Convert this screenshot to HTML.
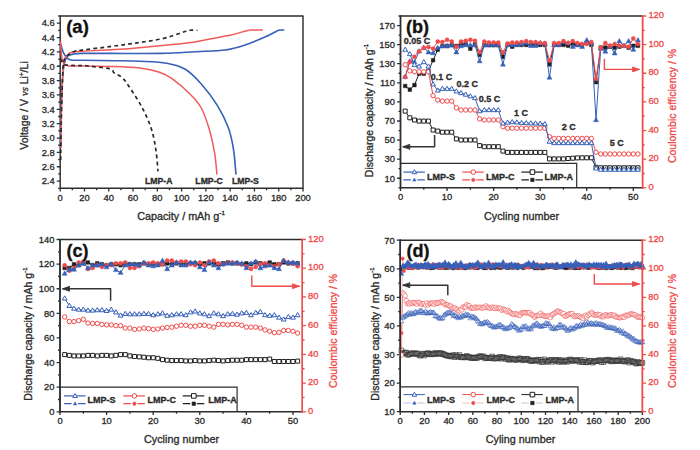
<!DOCTYPE html><html><head><meta charset="utf-8"><style>html,body{margin:0;padding:0;background:#fff;width:700px;height:450px;overflow:hidden;position:relative}</style></head><body><svg width="700" height="450" viewBox="0 0 700 450" style="position:absolute;left:0;top:0">
<g font-family='&quot;Liberation Sans&quot;, sans-serif'>
<path d="M60.2,16 H303 M60.2,188.3 H303" stroke="#2d2d2d" stroke-width="1.45" fill="none"/>
<path d="M60.2,15.4 V188.9" stroke="#2d2d2d" stroke-width="1.45" fill="none"/>
<path d="M303,15.4 V188.9" stroke="#2d2d2d" stroke-width="1.45" fill="none"/>
<path d="M60.20,188.3 v3.2 M84.48,188.3 v3.2 M108.76,188.3 v3.2 M133.04,188.3 v3.2 M157.32,188.3 v3.2 M181.60,188.3 v3.2 M205.88,188.3 v3.2 M230.16,188.3 v3.2 M254.44,188.3 v3.2 M278.72,188.3 v3.2 M303.00,188.3 v3.2 M72.34,188.3 v2 M96.62,188.3 v2 M120.90,188.3 v2 M145.18,188.3 v2 M169.46,188.3 v2 M193.74,188.3 v2 M218.02,188.3 v2 M242.30,188.3 v2 M266.58,188.3 v2 M290.86,188.3 v2 M60.2,181.12 h-3.4 M60.2,166.76 h-3.4 M60.2,152.40 h-3.4 M60.2,138.05 h-3.4 M60.2,123.69 h-3.4 M60.2,109.33 h-3.4 M60.2,94.97 h-3.4 M60.2,80.61 h-3.4 M60.2,66.25 h-3.4 M60.2,51.90 h-3.4 M60.2,37.54 h-3.4 M60.2,23.18 h-3.4 M60.2,188.30 h-2 M60.2,173.94 h-2 M60.2,159.58 h-2 M60.2,145.23 h-2 M60.2,130.87 h-2 M60.2,116.51 h-2 M60.2,102.15 h-2 M60.2,87.79 h-2 M60.2,73.43 h-2 M60.2,59.08 h-2 M60.2,44.72 h-2 M60.2,30.36 h-2 M60.2,16.00 h-2 " stroke="#2d2d2d" stroke-width="1.3" fill="none"/>
<text x="60.20" y="200.80" font-size="9.4" text-anchor="middle" fill="#2b2b2b" stroke="#2b2b2b" stroke-width="0.32" font-weight="normal" >0</text>
<text x="84.48" y="200.80" font-size="9.4" text-anchor="middle" fill="#2b2b2b" stroke="#2b2b2b" stroke-width="0.32" font-weight="normal" >20</text>
<text x="108.76" y="200.80" font-size="9.4" text-anchor="middle" fill="#2b2b2b" stroke="#2b2b2b" stroke-width="0.32" font-weight="normal" >40</text>
<text x="133.04" y="200.80" font-size="9.4" text-anchor="middle" fill="#2b2b2b" stroke="#2b2b2b" stroke-width="0.32" font-weight="normal" >60</text>
<text x="157.32" y="200.80" font-size="9.4" text-anchor="middle" fill="#2b2b2b" stroke="#2b2b2b" stroke-width="0.32" font-weight="normal" >80</text>
<text x="181.60" y="200.80" font-size="9.4" text-anchor="middle" fill="#2b2b2b" stroke="#2b2b2b" stroke-width="0.32" font-weight="normal" >100</text>
<text x="205.88" y="200.80" font-size="9.4" text-anchor="middle" fill="#2b2b2b" stroke="#2b2b2b" stroke-width="0.32" font-weight="normal" >120</text>
<text x="230.16" y="200.80" font-size="9.4" text-anchor="middle" fill="#2b2b2b" stroke="#2b2b2b" stroke-width="0.32" font-weight="normal" >140</text>
<text x="254.44" y="200.80" font-size="9.4" text-anchor="middle" fill="#2b2b2b" stroke="#2b2b2b" stroke-width="0.32" font-weight="normal" >160</text>
<text x="278.72" y="200.80" font-size="9.4" text-anchor="middle" fill="#2b2b2b" stroke="#2b2b2b" stroke-width="0.32" font-weight="normal" >180</text>
<text x="303.00" y="200.80" font-size="9.4" text-anchor="middle" fill="#2b2b2b" stroke="#2b2b2b" stroke-width="0.32" font-weight="normal" >200</text>
<text x="54.70" y="184.42" font-size="9.4" text-anchor="end" fill="#2b2b2b" stroke="#2b2b2b" stroke-width="0.32" font-weight="normal" >2.4</text>
<text x="54.70" y="170.06" font-size="9.4" text-anchor="end" fill="#2b2b2b" stroke="#2b2b2b" stroke-width="0.32" font-weight="normal" >2.6</text>
<text x="54.70" y="155.70" font-size="9.4" text-anchor="end" fill="#2b2b2b" stroke="#2b2b2b" stroke-width="0.32" font-weight="normal" >2.8</text>
<text x="54.70" y="141.35" font-size="9.4" text-anchor="end" fill="#2b2b2b" stroke="#2b2b2b" stroke-width="0.32" font-weight="normal" >3.0</text>
<text x="54.70" y="126.99" font-size="9.4" text-anchor="end" fill="#2b2b2b" stroke="#2b2b2b" stroke-width="0.32" font-weight="normal" >3.2</text>
<text x="54.70" y="112.63" font-size="9.4" text-anchor="end" fill="#2b2b2b" stroke="#2b2b2b" stroke-width="0.32" font-weight="normal" >3.4</text>
<text x="54.70" y="98.27" font-size="9.4" text-anchor="end" fill="#2b2b2b" stroke="#2b2b2b" stroke-width="0.32" font-weight="normal" >3.6</text>
<text x="54.70" y="83.91" font-size="9.4" text-anchor="end" fill="#2b2b2b" stroke="#2b2b2b" stroke-width="0.32" font-weight="normal" >3.8</text>
<text x="54.70" y="69.55" font-size="9.4" text-anchor="end" fill="#2b2b2b" stroke="#2b2b2b" stroke-width="0.32" font-weight="normal" >4.0</text>
<text x="54.70" y="55.20" font-size="9.4" text-anchor="end" fill="#2b2b2b" stroke="#2b2b2b" stroke-width="0.32" font-weight="normal" >4.2</text>
<text x="54.70" y="40.84" font-size="9.4" text-anchor="end" fill="#2b2b2b" stroke="#2b2b2b" stroke-width="0.32" font-weight="normal" >4.4</text>
<text x="54.70" y="26.48" font-size="9.4" text-anchor="end" fill="#2b2b2b" stroke="#2b2b2b" stroke-width="0.32" font-weight="normal" >4.6</text>
<text x="181.00" y="220.00" font-size="10.8" text-anchor="middle" fill="#2b2b2b" stroke="#2b2b2b" stroke-width="0.32" font-weight="normal" >Capacity / mAh g<tspan font-size="6.2" dy="-5">-1</tspan></text>
<text transform="translate(28.1,105.5) rotate(-90)" font-size="10.5" text-anchor="middle" fill="#2b2b2b" stroke="#2b2b2b" stroke-width="0.32">Voltage / V <tspan font-style="italic" font-family="Liberation Serif">vs</tspan> Li<tspan font-size="6.5" dy="-4">+</tspan><tspan dy="4">/Li</tspan></text>
<path d="M60.60,148.00 C60.70,141.67 60.90,121.33 61.20,110.00 C61.50,98.67 61.87,87.78 62.40,80.00 C62.93,72.22 63.53,67.25 64.40,63.30 C65.27,59.35 66.03,57.85 67.60,56.30 C69.17,54.75 71.40,54.48 73.80,54.00 C76.20,53.52 75.97,53.50 82.00,53.40 C88.03,53.30 96.77,53.40 110.00,53.40 C123.23,53.40 147.12,53.68 161.40,53.40 C175.68,53.12 185.10,52.27 195.70,51.70 C206.30,51.13 216.78,51.12 225.00,50.00 C233.22,48.88 238.33,47.17 245.00,45.00 C251.67,42.83 259.67,39.33 265.00,37.00 C270.33,34.67 274.73,32.13 277.00,31.00 C279.27,29.87 278.02,30.37 278.60,30.20 C279.18,30.03 279.55,30.03 280.50,30.00 C281.45,29.97 283.67,30.00 284.30,30.00" stroke="#3760b8" stroke-width="1.6" fill="none" stroke-linejoin="round"/>
<path d="M60.50,43.50 C61.03,45.12 62.52,50.67 63.70,53.20 C64.88,55.73 66.18,57.53 67.60,58.70 C69.02,59.87 69.80,59.95 72.20,60.20 C74.60,60.45 74.87,60.12 82.00,60.20 C89.13,60.28 105.33,60.52 115.00,60.70 C124.67,60.88 131.38,60.88 140.00,61.30 C148.62,61.72 159.15,61.87 166.70,63.20 C174.25,64.53 179.53,65.83 185.30,69.30 C191.07,72.77 195.97,78.00 201.30,84.00 C206.63,90.00 212.85,98.18 217.30,105.30 C221.75,112.42 225.33,119.58 228.00,126.70 C230.67,133.82 231.97,140.02 233.30,148.00 C234.63,155.98 235.55,170.17 236.00,174.60" stroke="#3760b8" stroke-width="1.6" fill="none" stroke-linejoin="round"/>
<path d="M60.80,148.00 C60.92,141.67 61.20,121.52 61.50,110.00 C61.80,98.48 62.12,87.20 62.60,78.90 C63.08,70.60 63.57,64.22 64.40,60.20 C65.23,56.18 66.30,56.15 67.60,54.80 C68.90,53.45 69.80,52.70 72.20,52.10 C74.60,51.50 74.87,51.62 82.00,51.20 C89.13,50.78 104.62,50.27 115.00,49.60 C125.38,48.93 135.13,48.00 144.30,47.20 C153.47,46.40 162.22,45.57 170.00,44.80 C177.78,44.03 184.33,43.57 191.00,42.60 C197.67,41.63 203.33,40.27 210.00,39.00 C216.67,37.73 225.17,36.30 231.00,35.00 C236.83,33.70 242.00,32.00 245.00,31.20 C248.00,30.40 247.83,30.40 249.00,30.20 C250.17,30.00 249.68,30.03 252.00,30.00 C254.32,29.97 261.08,30.00 262.90,30.00" stroke="#f25a5a" stroke-width="1.5" fill="none" stroke-linejoin="round"/>
<path d="M60.50,41.00 C60.68,43.42 61.07,51.78 61.60,55.50 C62.13,59.22 62.70,61.60 63.70,63.30 C64.70,65.00 64.55,65.23 67.60,65.70 C70.65,66.17 74.10,65.98 82.00,66.10 C89.90,66.22 105.33,66.08 115.00,66.40 C124.67,66.72 132.72,67.07 140.00,68.00 C147.28,68.93 153.37,70.22 158.70,72.00 C164.03,73.78 166.67,74.92 172.00,78.70 C177.33,82.48 185.82,89.82 190.70,94.70 C195.58,99.58 198.20,102.23 201.30,108.00 C204.40,113.77 207.07,121.75 209.30,129.30 C211.53,136.85 213.43,145.75 214.70,153.30 C215.97,160.85 216.53,171.05 216.90,174.60" stroke="#f25a5a" stroke-width="1.5" fill="none" stroke-linejoin="round"/>
<path d="M60.70,160.00 C60.80,153.33 61.00,133.33 61.30,120.00 C61.60,106.67 62.10,89.70 62.50,80.00 C62.90,70.30 62.85,65.88 63.70,61.80 C64.55,57.72 65.92,57.18 67.60,55.50 C69.28,53.82 71.40,52.60 73.80,51.70 C76.20,50.80 75.97,50.95 82.00,50.10 C88.03,49.25 101.05,47.77 110.00,46.60 C118.95,45.43 127.13,44.38 135.70,43.10 C144.27,41.82 154.25,40.47 161.40,38.90 C168.55,37.33 174.02,35.13 178.60,33.70 C183.18,32.27 185.77,30.87 188.90,30.30 C192.03,29.73 195.98,30.30 197.40,30.30" stroke="#2a2a2a" stroke-width="1.7" fill="none" stroke-linejoin="round" stroke-dasharray="3.8,3.2"/>
<path d="M60.50,58.70 C60.90,59.47 61.72,62.22 62.90,63.30 C64.08,64.38 64.42,64.80 67.60,65.20 C70.78,65.60 78.55,65.57 82.00,65.70 C85.45,65.83 83.63,65.47 88.30,66.00 C92.97,66.53 105.72,67.78 110.00,68.90 C114.28,70.02 112.00,71.27 114.00,72.70 C116.00,74.13 119.55,75.28 122.00,77.50 C124.45,79.72 125.37,81.03 128.70,86.00 C132.03,90.97 138.23,100.18 142.00,107.30 C145.77,114.42 148.98,121.58 151.30,128.70 C153.62,135.82 154.78,142.90 155.90,150.00 C157.02,157.10 157.65,167.75 158.00,171.30" stroke="#2a2a2a" stroke-width="1.7" fill="none" stroke-linejoin="round" stroke-dasharray="3.8,3.2"/>
<text x="158.80" y="184.20" font-size="8.7" text-anchor="middle" fill="#2b2b2b" stroke="#2b2b2b" stroke-width="0.32" font-weight="bold" >LMP-A</text>
<text x="209.10" y="184.20" font-size="8.7" text-anchor="middle" fill="#2b2b2b" stroke="#2b2b2b" stroke-width="0.32" font-weight="bold" >LMP-C</text>
<text x="245.40" y="184.20" font-size="8.7" text-anchor="middle" fill="#2b2b2b" stroke="#2b2b2b" stroke-width="0.32" font-weight="bold" >LMP-S</text>
<text x="66.20" y="32.80" font-size="18" text-anchor="start" fill="#111" stroke="#111" stroke-width="0.32" font-weight="bold" textLength="22.7" lengthAdjust="spacingAndGlyphs">(a)</text>
<path d="M400.5,16 H642.6 M400.5,187.8 H642.6" stroke="#2d2d2d" stroke-width="1.45" fill="none"/>
<path d="M400.5,15.4 V188.4" stroke="#2d2d2d" stroke-width="1.45" fill="none"/>
<path d="M642.6,15.4 V188.4" stroke="#ef4b4b" stroke-width="1.45" fill="none"/>
<path d="M400.50,187.8 v3.2 M447.06,187.8 v3.2 M493.62,187.8 v3.2 M540.17,187.8 v3.2 M586.73,187.8 v3.2 M633.29,187.8 v3.2 M423.78,187.8 v2 M470.34,187.8 v2 M516.89,187.8 v2 M563.45,187.8 v2 M610.01,187.8 v2 M400.5,178.26 h-3.4 M400.5,159.17 h-3.4 M400.5,140.08 h-3.4 M400.5,120.99 h-3.4 M400.5,101.90 h-3.4 M400.5,82.81 h-3.4 M400.5,63.72 h-3.4 M400.5,44.63 h-3.4 M400.5,25.54 h-3.4 M400.5,187.80 h-2 M400.5,168.71 h-2 M400.5,149.62 h-2 M400.5,130.53 h-2 M400.5,111.44 h-2 M400.5,92.36 h-2 M400.5,73.27 h-2 M400.5,54.18 h-2 M400.5,35.09 h-2 M400.5,16.00 h-2 " stroke="#2d2d2d" stroke-width="1.3" fill="none"/>
<path d="M642.6,187.80 h3.6 M642.6,159.17 h3.6 M642.6,130.53 h3.6 M642.6,101.90 h3.6 M642.6,73.27 h3.6 M642.6,44.63 h3.6 M642.6,16.00 h3.6 M642.6,173.48 h2.2 M642.6,144.85 h2.2 M642.6,116.22 h2.2 M642.6,87.58 h2.2 M642.6,58.95 h2.2 M642.6,30.32 h2.2 " stroke="#ef4b4b" stroke-width="1.3" fill="none"/>
<text x="400.50" y="200.30" font-size="9.4" text-anchor="middle" fill="#2b2b2b" stroke="#2b2b2b" stroke-width="0.32" font-weight="normal" >0</text>
<text x="447.06" y="200.30" font-size="9.4" text-anchor="middle" fill="#2b2b2b" stroke="#2b2b2b" stroke-width="0.32" font-weight="normal" >10</text>
<text x="493.62" y="200.30" font-size="9.4" text-anchor="middle" fill="#2b2b2b" stroke="#2b2b2b" stroke-width="0.32" font-weight="normal" >20</text>
<text x="540.17" y="200.30" font-size="9.4" text-anchor="middle" fill="#2b2b2b" stroke="#2b2b2b" stroke-width="0.32" font-weight="normal" >30</text>
<text x="586.73" y="200.30" font-size="9.4" text-anchor="middle" fill="#2b2b2b" stroke="#2b2b2b" stroke-width="0.32" font-weight="normal" >40</text>
<text x="633.29" y="200.30" font-size="9.4" text-anchor="middle" fill="#2b2b2b" stroke="#2b2b2b" stroke-width="0.32" font-weight="normal" >50</text>
<text x="395.00" y="181.56" font-size="9.4" text-anchor="end" fill="#2b2b2b" stroke="#2b2b2b" stroke-width="0.32" font-weight="normal" >10</text>
<text x="395.00" y="162.47" font-size="9.4" text-anchor="end" fill="#2b2b2b" stroke="#2b2b2b" stroke-width="0.32" font-weight="normal" >30</text>
<text x="395.00" y="143.38" font-size="9.4" text-anchor="end" fill="#2b2b2b" stroke="#2b2b2b" stroke-width="0.32" font-weight="normal" >50</text>
<text x="395.00" y="124.29" font-size="9.4" text-anchor="end" fill="#2b2b2b" stroke="#2b2b2b" stroke-width="0.32" font-weight="normal" >70</text>
<text x="395.00" y="105.20" font-size="9.4" text-anchor="end" fill="#2b2b2b" stroke="#2b2b2b" stroke-width="0.32" font-weight="normal" >90</text>
<text x="395.00" y="86.11" font-size="9.4" text-anchor="end" fill="#2b2b2b" stroke="#2b2b2b" stroke-width="0.32" font-weight="normal" >110</text>
<text x="395.00" y="67.02" font-size="9.4" text-anchor="end" fill="#2b2b2b" stroke="#2b2b2b" stroke-width="0.32" font-weight="normal" >130</text>
<text x="395.00" y="47.93" font-size="9.4" text-anchor="end" fill="#2b2b2b" stroke="#2b2b2b" stroke-width="0.32" font-weight="normal" >150</text>
<text x="395.00" y="28.84" font-size="9.4" text-anchor="end" fill="#2b2b2b" stroke="#2b2b2b" stroke-width="0.32" font-weight="normal" >170</text>
<text x="648.40" y="190.00" font-size="9.4" text-anchor="start" fill="#ef4b4b" stroke="#ef4b4b" stroke-width="0.32" font-weight="normal" >0</text>
<text x="648.40" y="161.37" font-size="9.4" text-anchor="start" fill="#ef4b4b" stroke="#ef4b4b" stroke-width="0.32" font-weight="normal" >20</text>
<text x="648.40" y="132.73" font-size="9.4" text-anchor="start" fill="#ef4b4b" stroke="#ef4b4b" stroke-width="0.32" font-weight="normal" >40</text>
<text x="648.40" y="104.10" font-size="9.4" text-anchor="start" fill="#ef4b4b" stroke="#ef4b4b" stroke-width="0.32" font-weight="normal" >60</text>
<text x="648.40" y="75.47" font-size="9.4" text-anchor="start" fill="#ef4b4b" stroke="#ef4b4b" stroke-width="0.32" font-weight="normal" >80</text>
<text x="648.40" y="46.83" font-size="9.4" text-anchor="start" fill="#ef4b4b" stroke="#ef4b4b" stroke-width="0.32" font-weight="normal" >100</text>
<text x="648.40" y="18.20" font-size="9.4" text-anchor="start" fill="#ef4b4b" stroke="#ef4b4b" stroke-width="0.32" font-weight="normal" >120</text>
<text x="521.50" y="220.20" font-size="10.8" text-anchor="middle" fill="#2b2b2b" stroke="#2b2b2b" stroke-width="0.32" font-weight="normal" >Cycling number</text>
<text transform="translate(373,110.5) rotate(-90)" font-size="10.5" text-anchor="middle" fill="#2b2b2b" stroke="#2b2b2b" stroke-width="0.32">Discharge capacity / mAh g<tspan font-size="6.2" dy="-5">-1</tspan></text>
<text transform="translate(676,106) rotate(-90)" font-size="10.5" text-anchor="middle" fill="#ef4b4b" stroke="#ef4b4b" stroke-width="0.32">Coulombic efficiency / %</text>
<path d="M405.16,86.00 L409.81,89.60 L414.47,85.10 L419.12,73.60 L423.78,73.60 L428.43,70.90 L433.09,60.20 L437.75,49.60 L442.40,46.00 L447.06,46.00 L451.71,45.10 L456.37,46.00 L461.02,44.20 L465.68,44.20 L470.34,48.70 L474.99,44.20 L479.65,54.90 L484.30,45.10 L488.96,45.10 L493.62,45.10 L498.27,45.10 L502.93,56.90 L507.58,44.90 L512.24,46.70 L516.89,44.90 L521.55,44.90 L526.21,44.90 L530.86,44.90 L535.52,44.90 L540.17,44.90 L544.83,44.90 L549.48,64.40 L554.14,44.90 L558.80,44.90 L563.45,44.90 L568.11,45.80 L572.76,44.00 L577.42,44.90 L582.08,44.90 L586.73,43.00 L591.39,44.90 L596.04,82.20 L600.70,47.60 L605.35,47.60 L610.01,46.70 L614.67,47.60 L619.32,46.70 L623.98,45.80 L628.63,47.60 L633.29,45.80 L637.94,45.80" stroke="#1e1e1e" stroke-width="1.0" fill="none" stroke-linejoin="round"/>
<path d="M403.36,84.20 h3.60 v3.60 h-3.60 Z M408.01,87.80 h3.60 v3.60 h-3.60 Z M412.67,83.30 h3.60 v3.60 h-3.60 Z M417.32,71.80 h3.60 v3.60 h-3.60 Z M421.98,71.80 h3.60 v3.60 h-3.60 Z M426.63,69.10 h3.60 v3.60 h-3.60 Z M431.29,58.40 h3.60 v3.60 h-3.60 Z M435.95,47.80 h3.60 v3.60 h-3.60 Z M440.60,44.20 h3.60 v3.60 h-3.60 Z M445.26,44.20 h3.60 v3.60 h-3.60 Z M449.91,43.30 h3.60 v3.60 h-3.60 Z M454.57,44.20 h3.60 v3.60 h-3.60 Z M459.22,42.40 h3.60 v3.60 h-3.60 Z M463.88,42.40 h3.60 v3.60 h-3.60 Z M468.54,46.90 h3.60 v3.60 h-3.60 Z M473.19,42.40 h3.60 v3.60 h-3.60 Z M477.85,53.10 h3.60 v3.60 h-3.60 Z M482.50,43.30 h3.60 v3.60 h-3.60 Z M487.16,43.30 h3.60 v3.60 h-3.60 Z M491.82,43.30 h3.60 v3.60 h-3.60 Z M496.47,43.30 h3.60 v3.60 h-3.60 Z M501.13,55.10 h3.60 v3.60 h-3.60 Z M505.78,43.10 h3.60 v3.60 h-3.60 Z M510.44,44.90 h3.60 v3.60 h-3.60 Z M515.09,43.10 h3.60 v3.60 h-3.60 Z M519.75,43.10 h3.60 v3.60 h-3.60 Z M524.41,43.10 h3.60 v3.60 h-3.60 Z M529.06,43.10 h3.60 v3.60 h-3.60 Z M533.72,43.10 h3.60 v3.60 h-3.60 Z M538.37,43.10 h3.60 v3.60 h-3.60 Z M543.03,43.10 h3.60 v3.60 h-3.60 Z M547.68,62.60 h3.60 v3.60 h-3.60 Z M552.34,43.10 h3.60 v3.60 h-3.60 Z M557.00,43.10 h3.60 v3.60 h-3.60 Z M561.65,43.10 h3.60 v3.60 h-3.60 Z M566.31,44.00 h3.60 v3.60 h-3.60 Z M570.96,42.20 h3.60 v3.60 h-3.60 Z M575.62,43.10 h3.60 v3.60 h-3.60 Z M580.28,43.10 h3.60 v3.60 h-3.60 Z M584.93,41.20 h3.60 v3.60 h-3.60 Z M589.59,43.10 h3.60 v3.60 h-3.60 Z M594.24,80.40 h3.60 v3.60 h-3.60 Z M598.90,45.80 h3.60 v3.60 h-3.60 Z M603.55,45.80 h3.60 v3.60 h-3.60 Z M608.21,44.90 h3.60 v3.60 h-3.60 Z M612.87,45.80 h3.60 v3.60 h-3.60 Z M617.52,44.90 h3.60 v3.60 h-3.60 Z M622.18,44.00 h3.60 v3.60 h-3.60 Z M626.83,45.80 h3.60 v3.60 h-3.60 Z M631.49,44.00 h3.60 v3.60 h-3.60 Z M636.14,44.00 h3.60 v3.60 h-3.60 Z " stroke="#1e1e1e" stroke-width="0.5" fill="#1e1e1e"/>
<path d="M405.16,76.60 L409.81,61.10 L414.47,62.00 L419.12,51.30 L423.78,47.80 L428.43,52.20 L433.09,53.10 L437.75,47.80 L442.40,46.00 L447.06,46.00 L451.71,45.10 L456.37,52.20 L461.02,46.00 L465.68,45.10 L470.34,45.10 L474.99,45.10 L479.65,61.10 L484.30,45.10 L488.96,45.10 L493.62,45.10 L498.27,45.10 L502.93,64.40 L507.58,44.90 L512.24,44.90 L516.89,44.90 L521.55,43.90 L526.21,43.00 L530.86,45.80 L535.52,45.80 L540.17,43.00 L544.83,43.90 L549.48,77.40 L554.14,44.90 L558.80,44.90 L563.45,42.00 L568.11,43.00 L572.76,46.70 L577.42,44.90 L582.08,46.70 L586.73,40.20 L591.39,43.00 L596.04,120.00 L600.70,48.60 L605.35,51.40 L610.01,45.80 L614.67,53.20 L619.32,41.10 L623.98,45.80 L628.63,41.10 L633.29,49.50 L637.94,40.20" stroke="#3760b8" stroke-width="1.0" fill="none" stroke-linejoin="round"/>
<path d="M405.16,74.00 L407.66,78.33 L402.66,78.33 Z M409.81,58.50 L412.31,62.83 L407.31,62.83 Z M414.47,59.40 L416.97,63.73 L411.97,63.73 Z M419.12,48.70 L421.62,53.03 L416.62,53.03 Z M423.78,45.20 L426.28,49.53 L421.28,49.53 Z M428.43,49.60 L430.93,53.93 L425.93,53.93 Z M433.09,50.50 L435.59,54.83 L430.59,54.83 Z M437.75,45.20 L440.25,49.53 L435.25,49.53 Z M442.40,43.40 L444.90,47.73 L439.90,47.73 Z M447.06,43.40 L449.56,47.73 L444.56,47.73 Z M451.71,42.50 L454.21,46.83 L449.21,46.83 Z M456.37,49.60 L458.87,53.93 L453.87,53.93 Z M461.02,43.40 L463.52,47.73 L458.52,47.73 Z M465.68,42.50 L468.18,46.83 L463.18,46.83 Z M470.34,42.50 L472.84,46.83 L467.84,46.83 Z M474.99,42.50 L477.49,46.83 L472.49,46.83 Z M479.65,58.50 L482.15,62.83 L477.15,62.83 Z M484.30,42.50 L486.80,46.83 L481.80,46.83 Z M488.96,42.50 L491.46,46.83 L486.46,46.83 Z M493.62,42.50 L496.12,46.83 L491.12,46.83 Z M498.27,42.50 L500.77,46.83 L495.77,46.83 Z M502.93,61.80 L505.43,66.13 L500.43,66.13 Z M507.58,42.30 L510.08,46.63 L505.08,46.63 Z M512.24,42.30 L514.74,46.63 L509.74,46.63 Z M516.89,42.30 L519.39,46.63 L514.39,46.63 Z M521.55,41.30 L524.05,45.63 L519.05,45.63 Z M526.21,40.40 L528.71,44.73 L523.71,44.73 Z M530.86,43.20 L533.36,47.53 L528.36,47.53 Z M535.52,43.20 L538.02,47.53 L533.02,47.53 Z M540.17,40.40 L542.67,44.73 L537.67,44.73 Z M544.83,41.30 L547.33,45.63 L542.33,45.63 Z M549.48,74.80 L551.98,79.13 L546.98,79.13 Z M554.14,42.30 L556.64,46.63 L551.64,46.63 Z M558.80,42.30 L561.30,46.63 L556.30,46.63 Z M563.45,39.40 L565.95,43.73 L560.95,43.73 Z M568.11,40.40 L570.61,44.73 L565.61,44.73 Z M572.76,44.10 L575.26,48.43 L570.26,48.43 Z M577.42,42.30 L579.92,46.63 L574.92,46.63 Z M582.08,44.10 L584.58,48.43 L579.58,48.43 Z M586.73,37.60 L589.23,41.93 L584.23,41.93 Z M591.39,40.40 L593.89,44.73 L588.89,44.73 Z M596.04,117.40 L598.54,121.73 L593.54,121.73 Z M600.70,46.00 L603.20,50.33 L598.20,50.33 Z M605.35,48.80 L607.85,53.13 L602.85,53.13 Z M610.01,43.20 L612.51,47.53 L607.51,47.53 Z M614.67,50.60 L617.17,54.93 L612.17,54.93 Z M619.32,38.50 L621.82,42.83 L616.82,42.83 Z M623.98,43.20 L626.48,47.53 L621.48,47.53 Z M628.63,38.50 L631.13,42.83 L626.13,42.83 Z M633.29,46.90 L635.79,51.23 L630.79,51.23 Z M637.94,37.60 L640.44,41.93 L635.44,41.93 Z " stroke="#3760b8" stroke-width="0.5" fill="#3760b8" stroke-linejoin="miter"/>
<path d="M405.16,77.10 L409.81,62.00 L414.47,56.70 L419.12,51.30 L423.78,47.80 L428.43,46.90 L433.09,48.70 L437.75,41.60 L442.40,42.10 L447.06,39.80 L451.71,41.60 L456.37,46.90 L461.02,41.60 L465.68,40.70 L470.34,39.80 L474.99,40.70 L479.65,52.20 L484.30,41.60 L488.96,42.40 L493.62,42.40 L498.27,42.40 L502.93,52.30 L507.58,43.40 L512.24,42.60 L516.89,42.60 L521.55,42.10 L526.21,41.10 L530.86,42.10 L535.52,42.10 L540.17,43.00 L544.83,43.00 L549.48,60.60 L554.14,43.00 L558.80,43.00 L563.45,41.10 L568.11,43.00 L572.76,41.10 L577.42,43.00 L582.08,43.90 L586.73,43.90 L591.39,42.00 L596.04,78.90 L600.70,47.60 L605.35,43.00 L610.01,45.80 L614.67,43.90 L619.32,45.80 L623.98,45.80 L628.63,46.70 L633.29,38.40 L637.94,43.90" stroke="#ef4b4b" stroke-width="1.0" fill="none" stroke-linejoin="round"/>
<circle cx="405.16" cy="77.10" r="2.00" stroke="#ef4b4b" stroke-width="0.5" fill="#ef4b4b"/>
<circle cx="409.81" cy="62.00" r="2.00" stroke="#ef4b4b" stroke-width="0.5" fill="#ef4b4b"/>
<circle cx="414.47" cy="56.70" r="2.00" stroke="#ef4b4b" stroke-width="0.5" fill="#ef4b4b"/>
<circle cx="419.12" cy="51.30" r="2.00" stroke="#ef4b4b" stroke-width="0.5" fill="#ef4b4b"/>
<circle cx="423.78" cy="47.80" r="2.00" stroke="#ef4b4b" stroke-width="0.5" fill="#ef4b4b"/>
<circle cx="428.43" cy="46.90" r="2.00" stroke="#ef4b4b" stroke-width="0.5" fill="#ef4b4b"/>
<circle cx="433.09" cy="48.70" r="2.00" stroke="#ef4b4b" stroke-width="0.5" fill="#ef4b4b"/>
<circle cx="437.75" cy="41.60" r="2.00" stroke="#ef4b4b" stroke-width="0.5" fill="#ef4b4b"/>
<circle cx="442.40" cy="42.10" r="2.00" stroke="#ef4b4b" stroke-width="0.5" fill="#ef4b4b"/>
<circle cx="447.06" cy="39.80" r="2.00" stroke="#ef4b4b" stroke-width="0.5" fill="#ef4b4b"/>
<circle cx="451.71" cy="41.60" r="2.00" stroke="#ef4b4b" stroke-width="0.5" fill="#ef4b4b"/>
<circle cx="456.37" cy="46.90" r="2.00" stroke="#ef4b4b" stroke-width="0.5" fill="#ef4b4b"/>
<circle cx="461.02" cy="41.60" r="2.00" stroke="#ef4b4b" stroke-width="0.5" fill="#ef4b4b"/>
<circle cx="465.68" cy="40.70" r="2.00" stroke="#ef4b4b" stroke-width="0.5" fill="#ef4b4b"/>
<circle cx="470.34" cy="39.80" r="2.00" stroke="#ef4b4b" stroke-width="0.5" fill="#ef4b4b"/>
<circle cx="474.99" cy="40.70" r="2.00" stroke="#ef4b4b" stroke-width="0.5" fill="#ef4b4b"/>
<circle cx="479.65" cy="52.20" r="2.00" stroke="#ef4b4b" stroke-width="0.5" fill="#ef4b4b"/>
<circle cx="484.30" cy="41.60" r="2.00" stroke="#ef4b4b" stroke-width="0.5" fill="#ef4b4b"/>
<circle cx="488.96" cy="42.40" r="2.00" stroke="#ef4b4b" stroke-width="0.5" fill="#ef4b4b"/>
<circle cx="493.62" cy="42.40" r="2.00" stroke="#ef4b4b" stroke-width="0.5" fill="#ef4b4b"/>
<circle cx="498.27" cy="42.40" r="2.00" stroke="#ef4b4b" stroke-width="0.5" fill="#ef4b4b"/>
<circle cx="502.93" cy="52.30" r="2.00" stroke="#ef4b4b" stroke-width="0.5" fill="#ef4b4b"/>
<circle cx="507.58" cy="43.40" r="2.00" stroke="#ef4b4b" stroke-width="0.5" fill="#ef4b4b"/>
<circle cx="512.24" cy="42.60" r="2.00" stroke="#ef4b4b" stroke-width="0.5" fill="#ef4b4b"/>
<circle cx="516.89" cy="42.60" r="2.00" stroke="#ef4b4b" stroke-width="0.5" fill="#ef4b4b"/>
<circle cx="521.55" cy="42.10" r="2.00" stroke="#ef4b4b" stroke-width="0.5" fill="#ef4b4b"/>
<circle cx="526.21" cy="41.10" r="2.00" stroke="#ef4b4b" stroke-width="0.5" fill="#ef4b4b"/>
<circle cx="530.86" cy="42.10" r="2.00" stroke="#ef4b4b" stroke-width="0.5" fill="#ef4b4b"/>
<circle cx="535.52" cy="42.10" r="2.00" stroke="#ef4b4b" stroke-width="0.5" fill="#ef4b4b"/>
<circle cx="540.17" cy="43.00" r="2.00" stroke="#ef4b4b" stroke-width="0.5" fill="#ef4b4b"/>
<circle cx="544.83" cy="43.00" r="2.00" stroke="#ef4b4b" stroke-width="0.5" fill="#ef4b4b"/>
<circle cx="549.48" cy="60.60" r="2.00" stroke="#ef4b4b" stroke-width="0.5" fill="#ef4b4b"/>
<circle cx="554.14" cy="43.00" r="2.00" stroke="#ef4b4b" stroke-width="0.5" fill="#ef4b4b"/>
<circle cx="558.80" cy="43.00" r="2.00" stroke="#ef4b4b" stroke-width="0.5" fill="#ef4b4b"/>
<circle cx="563.45" cy="41.10" r="2.00" stroke="#ef4b4b" stroke-width="0.5" fill="#ef4b4b"/>
<circle cx="568.11" cy="43.00" r="2.00" stroke="#ef4b4b" stroke-width="0.5" fill="#ef4b4b"/>
<circle cx="572.76" cy="41.10" r="2.00" stroke="#ef4b4b" stroke-width="0.5" fill="#ef4b4b"/>
<circle cx="577.42" cy="43.00" r="2.00" stroke="#ef4b4b" stroke-width="0.5" fill="#ef4b4b"/>
<circle cx="582.08" cy="43.90" r="2.00" stroke="#ef4b4b" stroke-width="0.5" fill="#ef4b4b"/>
<circle cx="586.73" cy="43.90" r="2.00" stroke="#ef4b4b" stroke-width="0.5" fill="#ef4b4b"/>
<circle cx="591.39" cy="42.00" r="2.00" stroke="#ef4b4b" stroke-width="0.5" fill="#ef4b4b"/>
<circle cx="596.04" cy="78.90" r="2.00" stroke="#ef4b4b" stroke-width="0.5" fill="#ef4b4b"/>
<circle cx="600.70" cy="47.60" r="2.00" stroke="#ef4b4b" stroke-width="0.5" fill="#ef4b4b"/>
<circle cx="605.35" cy="43.00" r="2.00" stroke="#ef4b4b" stroke-width="0.5" fill="#ef4b4b"/>
<circle cx="610.01" cy="45.80" r="2.00" stroke="#ef4b4b" stroke-width="0.5" fill="#ef4b4b"/>
<circle cx="614.67" cy="43.90" r="2.00" stroke="#ef4b4b" stroke-width="0.5" fill="#ef4b4b"/>
<circle cx="619.32" cy="45.80" r="2.00" stroke="#ef4b4b" stroke-width="0.5" fill="#ef4b4b"/>
<circle cx="623.98" cy="45.80" r="2.00" stroke="#ef4b4b" stroke-width="0.5" fill="#ef4b4b"/>
<circle cx="628.63" cy="46.70" r="2.00" stroke="#ef4b4b" stroke-width="0.5" fill="#ef4b4b"/>
<circle cx="633.29" cy="38.40" r="2.00" stroke="#ef4b4b" stroke-width="0.5" fill="#ef4b4b"/>
<circle cx="637.94" cy="43.90" r="2.00" stroke="#ef4b4b" stroke-width="0.5" fill="#ef4b4b"/>
<path d="M405.16,111.10 L409.81,117.80 L414.47,120.00 L419.12,121.10 L423.78,121.10 L428.43,121.10 L433.09,130.00 L437.75,131.10 L442.40,132.20 L447.06,132.20 L451.71,132.20 L456.37,138.90 L461.02,140.00 L465.68,140.00 L470.34,140.00 L474.99,140.00 L479.65,145.60 L484.30,146.70 L488.96,146.70 L493.62,146.70 L498.27,146.70 L502.93,151.10 L507.58,152.40 L512.24,152.40 L516.89,152.40 L521.55,152.40 L526.21,152.40 L530.86,152.40 L535.52,152.40 L540.17,152.40 L544.83,152.40 L549.48,158.90 L554.14,158.90 L558.80,158.90 L563.45,158.90 L568.11,158.50 L572.76,158.20 L577.42,157.90 L582.08,157.80 L586.73,157.80 L591.39,157.80 L596.04,167.30 L600.70,167.80 L605.35,167.80 L610.01,167.80 L614.67,167.80 L619.32,167.80 L623.98,167.80 L628.63,167.80 L633.29,167.80 L637.94,167.80" stroke="#1e1e1e" stroke-width="1.0" fill="none" stroke-linejoin="round"/>
<path d="M403.16,109.10 h4.00 v4.00 h-4.00 Z M407.81,115.80 h4.00 v4.00 h-4.00 Z M412.47,118.00 h4.00 v4.00 h-4.00 Z M417.12,119.10 h4.00 v4.00 h-4.00 Z M421.78,119.10 h4.00 v4.00 h-4.00 Z M426.43,119.10 h4.00 v4.00 h-4.00 Z M431.09,128.00 h4.00 v4.00 h-4.00 Z M435.75,129.10 h4.00 v4.00 h-4.00 Z M440.40,130.20 h4.00 v4.00 h-4.00 Z M445.06,130.20 h4.00 v4.00 h-4.00 Z M449.71,130.20 h4.00 v4.00 h-4.00 Z M454.37,136.90 h4.00 v4.00 h-4.00 Z M459.02,138.00 h4.00 v4.00 h-4.00 Z M463.68,138.00 h4.00 v4.00 h-4.00 Z M468.34,138.00 h4.00 v4.00 h-4.00 Z M472.99,138.00 h4.00 v4.00 h-4.00 Z M477.65,143.60 h4.00 v4.00 h-4.00 Z M482.30,144.70 h4.00 v4.00 h-4.00 Z M486.96,144.70 h4.00 v4.00 h-4.00 Z M491.62,144.70 h4.00 v4.00 h-4.00 Z M496.27,144.70 h4.00 v4.00 h-4.00 Z M500.93,149.10 h4.00 v4.00 h-4.00 Z M505.58,150.40 h4.00 v4.00 h-4.00 Z M510.24,150.40 h4.00 v4.00 h-4.00 Z M514.89,150.40 h4.00 v4.00 h-4.00 Z M519.55,150.40 h4.00 v4.00 h-4.00 Z M524.21,150.40 h4.00 v4.00 h-4.00 Z M528.86,150.40 h4.00 v4.00 h-4.00 Z M533.52,150.40 h4.00 v4.00 h-4.00 Z M538.17,150.40 h4.00 v4.00 h-4.00 Z M542.83,150.40 h4.00 v4.00 h-4.00 Z M547.48,156.90 h4.00 v4.00 h-4.00 Z M552.14,156.90 h4.00 v4.00 h-4.00 Z M556.80,156.90 h4.00 v4.00 h-4.00 Z M561.45,156.90 h4.00 v4.00 h-4.00 Z M566.11,156.50 h4.00 v4.00 h-4.00 Z M570.76,156.20 h4.00 v4.00 h-4.00 Z M575.42,155.90 h4.00 v4.00 h-4.00 Z M580.08,155.80 h4.00 v4.00 h-4.00 Z M584.73,155.80 h4.00 v4.00 h-4.00 Z M589.39,155.80 h4.00 v4.00 h-4.00 Z M594.04,165.30 h4.00 v4.00 h-4.00 Z M598.70,165.80 h4.00 v4.00 h-4.00 Z M603.35,165.80 h4.00 v4.00 h-4.00 Z M608.01,165.80 h4.00 v4.00 h-4.00 Z M612.67,165.80 h4.00 v4.00 h-4.00 Z M617.32,165.80 h4.00 v4.00 h-4.00 Z M621.98,165.80 h4.00 v4.00 h-4.00 Z M626.63,165.80 h4.00 v4.00 h-4.00 Z M631.29,165.80 h4.00 v4.00 h-4.00 Z M635.94,165.80 h4.00 v4.00 h-4.00 Z " stroke="#1e1e1e" stroke-width="1.0" fill="#fff"/>
<path d="M405.16,64.70 L409.81,70.90 L414.47,71.80 L419.12,71.80 L423.78,71.80 L428.43,71.80 L433.09,95.60 L437.75,100.00 L442.40,101.10 L447.06,101.10 L451.71,101.10 L456.37,107.80 L461.02,110.00 L465.68,110.00 L470.34,110.00 L474.99,110.00 L479.65,118.90 L484.30,120.00 L488.96,120.00 L493.62,120.00 L498.27,120.00 L502.93,126.70 L507.58,128.20 L512.24,128.20 L516.89,128.20 L521.55,128.20 L526.21,128.20 L530.86,128.20 L535.52,128.20 L540.17,128.20 L544.83,128.20 L549.48,136.70 L554.14,138.40 L558.80,138.40 L563.45,138.40 L568.11,138.40 L572.76,138.40 L577.42,138.40 L582.08,138.40 L586.73,138.40 L591.39,138.40 L596.04,152.20 L600.70,154.00 L605.35,154.00 L610.01,154.00 L614.67,154.00 L619.32,154.00 L623.98,154.00 L628.63,154.00 L633.29,154.00 L637.94,154.00" stroke="#ef4b4b" stroke-width="1.0" fill="none" stroke-linejoin="round"/>
<circle cx="405.16" cy="64.70" r="2.20" stroke="#ef4b4b" stroke-width="1.0" fill="#fff"/>
<circle cx="409.81" cy="70.90" r="2.20" stroke="#ef4b4b" stroke-width="1.0" fill="#fff"/>
<circle cx="414.47" cy="71.80" r="2.20" stroke="#ef4b4b" stroke-width="1.0" fill="#fff"/>
<circle cx="419.12" cy="71.80" r="2.20" stroke="#ef4b4b" stroke-width="1.0" fill="#fff"/>
<circle cx="423.78" cy="71.80" r="2.20" stroke="#ef4b4b" stroke-width="1.0" fill="#fff"/>
<circle cx="428.43" cy="71.80" r="2.20" stroke="#ef4b4b" stroke-width="1.0" fill="#fff"/>
<circle cx="433.09" cy="95.60" r="2.20" stroke="#ef4b4b" stroke-width="1.0" fill="#fff"/>
<circle cx="437.75" cy="100.00" r="2.20" stroke="#ef4b4b" stroke-width="1.0" fill="#fff"/>
<circle cx="442.40" cy="101.10" r="2.20" stroke="#ef4b4b" stroke-width="1.0" fill="#fff"/>
<circle cx="447.06" cy="101.10" r="2.20" stroke="#ef4b4b" stroke-width="1.0" fill="#fff"/>
<circle cx="451.71" cy="101.10" r="2.20" stroke="#ef4b4b" stroke-width="1.0" fill="#fff"/>
<circle cx="456.37" cy="107.80" r="2.20" stroke="#ef4b4b" stroke-width="1.0" fill="#fff"/>
<circle cx="461.02" cy="110.00" r="2.20" stroke="#ef4b4b" stroke-width="1.0" fill="#fff"/>
<circle cx="465.68" cy="110.00" r="2.20" stroke="#ef4b4b" stroke-width="1.0" fill="#fff"/>
<circle cx="470.34" cy="110.00" r="2.20" stroke="#ef4b4b" stroke-width="1.0" fill="#fff"/>
<circle cx="474.99" cy="110.00" r="2.20" stroke="#ef4b4b" stroke-width="1.0" fill="#fff"/>
<circle cx="479.65" cy="118.90" r="2.20" stroke="#ef4b4b" stroke-width="1.0" fill="#fff"/>
<circle cx="484.30" cy="120.00" r="2.20" stroke="#ef4b4b" stroke-width="1.0" fill="#fff"/>
<circle cx="488.96" cy="120.00" r="2.20" stroke="#ef4b4b" stroke-width="1.0" fill="#fff"/>
<circle cx="493.62" cy="120.00" r="2.20" stroke="#ef4b4b" stroke-width="1.0" fill="#fff"/>
<circle cx="498.27" cy="120.00" r="2.20" stroke="#ef4b4b" stroke-width="1.0" fill="#fff"/>
<circle cx="502.93" cy="126.70" r="2.20" stroke="#ef4b4b" stroke-width="1.0" fill="#fff"/>
<circle cx="507.58" cy="128.20" r="2.20" stroke="#ef4b4b" stroke-width="1.0" fill="#fff"/>
<circle cx="512.24" cy="128.20" r="2.20" stroke="#ef4b4b" stroke-width="1.0" fill="#fff"/>
<circle cx="516.89" cy="128.20" r="2.20" stroke="#ef4b4b" stroke-width="1.0" fill="#fff"/>
<circle cx="521.55" cy="128.20" r="2.20" stroke="#ef4b4b" stroke-width="1.0" fill="#fff"/>
<circle cx="526.21" cy="128.20" r="2.20" stroke="#ef4b4b" stroke-width="1.0" fill="#fff"/>
<circle cx="530.86" cy="128.20" r="2.20" stroke="#ef4b4b" stroke-width="1.0" fill="#fff"/>
<circle cx="535.52" cy="128.20" r="2.20" stroke="#ef4b4b" stroke-width="1.0" fill="#fff"/>
<circle cx="540.17" cy="128.20" r="2.20" stroke="#ef4b4b" stroke-width="1.0" fill="#fff"/>
<circle cx="544.83" cy="128.20" r="2.20" stroke="#ef4b4b" stroke-width="1.0" fill="#fff"/>
<circle cx="549.48" cy="136.70" r="2.20" stroke="#ef4b4b" stroke-width="1.0" fill="#fff"/>
<circle cx="554.14" cy="138.40" r="2.20" stroke="#ef4b4b" stroke-width="1.0" fill="#fff"/>
<circle cx="558.80" cy="138.40" r="2.20" stroke="#ef4b4b" stroke-width="1.0" fill="#fff"/>
<circle cx="563.45" cy="138.40" r="2.20" stroke="#ef4b4b" stroke-width="1.0" fill="#fff"/>
<circle cx="568.11" cy="138.40" r="2.20" stroke="#ef4b4b" stroke-width="1.0" fill="#fff"/>
<circle cx="572.76" cy="138.40" r="2.20" stroke="#ef4b4b" stroke-width="1.0" fill="#fff"/>
<circle cx="577.42" cy="138.40" r="2.20" stroke="#ef4b4b" stroke-width="1.0" fill="#fff"/>
<circle cx="582.08" cy="138.40" r="2.20" stroke="#ef4b4b" stroke-width="1.0" fill="#fff"/>
<circle cx="586.73" cy="138.40" r="2.20" stroke="#ef4b4b" stroke-width="1.0" fill="#fff"/>
<circle cx="591.39" cy="138.40" r="2.20" stroke="#ef4b4b" stroke-width="1.0" fill="#fff"/>
<circle cx="596.04" cy="152.20" r="2.20" stroke="#ef4b4b" stroke-width="1.0" fill="#fff"/>
<circle cx="600.70" cy="154.00" r="2.20" stroke="#ef4b4b" stroke-width="1.0" fill="#fff"/>
<circle cx="605.35" cy="154.00" r="2.20" stroke="#ef4b4b" stroke-width="1.0" fill="#fff"/>
<circle cx="610.01" cy="154.00" r="2.20" stroke="#ef4b4b" stroke-width="1.0" fill="#fff"/>
<circle cx="614.67" cy="154.00" r="2.20" stroke="#ef4b4b" stroke-width="1.0" fill="#fff"/>
<circle cx="619.32" cy="154.00" r="2.20" stroke="#ef4b4b" stroke-width="1.0" fill="#fff"/>
<circle cx="623.98" cy="154.00" r="2.20" stroke="#ef4b4b" stroke-width="1.0" fill="#fff"/>
<circle cx="628.63" cy="154.00" r="2.20" stroke="#ef4b4b" stroke-width="1.0" fill="#fff"/>
<circle cx="633.29" cy="154.00" r="2.20" stroke="#ef4b4b" stroke-width="1.0" fill="#fff"/>
<circle cx="637.94" cy="154.00" r="2.20" stroke="#ef4b4b" stroke-width="1.0" fill="#fff"/>
<path d="M405.16,49.60 L409.81,54.00 L414.47,64.70 L419.12,66.40 L423.78,62.00 L428.43,66.40 L433.09,84.20 L437.75,90.40 L442.40,88.70 L447.06,88.70 L451.71,88.70 L456.37,91.30 L461.02,93.00 L465.68,94.50 L470.34,96.20 L474.99,98.00 L479.65,111.10 L484.30,110.00 L488.96,110.00 L493.62,110.00 L498.27,110.00 L502.93,123.30 L507.58,122.50 L512.24,122.00 L516.89,122.30 L521.55,122.80 L526.21,123.00 L530.86,123.20 L535.52,123.30 L540.17,123.50 L544.83,124.00 L549.48,141.60 L554.14,143.00 L558.80,143.00 L563.45,143.00 L568.11,143.00 L572.76,143.00 L577.42,143.00 L582.08,143.00 L586.73,143.00 L591.39,143.00 L596.04,168.30 L600.70,169.60 L605.35,169.60 L610.01,169.60 L614.67,169.60 L619.32,169.60 L623.98,169.60 L628.63,169.60 L633.29,169.60 L637.94,169.60" stroke="#3760b8" stroke-width="1.0" fill="none" stroke-linejoin="round"/>
<path d="M405.16,47.11 L407.56,51.26 L402.76,51.26 Z M409.81,51.51 L412.21,55.66 L407.41,55.66 Z M414.47,62.21 L416.87,66.36 L412.07,66.36 Z M419.12,63.91 L421.52,68.06 L416.72,68.06 Z M423.78,59.51 L426.18,63.66 L421.38,63.66 Z M428.43,63.91 L430.83,68.06 L426.03,68.06 Z M433.09,81.71 L435.49,85.86 L430.69,85.86 Z M437.75,87.91 L440.15,92.06 L435.35,92.06 Z M442.40,86.21 L444.80,90.36 L440.00,90.36 Z M447.06,86.21 L449.46,90.36 L444.66,90.36 Z M451.71,86.21 L454.11,90.36 L449.31,90.36 Z M456.37,88.81 L458.77,92.96 L453.97,92.96 Z M461.02,90.51 L463.42,94.66 L458.62,94.66 Z M465.68,92.01 L468.08,96.16 L463.28,96.16 Z M470.34,93.71 L472.74,97.86 L467.94,97.86 Z M474.99,95.51 L477.39,99.66 L472.59,99.66 Z M479.65,108.61 L482.05,112.76 L477.25,112.76 Z M484.30,107.51 L486.70,111.66 L481.90,111.66 Z M488.96,107.51 L491.36,111.66 L486.56,111.66 Z M493.62,107.51 L496.02,111.66 L491.22,111.66 Z M498.27,107.51 L500.67,111.66 L495.87,111.66 Z M502.93,120.81 L505.33,124.96 L500.53,124.96 Z M507.58,120.01 L509.98,124.16 L505.18,124.16 Z M512.24,119.51 L514.64,123.66 L509.84,123.66 Z M516.89,119.81 L519.29,123.96 L514.49,123.96 Z M521.55,120.31 L523.95,124.46 L519.15,124.46 Z M526.21,120.51 L528.61,124.66 L523.81,124.66 Z M530.86,120.71 L533.26,124.86 L528.46,124.86 Z M535.52,120.81 L537.92,124.96 L533.12,124.96 Z M540.17,121.01 L542.57,125.16 L537.77,125.16 Z M544.83,121.51 L547.23,125.66 L542.43,125.66 Z M549.48,139.11 L551.88,143.26 L547.08,143.26 Z M554.14,140.51 L556.54,144.66 L551.74,144.66 Z M558.80,140.51 L561.20,144.66 L556.40,144.66 Z M563.45,140.51 L565.85,144.66 L561.05,144.66 Z M568.11,140.51 L570.51,144.66 L565.71,144.66 Z M572.76,140.51 L575.16,144.66 L570.36,144.66 Z M577.42,140.51 L579.82,144.66 L575.02,144.66 Z M582.08,140.51 L584.48,144.66 L579.68,144.66 Z M586.73,140.51 L589.13,144.66 L584.33,144.66 Z M591.39,140.51 L593.79,144.66 L588.99,144.66 Z M596.04,165.81 L598.44,169.96 L593.64,169.96 Z M600.70,167.11 L603.10,171.26 L598.30,171.26 Z M605.35,167.11 L607.75,171.26 L602.95,171.26 Z M610.01,167.11 L612.41,171.26 L607.61,171.26 Z M614.67,167.11 L617.07,171.26 L612.27,171.26 Z M619.32,167.11 L621.72,171.26 L616.92,171.26 Z M623.98,167.11 L626.38,171.26 L621.58,171.26 Z M628.63,167.11 L631.03,171.26 L626.23,171.26 Z M633.29,167.11 L635.69,171.26 L630.89,171.26 Z M637.94,167.11 L640.34,171.26 L635.54,171.26 Z " stroke="#3760b8" stroke-width="1.0" fill="#fff" stroke-linejoin="miter"/>
<path d="M434.60,135.10 L434.60,146.80 L402.80,146.80" stroke="#333" stroke-width="1.5" fill="none" stroke-linejoin="round"/>
<path d="M402.80,146.80 L409.80,144.30 L409.80,149.30 Z" fill="#333" stroke="#333" stroke-width="0.8" stroke-linejoin="round"/>
<path d="M604.40,58.80 L604.40,69.40 L639.50,69.40" stroke="#ef4b4b" stroke-width="1.4" fill="none" stroke-linejoin="round"/>
<path d="M639.50,69.40 L632.50,71.90 L632.50,66.90 Z" fill="#ef4b4b" stroke="#ef4b4b" stroke-width="0.8" stroke-linejoin="round"/>
<text x="417.10" y="44.20" font-size="9" text-anchor="middle" fill="#2b2b2b" stroke="#2b2b2b" stroke-width="0.32" font-weight="bold" >0.05 C</text>
<text x="441.60" y="79.80" font-size="9" text-anchor="middle" fill="#2b2b2b" stroke="#2b2b2b" stroke-width="0.32" font-weight="bold" >0.1 C</text>
<text x="467.20" y="86.90" font-size="9" text-anchor="middle" fill="#2b2b2b" stroke="#2b2b2b" stroke-width="0.32" font-weight="bold" >0.2 C</text>
<text x="489.60" y="102.00" font-size="9" text-anchor="middle" fill="#2b2b2b" stroke="#2b2b2b" stroke-width="0.32" font-weight="bold" >0.5 C</text>
<text x="521.10" y="115.50" font-size="9" text-anchor="middle" fill="#2b2b2b" stroke="#2b2b2b" stroke-width="0.32" font-weight="bold" >1 C</text>
<text x="568.70" y="129.80" font-size="9" text-anchor="middle" fill="#2b2b2b" stroke="#2b2b2b" stroke-width="0.32" font-weight="bold" >2 C</text>
<text x="616.70" y="145.90" font-size="9" text-anchor="middle" fill="#2b2b2b" stroke="#2b2b2b" stroke-width="0.32" font-weight="bold" >5 C</text>
<path d="M400.5,163.4 H576.7 V187.8" stroke="#2d2d2d" stroke-width="1.2" fill="none"/>
<path d="M403.4,172.1 h21.5" stroke="#3760b8" stroke-width="1.2"/>
<path d="M403.4,179.9 h7.5 M417.4,179.9 h7.5" stroke="#3760b8" stroke-width="1.2"/>
<path d="M414.40,169.71 L416.70,173.69 L412.10,173.69 Z " stroke="#3760b8" stroke-width="1.0" fill="#fff" stroke-linejoin="miter"/>
<path d="M414.40,178.13 L416.10,181.08 L412.70,181.08 Z " stroke="#3760b8" stroke-width="0.6" fill="#3760b8" stroke-linejoin="miter"/>
<text x="427.00" y="179.50" font-size="9" text-anchor="start" fill="#2b2b2b" stroke="#2b2b2b" stroke-width="0.32" font-weight="bold" >LMP-S</text>
<path d="M462.3,172.1 h21.5" stroke="#ef4b4b" stroke-width="1.2"/>
<path d="M462.3,179.9 h7.5 M476.3,179.9 h7.5" stroke="#ef4b4b" stroke-width="1.2"/>
<circle cx="473.30" cy="172.10" r="2.30" stroke="#ef4b4b" stroke-width="1.0" fill="#fff"/>
<circle cx="473.30" cy="179.90" r="1.70" stroke="#ef4b4b" stroke-width="0.6" fill="#ef4b4b"/>
<text x="486.00" y="179.50" font-size="9" text-anchor="start" fill="#2b2b2b" stroke="#2b2b2b" stroke-width="0.32" font-weight="bold" >LMP-C</text>
<path d="M521.4,172.1 h21.5" stroke="#1e1e1e" stroke-width="1.2"/>
<path d="M521.4,179.9 h7.5 M535.4,179.9 h7.5" stroke="#1e1e1e" stroke-width="1.2"/>
<path d="M530.10,169.80 h4.60 v4.60 h-4.60 Z " stroke="#1e1e1e" stroke-width="1.0" fill="#fff"/>
<path d="M530.70,178.20 h3.40 v3.40 h-3.40 Z " stroke="#1e1e1e" stroke-width="0.6" fill="#1e1e1e"/>
<text x="544.50" y="179.50" font-size="9" text-anchor="start" fill="#2b2b2b" stroke="#2b2b2b" stroke-width="0.32" font-weight="bold" >LMP-A</text>
<path d="M400.5,15.4 V188.4" stroke="#2d2d2d" stroke-width="1.45" fill="none"/>
<path d="M642.6,15.4 V188.4" stroke="#ef4b4b" stroke-width="1.45" fill="none"/>
<text x="406.00" y="32.80" font-size="18" text-anchor="start" fill="#111" stroke="#111" stroke-width="0.32" font-weight="bold" textLength="23.1" lengthAdjust="spacingAndGlyphs">(b)</text>
<path d="M60,239.5 H302.3 M60,411.8 H302.3" stroke="#2d2d2d" stroke-width="1.45" fill="none"/>
<path d="M60,238.9 V412.40000000000003" stroke="#2d2d2d" stroke-width="1.45" fill="none"/>
<path d="M302.3,238.9 V412.40000000000003" stroke="#ef4b4b" stroke-width="1.45" fill="none"/>
<path d="M60.00,411.8 v3.2 M106.60,411.8 v3.2 M153.19,411.8 v3.2 M199.79,411.8 v3.2 M246.38,411.8 v3.2 M292.98,411.8 v3.2 M83.30,411.8 v2 M129.89,411.8 v2 M176.49,411.8 v2 M223.09,411.8 v2 M269.68,411.8 v2 M60,411.80 h-3.4 M60,387.19 h-3.4 M60,362.57 h-3.4 M60,337.96 h-3.4 M60,313.34 h-3.4 M60,288.73 h-3.4 M60,264.11 h-3.4 M60,239.50 h-3.4 M60,399.49 h-2 M60,374.88 h-2 M60,350.26 h-2 M60,325.65 h-2 M60,301.04 h-2 M60,276.42 h-2 M60,251.81 h-2 " stroke="#2d2d2d" stroke-width="1.3" fill="none"/>
<path d="M302.3,411.80 h3.6 M302.3,383.08 h3.6 M302.3,354.37 h3.6 M302.3,325.65 h3.6 M302.3,296.93 h3.6 M302.3,268.22 h3.6 M302.3,239.50 h3.6 M302.3,397.44 h2.2 M302.3,368.73 h2.2 M302.3,340.01 h2.2 M302.3,311.29 h2.2 M302.3,282.57 h2.2 M302.3,253.86 h2.2 " stroke="#ef4b4b" stroke-width="1.3" fill="none"/>
<text x="60.00" y="424.30" font-size="9.4" text-anchor="middle" fill="#2b2b2b" stroke="#2b2b2b" stroke-width="0.32" font-weight="normal" >0</text>
<text x="106.60" y="424.30" font-size="9.4" text-anchor="middle" fill="#2b2b2b" stroke="#2b2b2b" stroke-width="0.32" font-weight="normal" >10</text>
<text x="153.19" y="424.30" font-size="9.4" text-anchor="middle" fill="#2b2b2b" stroke="#2b2b2b" stroke-width="0.32" font-weight="normal" >20</text>
<text x="199.79" y="424.30" font-size="9.4" text-anchor="middle" fill="#2b2b2b" stroke="#2b2b2b" stroke-width="0.32" font-weight="normal" >30</text>
<text x="246.38" y="424.30" font-size="9.4" text-anchor="middle" fill="#2b2b2b" stroke="#2b2b2b" stroke-width="0.32" font-weight="normal" >40</text>
<text x="292.98" y="424.30" font-size="9.4" text-anchor="middle" fill="#2b2b2b" stroke="#2b2b2b" stroke-width="0.32" font-weight="normal" >50</text>
<text x="54.50" y="415.10" font-size="9.4" text-anchor="end" fill="#2b2b2b" stroke="#2b2b2b" stroke-width="0.32" font-weight="normal" >0</text>
<text x="54.50" y="390.49" font-size="9.4" text-anchor="end" fill="#2b2b2b" stroke="#2b2b2b" stroke-width="0.32" font-weight="normal" >20</text>
<text x="54.50" y="365.87" font-size="9.4" text-anchor="end" fill="#2b2b2b" stroke="#2b2b2b" stroke-width="0.32" font-weight="normal" >40</text>
<text x="54.50" y="341.26" font-size="9.4" text-anchor="end" fill="#2b2b2b" stroke="#2b2b2b" stroke-width="0.32" font-weight="normal" >60</text>
<text x="54.50" y="316.64" font-size="9.4" text-anchor="end" fill="#2b2b2b" stroke="#2b2b2b" stroke-width="0.32" font-weight="normal" >80</text>
<text x="54.50" y="292.03" font-size="9.4" text-anchor="end" fill="#2b2b2b" stroke="#2b2b2b" stroke-width="0.32" font-weight="normal" >100</text>
<text x="54.50" y="267.41" font-size="9.4" text-anchor="end" fill="#2b2b2b" stroke="#2b2b2b" stroke-width="0.32" font-weight="normal" >120</text>
<text x="54.50" y="242.80" font-size="9.4" text-anchor="end" fill="#2b2b2b" stroke="#2b2b2b" stroke-width="0.32" font-weight="normal" >140</text>
<text x="308.10" y="414.00" font-size="9.4" text-anchor="start" fill="#ef4b4b" stroke="#ef4b4b" stroke-width="0.32" font-weight="normal" >0</text>
<text x="308.10" y="385.28" font-size="9.4" text-anchor="start" fill="#ef4b4b" stroke="#ef4b4b" stroke-width="0.32" font-weight="normal" >20</text>
<text x="308.10" y="356.57" font-size="9.4" text-anchor="start" fill="#ef4b4b" stroke="#ef4b4b" stroke-width="0.32" font-weight="normal" >40</text>
<text x="308.10" y="327.85" font-size="9.4" text-anchor="start" fill="#ef4b4b" stroke="#ef4b4b" stroke-width="0.32" font-weight="normal" >60</text>
<text x="308.10" y="299.13" font-size="9.4" text-anchor="start" fill="#ef4b4b" stroke="#ef4b4b" stroke-width="0.32" font-weight="normal" >80</text>
<text x="308.10" y="270.42" font-size="9.4" text-anchor="start" fill="#ef4b4b" stroke="#ef4b4b" stroke-width="0.32" font-weight="normal" >100</text>
<text x="308.10" y="241.70" font-size="9.4" text-anchor="start" fill="#ef4b4b" stroke="#ef4b4b" stroke-width="0.32" font-weight="normal" >120</text>
<text x="181.50" y="443.00" font-size="10.8" text-anchor="middle" fill="#2b2b2b" stroke="#2b2b2b" stroke-width="0.32" font-weight="normal" >Cycling number</text>
<text transform="translate(32.4,334) rotate(-90)" font-size="10.5" text-anchor="middle" fill="#2b2b2b" stroke="#2b2b2b" stroke-width="0.32">Discharge capacity / mAh g<tspan font-size="6.2" dy="-5">-1</tspan></text>
<text transform="translate(336.5,331) rotate(-90)" font-size="10.5" text-anchor="middle" fill="#ef4b4b" stroke="#ef4b4b" stroke-width="0.32">Coulombic efficiency / %</text>
<path d="M64.66,268.00 L69.32,268.00 L73.98,264.29 L78.64,265.21 L83.30,263.36 L87.96,262.43 L92.62,265.21 L97.28,263.36 L101.94,264.29 L106.60,265.21 L111.26,264.29 L115.92,264.29 L120.58,265.21 L125.23,263.36 L129.89,264.29 L134.55,264.29 L139.21,264.29 L143.87,263.36 L148.53,264.29 L153.19,263.36 L157.85,264.29 L162.51,264.29 L167.17,263.36 L171.83,264.29 L176.49,263.36 L181.15,263.36 L185.81,264.29 L190.47,263.36 L195.13,263.36 L199.79,264.29 L204.45,263.36 L209.11,263.36 L213.77,263.36 L218.43,264.29 L223.09,263.36 L227.75,262.43 L232.41,263.36 L237.07,263.36 L241.73,264.29 L246.38,263.36 L251.04,264.29 L255.70,262.43 L260.36,263.36 L265.02,264.29 L269.68,262.43 L274.34,264.29 L279.00,264.29 L283.66,262.43 L288.32,263.36 L292.98,263.36 L297.64,263.36" stroke="#1e1e1e" stroke-width="1.0" fill="none" stroke-linejoin="round"/>
<path d="M62.86,266.20 h3.60 v3.60 h-3.60 Z M67.52,266.20 h3.60 v3.60 h-3.60 Z M72.18,262.49 h3.60 v3.60 h-3.60 Z M76.84,263.41 h3.60 v3.60 h-3.60 Z M81.50,261.56 h3.60 v3.60 h-3.60 Z M86.16,260.63 h3.60 v3.60 h-3.60 Z M90.82,263.41 h3.60 v3.60 h-3.60 Z M95.48,261.56 h3.60 v3.60 h-3.60 Z M100.14,262.49 h3.60 v3.60 h-3.60 Z M104.80,263.41 h3.60 v3.60 h-3.60 Z M109.46,262.49 h3.60 v3.60 h-3.60 Z M114.12,262.49 h3.60 v3.60 h-3.60 Z M118.78,263.41 h3.60 v3.60 h-3.60 Z M123.43,261.56 h3.60 v3.60 h-3.60 Z M128.09,262.49 h3.60 v3.60 h-3.60 Z M132.75,262.49 h3.60 v3.60 h-3.60 Z M137.41,262.49 h3.60 v3.60 h-3.60 Z M142.07,261.56 h3.60 v3.60 h-3.60 Z M146.73,262.49 h3.60 v3.60 h-3.60 Z M151.39,261.56 h3.60 v3.60 h-3.60 Z M156.05,262.49 h3.60 v3.60 h-3.60 Z M160.71,262.49 h3.60 v3.60 h-3.60 Z M165.37,261.56 h3.60 v3.60 h-3.60 Z M170.03,262.49 h3.60 v3.60 h-3.60 Z M174.69,261.56 h3.60 v3.60 h-3.60 Z M179.35,261.56 h3.60 v3.60 h-3.60 Z M184.01,262.49 h3.60 v3.60 h-3.60 Z M188.67,261.56 h3.60 v3.60 h-3.60 Z M193.33,261.56 h3.60 v3.60 h-3.60 Z M197.99,262.49 h3.60 v3.60 h-3.60 Z M202.65,261.56 h3.60 v3.60 h-3.60 Z M207.31,261.56 h3.60 v3.60 h-3.60 Z M211.97,261.56 h3.60 v3.60 h-3.60 Z M216.63,262.49 h3.60 v3.60 h-3.60 Z M221.29,261.56 h3.60 v3.60 h-3.60 Z M225.95,260.63 h3.60 v3.60 h-3.60 Z M230.61,261.56 h3.60 v3.60 h-3.60 Z M235.27,261.56 h3.60 v3.60 h-3.60 Z M239.93,262.49 h3.60 v3.60 h-3.60 Z M244.58,261.56 h3.60 v3.60 h-3.60 Z M249.24,262.49 h3.60 v3.60 h-3.60 Z M253.90,260.63 h3.60 v3.60 h-3.60 Z M258.56,261.56 h3.60 v3.60 h-3.60 Z M263.22,262.49 h3.60 v3.60 h-3.60 Z M267.88,260.63 h3.60 v3.60 h-3.60 Z M272.54,262.49 h3.60 v3.60 h-3.60 Z M277.20,262.49 h3.60 v3.60 h-3.60 Z M281.86,260.63 h3.60 v3.60 h-3.60 Z M286.52,261.56 h3.60 v3.60 h-3.60 Z M291.18,261.56 h3.60 v3.60 h-3.60 Z M295.84,261.56 h3.60 v3.60 h-3.60 Z " stroke="#1e1e1e" stroke-width="0.5" fill="#1e1e1e"/>
<path d="M64.66,265.21 L69.32,270.78 L73.98,268.00 L78.64,262.43 L83.30,261.50 L87.96,268.93 L92.62,268.00 L97.28,265.21 L101.94,267.07 L106.60,265.21 L111.26,265.21 L115.92,263.36 L120.58,263.36 L125.23,262.43 L129.89,268.00 L134.55,268.00 L139.21,266.14 L143.87,263.36 L148.53,263.36 L153.19,262.43 L157.85,263.36 L162.51,264.29 L167.17,260.57 L171.83,260.57 L176.49,262.43 L181.15,261.50 L185.81,261.50 L190.47,264.29 L195.13,265.21 L199.79,262.43 L204.45,265.21 L209.11,261.50 L213.77,260.57 L218.43,263.36 L223.09,264.29 L227.75,263.36 L232.41,262.43 L237.07,263.36 L241.73,264.29 L246.38,266.14 L251.04,268.93 L255.70,267.07 L260.36,264.29 L265.02,263.36 L269.68,265.21 L274.34,266.14 L279.00,264.29 L283.66,260.57 L288.32,262.43 L292.98,263.36 L297.64,266.14" stroke="#ef4b4b" stroke-width="1.0" fill="none" stroke-linejoin="round"/>
<circle cx="64.66" cy="265.21" r="2.00" stroke="#ef4b4b" stroke-width="0.5" fill="#ef4b4b"/>
<circle cx="69.32" cy="270.78" r="2.00" stroke="#ef4b4b" stroke-width="0.5" fill="#ef4b4b"/>
<circle cx="73.98" cy="268.00" r="2.00" stroke="#ef4b4b" stroke-width="0.5" fill="#ef4b4b"/>
<circle cx="78.64" cy="262.43" r="2.00" stroke="#ef4b4b" stroke-width="0.5" fill="#ef4b4b"/>
<circle cx="83.30" cy="261.50" r="2.00" stroke="#ef4b4b" stroke-width="0.5" fill="#ef4b4b"/>
<circle cx="87.96" cy="268.93" r="2.00" stroke="#ef4b4b" stroke-width="0.5" fill="#ef4b4b"/>
<circle cx="92.62" cy="268.00" r="2.00" stroke="#ef4b4b" stroke-width="0.5" fill="#ef4b4b"/>
<circle cx="97.28" cy="265.21" r="2.00" stroke="#ef4b4b" stroke-width="0.5" fill="#ef4b4b"/>
<circle cx="101.94" cy="267.07" r="2.00" stroke="#ef4b4b" stroke-width="0.5" fill="#ef4b4b"/>
<circle cx="106.60" cy="265.21" r="2.00" stroke="#ef4b4b" stroke-width="0.5" fill="#ef4b4b"/>
<circle cx="111.26" cy="265.21" r="2.00" stroke="#ef4b4b" stroke-width="0.5" fill="#ef4b4b"/>
<circle cx="115.92" cy="263.36" r="2.00" stroke="#ef4b4b" stroke-width="0.5" fill="#ef4b4b"/>
<circle cx="120.58" cy="263.36" r="2.00" stroke="#ef4b4b" stroke-width="0.5" fill="#ef4b4b"/>
<circle cx="125.23" cy="262.43" r="2.00" stroke="#ef4b4b" stroke-width="0.5" fill="#ef4b4b"/>
<circle cx="129.89" cy="268.00" r="2.00" stroke="#ef4b4b" stroke-width="0.5" fill="#ef4b4b"/>
<circle cx="134.55" cy="268.00" r="2.00" stroke="#ef4b4b" stroke-width="0.5" fill="#ef4b4b"/>
<circle cx="139.21" cy="266.14" r="2.00" stroke="#ef4b4b" stroke-width="0.5" fill="#ef4b4b"/>
<circle cx="143.87" cy="263.36" r="2.00" stroke="#ef4b4b" stroke-width="0.5" fill="#ef4b4b"/>
<circle cx="148.53" cy="263.36" r="2.00" stroke="#ef4b4b" stroke-width="0.5" fill="#ef4b4b"/>
<circle cx="153.19" cy="262.43" r="2.00" stroke="#ef4b4b" stroke-width="0.5" fill="#ef4b4b"/>
<circle cx="157.85" cy="263.36" r="2.00" stroke="#ef4b4b" stroke-width="0.5" fill="#ef4b4b"/>
<circle cx="162.51" cy="264.29" r="2.00" stroke="#ef4b4b" stroke-width="0.5" fill="#ef4b4b"/>
<circle cx="167.17" cy="260.57" r="2.00" stroke="#ef4b4b" stroke-width="0.5" fill="#ef4b4b"/>
<circle cx="171.83" cy="260.57" r="2.00" stroke="#ef4b4b" stroke-width="0.5" fill="#ef4b4b"/>
<circle cx="176.49" cy="262.43" r="2.00" stroke="#ef4b4b" stroke-width="0.5" fill="#ef4b4b"/>
<circle cx="181.15" cy="261.50" r="2.00" stroke="#ef4b4b" stroke-width="0.5" fill="#ef4b4b"/>
<circle cx="185.81" cy="261.50" r="2.00" stroke="#ef4b4b" stroke-width="0.5" fill="#ef4b4b"/>
<circle cx="190.47" cy="264.29" r="2.00" stroke="#ef4b4b" stroke-width="0.5" fill="#ef4b4b"/>
<circle cx="195.13" cy="265.21" r="2.00" stroke="#ef4b4b" stroke-width="0.5" fill="#ef4b4b"/>
<circle cx="199.79" cy="262.43" r="2.00" stroke="#ef4b4b" stroke-width="0.5" fill="#ef4b4b"/>
<circle cx="204.45" cy="265.21" r="2.00" stroke="#ef4b4b" stroke-width="0.5" fill="#ef4b4b"/>
<circle cx="209.11" cy="261.50" r="2.00" stroke="#ef4b4b" stroke-width="0.5" fill="#ef4b4b"/>
<circle cx="213.77" cy="260.57" r="2.00" stroke="#ef4b4b" stroke-width="0.5" fill="#ef4b4b"/>
<circle cx="218.43" cy="263.36" r="2.00" stroke="#ef4b4b" stroke-width="0.5" fill="#ef4b4b"/>
<circle cx="223.09" cy="264.29" r="2.00" stroke="#ef4b4b" stroke-width="0.5" fill="#ef4b4b"/>
<circle cx="227.75" cy="263.36" r="2.00" stroke="#ef4b4b" stroke-width="0.5" fill="#ef4b4b"/>
<circle cx="232.41" cy="262.43" r="2.00" stroke="#ef4b4b" stroke-width="0.5" fill="#ef4b4b"/>
<circle cx="237.07" cy="263.36" r="2.00" stroke="#ef4b4b" stroke-width="0.5" fill="#ef4b4b"/>
<circle cx="241.73" cy="264.29" r="2.00" stroke="#ef4b4b" stroke-width="0.5" fill="#ef4b4b"/>
<circle cx="246.38" cy="266.14" r="2.00" stroke="#ef4b4b" stroke-width="0.5" fill="#ef4b4b"/>
<circle cx="251.04" cy="268.93" r="2.00" stroke="#ef4b4b" stroke-width="0.5" fill="#ef4b4b"/>
<circle cx="255.70" cy="267.07" r="2.00" stroke="#ef4b4b" stroke-width="0.5" fill="#ef4b4b"/>
<circle cx="260.36" cy="264.29" r="2.00" stroke="#ef4b4b" stroke-width="0.5" fill="#ef4b4b"/>
<circle cx="265.02" cy="263.36" r="2.00" stroke="#ef4b4b" stroke-width="0.5" fill="#ef4b4b"/>
<circle cx="269.68" cy="265.21" r="2.00" stroke="#ef4b4b" stroke-width="0.5" fill="#ef4b4b"/>
<circle cx="274.34" cy="266.14" r="2.00" stroke="#ef4b4b" stroke-width="0.5" fill="#ef4b4b"/>
<circle cx="279.00" cy="264.29" r="2.00" stroke="#ef4b4b" stroke-width="0.5" fill="#ef4b4b"/>
<circle cx="283.66" cy="260.57" r="2.00" stroke="#ef4b4b" stroke-width="0.5" fill="#ef4b4b"/>
<circle cx="288.32" cy="262.43" r="2.00" stroke="#ef4b4b" stroke-width="0.5" fill="#ef4b4b"/>
<circle cx="292.98" cy="263.36" r="2.00" stroke="#ef4b4b" stroke-width="0.5" fill="#ef4b4b"/>
<circle cx="297.64" cy="266.14" r="2.00" stroke="#ef4b4b" stroke-width="0.5" fill="#ef4b4b"/>
<path d="M64.66,273.57 L69.32,269.48 L73.98,269.48 L78.64,265.21 L83.30,263.36 L87.96,268.00 L92.62,265.21 L97.28,265.21 L101.94,264.29 L106.60,267.07 L111.26,264.29 L115.92,269.86 L120.58,272.64 L125.23,265.21 L129.89,264.29 L134.55,264.29 L139.21,265.21 L143.87,262.43 L148.53,265.21 L153.19,266.14 L157.85,265.21 L162.51,260.57 L167.17,268.93 L171.83,265.21 L176.49,262.43 L181.15,265.21 L185.81,265.21 L190.47,262.43 L195.13,262.43 L199.79,267.07 L204.45,269.86 L209.11,262.43 L213.77,265.21 L218.43,268.00 L223.09,264.29 L227.75,263.36 L232.41,263.36 L237.07,262.43 L241.73,263.36 L246.38,268.00 L251.04,263.36 L255.70,261.50 L260.36,268.00 L265.02,266.14 L269.68,265.21 L274.34,268.00 L279.00,268.93 L283.66,260.57 L288.32,262.43 L292.98,262.43 L297.64,263.36" stroke="#3760b8" stroke-width="1.0" fill="none" stroke-linejoin="round"/>
<path d="M64.66,270.97 L67.16,275.30 L62.16,275.30 Z M69.32,266.89 L71.82,271.22 L66.82,271.22 Z M73.98,266.89 L76.48,271.22 L71.48,271.22 Z M78.64,262.62 L81.14,266.95 L76.14,266.95 Z M83.30,260.76 L85.80,265.09 L80.80,265.09 Z M87.96,265.40 L90.46,269.73 L85.46,269.73 Z M92.62,262.62 L95.12,266.95 L90.12,266.95 Z M97.28,262.62 L99.78,266.95 L94.78,266.95 Z M101.94,261.69 L104.44,266.02 L99.44,266.02 Z M106.60,264.47 L109.10,268.80 L104.10,268.80 Z M111.26,261.69 L113.76,266.02 L108.76,266.02 Z M115.92,267.26 L118.42,271.59 L113.42,271.59 Z M120.58,270.04 L123.08,274.37 L118.08,274.37 Z M125.23,262.62 L127.73,266.95 L122.73,266.95 Z M129.89,261.69 L132.39,266.02 L127.39,266.02 Z M134.55,261.69 L137.05,266.02 L132.05,266.02 Z M139.21,262.62 L141.71,266.95 L136.71,266.95 Z M143.87,259.83 L146.37,264.16 L141.37,264.16 Z M148.53,262.62 L151.03,266.95 L146.03,266.95 Z M153.19,263.54 L155.69,267.87 L150.69,267.87 Z M157.85,262.62 L160.35,266.95 L155.35,266.95 Z M162.51,257.97 L165.01,262.30 L160.01,262.30 Z M167.17,266.33 L169.67,270.66 L164.67,270.66 Z M171.83,262.62 L174.33,266.95 L169.33,266.95 Z M176.49,259.83 L178.99,264.16 L173.99,264.16 Z M181.15,262.62 L183.65,266.95 L178.65,266.95 Z M185.81,262.62 L188.31,266.95 L183.31,266.95 Z M190.47,259.83 L192.97,264.16 L187.97,264.16 Z M195.13,259.83 L197.63,264.16 L192.63,264.16 Z M199.79,264.47 L202.29,268.80 L197.29,268.80 Z M204.45,267.26 L206.95,271.59 L201.95,271.59 Z M209.11,259.83 L211.61,264.16 L206.61,264.16 Z M213.77,262.62 L216.27,266.95 L211.27,266.95 Z M218.43,265.40 L220.93,269.73 L215.93,269.73 Z M223.09,261.69 L225.59,266.02 L220.59,266.02 Z M227.75,260.76 L230.25,265.09 L225.25,265.09 Z M232.41,260.76 L234.91,265.09 L229.91,265.09 Z M237.07,259.83 L239.57,264.16 L234.57,264.16 Z M241.73,260.76 L244.23,265.09 L239.23,265.09 Z M246.38,265.40 L248.88,269.73 L243.88,269.73 Z M251.04,260.76 L253.54,265.09 L248.54,265.09 Z M255.70,258.90 L258.20,263.23 L253.20,263.23 Z M260.36,265.40 L262.86,269.73 L257.86,269.73 Z M265.02,263.54 L267.52,267.87 L262.52,267.87 Z M269.68,262.62 L272.18,266.95 L267.18,266.95 Z M274.34,265.40 L276.84,269.73 L271.84,269.73 Z M279.00,266.33 L281.50,270.66 L276.50,270.66 Z M283.66,257.97 L286.16,262.30 L281.16,262.30 Z M288.32,259.83 L290.82,264.16 L285.82,264.16 Z M292.98,259.83 L295.48,264.16 L290.48,264.16 Z M297.64,260.76 L300.14,265.09 L295.14,265.09 Z " stroke="#3760b8" stroke-width="0.5" fill="#3760b8" stroke-linejoin="miter"/>
<path d="M64.66,354.62 L69.32,355.37 L73.98,355.92 L78.64,355.92 L83.30,355.92 L87.96,355.37 L92.62,355.37 L97.28,355.92 L101.94,355.37 L106.60,355.37 L111.26,355.92 L115.92,355.37 L120.58,354.62 L125.23,354.62 L129.89,355.92 L134.55,356.48 L139.21,356.85 L143.87,357.22 L148.53,357.78 L153.19,357.78 L157.85,358.34 L162.51,359.64 L167.17,360.19 L171.83,360.57 L176.49,360.57 L181.15,360.57 L185.81,360.94 L190.47,360.94 L195.13,360.57 L199.79,360.94 L204.45,360.94 L209.11,360.57 L213.77,360.19 L218.43,360.57 L223.09,360.94 L227.75,360.57 L232.41,360.19 L237.07,360.19 L241.73,360.19 L246.38,359.64 L251.04,359.64 L255.70,359.64 L260.36,359.64 L265.02,359.64 L269.68,359.08 L274.34,361.49 L279.00,361.49 L283.66,361.49 L288.32,361.49 L292.98,361.49 L297.64,361.12" stroke="#1e1e1e" stroke-width="1.0" fill="none" stroke-linejoin="round"/>
<path d="M62.66,352.62 h4.00 v4.00 h-4.00 Z M67.32,353.37 h4.00 v4.00 h-4.00 Z M71.98,353.92 h4.00 v4.00 h-4.00 Z M76.64,353.92 h4.00 v4.00 h-4.00 Z M81.30,353.92 h4.00 v4.00 h-4.00 Z M85.96,353.37 h4.00 v4.00 h-4.00 Z M90.62,353.37 h4.00 v4.00 h-4.00 Z M95.28,353.92 h4.00 v4.00 h-4.00 Z M99.94,353.37 h4.00 v4.00 h-4.00 Z M104.60,353.37 h4.00 v4.00 h-4.00 Z M109.26,353.92 h4.00 v4.00 h-4.00 Z M113.92,353.37 h4.00 v4.00 h-4.00 Z M118.58,352.62 h4.00 v4.00 h-4.00 Z M123.23,352.62 h4.00 v4.00 h-4.00 Z M127.89,353.92 h4.00 v4.00 h-4.00 Z M132.55,354.48 h4.00 v4.00 h-4.00 Z M137.21,354.85 h4.00 v4.00 h-4.00 Z M141.87,355.22 h4.00 v4.00 h-4.00 Z M146.53,355.78 h4.00 v4.00 h-4.00 Z M151.19,355.78 h4.00 v4.00 h-4.00 Z M155.85,356.34 h4.00 v4.00 h-4.00 Z M160.51,357.64 h4.00 v4.00 h-4.00 Z M165.17,358.19 h4.00 v4.00 h-4.00 Z M169.83,358.57 h4.00 v4.00 h-4.00 Z M174.49,358.57 h4.00 v4.00 h-4.00 Z M179.15,358.57 h4.00 v4.00 h-4.00 Z M183.81,358.94 h4.00 v4.00 h-4.00 Z M188.47,358.94 h4.00 v4.00 h-4.00 Z M193.13,358.57 h4.00 v4.00 h-4.00 Z M197.79,358.94 h4.00 v4.00 h-4.00 Z M202.45,358.94 h4.00 v4.00 h-4.00 Z M207.11,358.57 h4.00 v4.00 h-4.00 Z M211.77,358.19 h4.00 v4.00 h-4.00 Z M216.43,358.57 h4.00 v4.00 h-4.00 Z M221.09,358.94 h4.00 v4.00 h-4.00 Z M225.75,358.57 h4.00 v4.00 h-4.00 Z M230.41,358.19 h4.00 v4.00 h-4.00 Z M235.07,358.19 h4.00 v4.00 h-4.00 Z M239.73,358.19 h4.00 v4.00 h-4.00 Z M244.38,357.64 h4.00 v4.00 h-4.00 Z M249.04,357.64 h4.00 v4.00 h-4.00 Z M253.70,357.64 h4.00 v4.00 h-4.00 Z M258.36,357.64 h4.00 v4.00 h-4.00 Z M263.02,357.64 h4.00 v4.00 h-4.00 Z M267.68,357.08 h4.00 v4.00 h-4.00 Z M272.34,359.49 h4.00 v4.00 h-4.00 Z M277.00,359.49 h4.00 v4.00 h-4.00 Z M281.66,359.49 h4.00 v4.00 h-4.00 Z M286.32,359.49 h4.00 v4.00 h-4.00 Z M290.98,359.49 h4.00 v4.00 h-4.00 Z M295.64,359.12 h4.00 v4.00 h-4.00 Z " stroke="#1e1e1e" stroke-width="1.0" fill="#fff"/>
<path d="M64.66,316.93 L69.32,321.57 L73.98,321.57 L78.64,320.64 L83.30,319.34 L87.96,323.05 L92.62,323.43 L97.28,323.43 L101.94,324.35 L106.60,324.91 L111.26,324.91 L115.92,325.65 L120.58,325.65 L125.23,328.07 L129.89,328.07 L134.55,329.37 L139.21,329.00 L143.87,328.07 L148.53,328.63 L153.19,329.37 L157.85,329.00 L162.51,328.07 L167.17,327.51 L171.83,327.14 L176.49,326.21 L181.15,325.28 L185.81,325.28 L190.47,326.21 L195.13,326.21 L199.79,325.28 L204.45,325.28 L209.11,326.21 L213.77,327.14 L218.43,324.35 L223.09,324.35 L227.75,324.91 L232.41,324.35 L237.07,324.35 L241.73,325.28 L246.38,327.14 L251.04,327.14 L255.70,327.14 L260.36,328.07 L265.02,329.93 L269.68,331.23 L274.34,332.71 L279.00,332.34 L283.66,330.48 L288.32,330.48 L292.98,331.23 L297.64,333.08" stroke="#ef4b4b" stroke-width="1.0" fill="none" stroke-linejoin="round"/>
<circle cx="64.66" cy="316.93" r="2.20" stroke="#ef4b4b" stroke-width="1.0" fill="#fff"/>
<circle cx="69.32" cy="321.57" r="2.20" stroke="#ef4b4b" stroke-width="1.0" fill="#fff"/>
<circle cx="73.98" cy="321.57" r="2.20" stroke="#ef4b4b" stroke-width="1.0" fill="#fff"/>
<circle cx="78.64" cy="320.64" r="2.20" stroke="#ef4b4b" stroke-width="1.0" fill="#fff"/>
<circle cx="83.30" cy="319.34" r="2.20" stroke="#ef4b4b" stroke-width="1.0" fill="#fff"/>
<circle cx="87.96" cy="323.05" r="2.20" stroke="#ef4b4b" stroke-width="1.0" fill="#fff"/>
<circle cx="92.62" cy="323.43" r="2.20" stroke="#ef4b4b" stroke-width="1.0" fill="#fff"/>
<circle cx="97.28" cy="323.43" r="2.20" stroke="#ef4b4b" stroke-width="1.0" fill="#fff"/>
<circle cx="101.94" cy="324.35" r="2.20" stroke="#ef4b4b" stroke-width="1.0" fill="#fff"/>
<circle cx="106.60" cy="324.91" r="2.20" stroke="#ef4b4b" stroke-width="1.0" fill="#fff"/>
<circle cx="111.26" cy="324.91" r="2.20" stroke="#ef4b4b" stroke-width="1.0" fill="#fff"/>
<circle cx="115.92" cy="325.65" r="2.20" stroke="#ef4b4b" stroke-width="1.0" fill="#fff"/>
<circle cx="120.58" cy="325.65" r="2.20" stroke="#ef4b4b" stroke-width="1.0" fill="#fff"/>
<circle cx="125.23" cy="328.07" r="2.20" stroke="#ef4b4b" stroke-width="1.0" fill="#fff"/>
<circle cx="129.89" cy="328.07" r="2.20" stroke="#ef4b4b" stroke-width="1.0" fill="#fff"/>
<circle cx="134.55" cy="329.37" r="2.20" stroke="#ef4b4b" stroke-width="1.0" fill="#fff"/>
<circle cx="139.21" cy="329.00" r="2.20" stroke="#ef4b4b" stroke-width="1.0" fill="#fff"/>
<circle cx="143.87" cy="328.07" r="2.20" stroke="#ef4b4b" stroke-width="1.0" fill="#fff"/>
<circle cx="148.53" cy="328.63" r="2.20" stroke="#ef4b4b" stroke-width="1.0" fill="#fff"/>
<circle cx="153.19" cy="329.37" r="2.20" stroke="#ef4b4b" stroke-width="1.0" fill="#fff"/>
<circle cx="157.85" cy="329.00" r="2.20" stroke="#ef4b4b" stroke-width="1.0" fill="#fff"/>
<circle cx="162.51" cy="328.07" r="2.20" stroke="#ef4b4b" stroke-width="1.0" fill="#fff"/>
<circle cx="167.17" cy="327.51" r="2.20" stroke="#ef4b4b" stroke-width="1.0" fill="#fff"/>
<circle cx="171.83" cy="327.14" r="2.20" stroke="#ef4b4b" stroke-width="1.0" fill="#fff"/>
<circle cx="176.49" cy="326.21" r="2.20" stroke="#ef4b4b" stroke-width="1.0" fill="#fff"/>
<circle cx="181.15" cy="325.28" r="2.20" stroke="#ef4b4b" stroke-width="1.0" fill="#fff"/>
<circle cx="185.81" cy="325.28" r="2.20" stroke="#ef4b4b" stroke-width="1.0" fill="#fff"/>
<circle cx="190.47" cy="326.21" r="2.20" stroke="#ef4b4b" stroke-width="1.0" fill="#fff"/>
<circle cx="195.13" cy="326.21" r="2.20" stroke="#ef4b4b" stroke-width="1.0" fill="#fff"/>
<circle cx="199.79" cy="325.28" r="2.20" stroke="#ef4b4b" stroke-width="1.0" fill="#fff"/>
<circle cx="204.45" cy="325.28" r="2.20" stroke="#ef4b4b" stroke-width="1.0" fill="#fff"/>
<circle cx="209.11" cy="326.21" r="2.20" stroke="#ef4b4b" stroke-width="1.0" fill="#fff"/>
<circle cx="213.77" cy="327.14" r="2.20" stroke="#ef4b4b" stroke-width="1.0" fill="#fff"/>
<circle cx="218.43" cy="324.35" r="2.20" stroke="#ef4b4b" stroke-width="1.0" fill="#fff"/>
<circle cx="223.09" cy="324.35" r="2.20" stroke="#ef4b4b" stroke-width="1.0" fill="#fff"/>
<circle cx="227.75" cy="324.91" r="2.20" stroke="#ef4b4b" stroke-width="1.0" fill="#fff"/>
<circle cx="232.41" cy="324.35" r="2.20" stroke="#ef4b4b" stroke-width="1.0" fill="#fff"/>
<circle cx="237.07" cy="324.35" r="2.20" stroke="#ef4b4b" stroke-width="1.0" fill="#fff"/>
<circle cx="241.73" cy="325.28" r="2.20" stroke="#ef4b4b" stroke-width="1.0" fill="#fff"/>
<circle cx="246.38" cy="327.14" r="2.20" stroke="#ef4b4b" stroke-width="1.0" fill="#fff"/>
<circle cx="251.04" cy="327.14" r="2.20" stroke="#ef4b4b" stroke-width="1.0" fill="#fff"/>
<circle cx="255.70" cy="327.14" r="2.20" stroke="#ef4b4b" stroke-width="1.0" fill="#fff"/>
<circle cx="260.36" cy="328.07" r="2.20" stroke="#ef4b4b" stroke-width="1.0" fill="#fff"/>
<circle cx="265.02" cy="329.93" r="2.20" stroke="#ef4b4b" stroke-width="1.0" fill="#fff"/>
<circle cx="269.68" cy="331.23" r="2.20" stroke="#ef4b4b" stroke-width="1.0" fill="#fff"/>
<circle cx="274.34" cy="332.71" r="2.20" stroke="#ef4b4b" stroke-width="1.0" fill="#fff"/>
<circle cx="279.00" cy="332.34" r="2.20" stroke="#ef4b4b" stroke-width="1.0" fill="#fff"/>
<circle cx="283.66" cy="330.48" r="2.20" stroke="#ef4b4b" stroke-width="1.0" fill="#fff"/>
<circle cx="288.32" cy="330.48" r="2.20" stroke="#ef4b4b" stroke-width="1.0" fill="#fff"/>
<circle cx="292.98" cy="331.23" r="2.20" stroke="#ef4b4b" stroke-width="1.0" fill="#fff"/>
<circle cx="297.64" cy="333.08" r="2.20" stroke="#ef4b4b" stroke-width="1.0" fill="#fff"/>
<path d="M64.66,298.36 L69.32,305.78 L73.98,308.57 L78.64,309.50 L83.30,309.50 L87.96,310.43 L92.62,310.43 L97.28,310.06 L101.94,310.06 L106.60,310.80 L111.26,309.50 L115.92,312.28 L120.58,315.44 L125.23,313.77 L129.89,314.14 L134.55,314.14 L139.21,314.14 L143.87,313.77 L148.53,313.77 L153.19,315.07 L157.85,314.14 L162.51,313.21 L167.17,315.63 L171.83,315.07 L176.49,314.14 L181.15,314.14 L185.81,315.07 L190.47,312.28 L195.13,311.36 L199.79,313.21 L204.45,314.14 L209.11,316.00 L213.77,313.21 L218.43,314.14 L223.09,316.00 L227.75,314.14 L232.41,313.77 L237.07,314.51 L241.73,313.21 L246.38,312.66 L251.04,315.07 L255.70,312.66 L260.36,311.91 L265.02,315.07 L269.68,315.63 L274.34,315.07 L279.00,317.48 L283.66,319.34 L288.32,316.93 L292.98,317.48 L297.64,315.07" stroke="#3760b8" stroke-width="1.0" fill="none" stroke-linejoin="round"/>
<path d="M64.66,295.86 L67.06,300.02 L62.26,300.02 Z M69.32,303.29 L71.72,307.45 L66.92,307.45 Z M73.98,306.08 L76.38,310.23 L71.58,310.23 Z M78.64,307.00 L81.04,311.16 L76.24,311.16 Z M83.30,307.00 L85.70,311.16 L80.90,311.16 Z M87.96,307.93 L90.36,312.09 L85.56,312.09 Z M92.62,307.93 L95.02,312.09 L90.22,312.09 Z M97.28,307.56 L99.68,311.72 L94.88,311.72 Z M101.94,307.56 L104.34,311.72 L99.54,311.72 Z M106.60,308.30 L109.00,312.46 L104.20,312.46 Z M111.26,307.00 L113.66,311.16 L108.86,311.16 Z M115.92,309.79 L118.32,313.95 L113.52,313.95 Z M120.58,312.95 L122.98,317.10 L118.17,317.10 Z M125.23,311.28 L127.63,315.43 L122.83,315.43 Z M129.89,311.65 L132.29,315.80 L127.49,315.80 Z M134.55,311.65 L136.95,315.80 L132.15,315.80 Z M139.21,311.65 L141.61,315.80 L136.81,315.80 Z M143.87,311.28 L146.27,315.43 L141.47,315.43 Z M148.53,311.28 L150.93,315.43 L146.13,315.43 Z M153.19,312.58 L155.59,316.73 L150.79,316.73 Z M157.85,311.65 L160.25,315.80 L155.45,315.80 Z M162.51,310.72 L164.91,314.88 L160.11,314.88 Z M167.17,313.13 L169.57,317.29 L164.77,317.29 Z M171.83,312.58 L174.23,316.73 L169.43,316.73 Z M176.49,311.65 L178.89,315.80 L174.09,315.80 Z M181.15,311.65 L183.55,315.80 L178.75,315.80 Z M185.81,312.58 L188.21,316.73 L183.41,316.73 Z M190.47,309.79 L192.87,313.95 L188.07,313.95 Z M195.13,308.86 L197.53,313.02 L192.73,313.02 Z M199.79,310.72 L202.19,314.88 L197.39,314.88 Z M204.45,311.65 L206.85,315.80 L202.05,315.80 Z M209.11,313.50 L211.51,317.66 L206.71,317.66 Z M213.77,310.72 L216.17,314.88 L211.37,314.88 Z M218.43,311.65 L220.83,315.80 L216.03,315.80 Z M223.09,313.50 L225.49,317.66 L220.69,317.66 Z M227.75,311.65 L230.15,315.80 L225.35,315.80 Z M232.41,311.28 L234.81,315.43 L230.01,315.43 Z M237.07,312.02 L239.47,316.18 L234.67,316.18 Z M241.73,310.72 L244.13,314.88 L239.33,314.88 Z M246.38,310.16 L248.78,314.32 L243.98,314.32 Z M251.04,312.58 L253.44,316.73 L248.64,316.73 Z M255.70,310.16 L258.10,314.32 L253.30,314.32 Z M260.36,309.42 L262.76,313.58 L257.96,313.58 Z M265.02,312.58 L267.42,316.73 L262.62,316.73 Z M269.68,313.13 L272.08,317.29 L267.28,317.29 Z M274.34,312.58 L276.74,316.73 L271.94,316.73 Z M279.00,314.99 L281.40,319.15 L276.60,319.15 Z M283.66,316.85 L286.06,321.00 L281.26,321.00 Z M288.32,314.43 L290.72,318.59 L285.92,318.59 Z M292.98,314.99 L295.38,319.15 L290.58,319.15 Z M297.64,312.58 L300.04,316.73 L295.24,316.73 Z " stroke="#3760b8" stroke-width="1.0" fill="#fff" stroke-linejoin="miter"/>
<path d="M110.60,300.80 L110.60,288.80 L62.50,288.80" stroke="#333" stroke-width="1.5" fill="none" stroke-linejoin="round"/>
<path d="M62.50,288.80 L69.50,286.30 L69.50,291.30 Z" fill="#333" stroke="#333" stroke-width="0.8" stroke-linejoin="round"/>
<path d="M251.80,275.60 L251.80,286.20 L299.50,286.20" stroke="#ef4b4b" stroke-width="1.4" fill="none" stroke-linejoin="round"/>
<path d="M299.50,286.20 L292.50,288.70 L292.50,283.70 Z" fill="#ef4b4b" stroke="#ef4b4b" stroke-width="0.8" stroke-linejoin="round"/>
<path d="M60,387.2 H237.1 V411.8" stroke="#2d2d2d" stroke-width="1.2" fill="none"/>
<path d="M64.1,395.9 h21.5" stroke="#3760b8" stroke-width="1.2"/>
<path d="M64.1,403.7 h7.5 M78.1,403.7 h7.5" stroke="#3760b8" stroke-width="1.2"/>
<path d="M75.10,393.51 L77.40,397.49 L72.80,397.49 Z " stroke="#3760b8" stroke-width="1.0" fill="#fff" stroke-linejoin="miter"/>
<path d="M75.10,401.93 L76.80,404.88 L73.40,404.88 Z " stroke="#3760b8" stroke-width="0.6" fill="#3760b8" stroke-linejoin="miter"/>
<text x="87.60" y="403.30" font-size="9" text-anchor="start" fill="#2b2b2b" stroke="#2b2b2b" stroke-width="0.32" font-weight="bold" >LMP-S</text>
<path d="M123.4,395.9 h21.5" stroke="#ef4b4b" stroke-width="1.2"/>
<path d="M123.4,403.7 h7.5 M137.4,403.7 h7.5" stroke="#ef4b4b" stroke-width="1.2"/>
<circle cx="134.40" cy="395.90" r="2.30" stroke="#ef4b4b" stroke-width="1.0" fill="#fff"/>
<circle cx="134.40" cy="403.70" r="1.70" stroke="#ef4b4b" stroke-width="0.6" fill="#ef4b4b"/>
<text x="147.40" y="403.30" font-size="9" text-anchor="start" fill="#2b2b2b" stroke="#2b2b2b" stroke-width="0.32" font-weight="bold" >LMP-C</text>
<path d="M182.8,395.9 h21.5" stroke="#1e1e1e" stroke-width="1.2"/>
<path d="M182.8,403.7 h7.5 M196.8,403.7 h7.5" stroke="#1e1e1e" stroke-width="1.2"/>
<path d="M191.50,393.60 h4.60 v4.60 h-4.60 Z " stroke="#1e1e1e" stroke-width="1.0" fill="#fff"/>
<path d="M192.10,402.00 h3.40 v3.40 h-3.40 Z " stroke="#1e1e1e" stroke-width="0.6" fill="#1e1e1e"/>
<text x="208.20" y="403.30" font-size="9" text-anchor="start" fill="#2b2b2b" stroke="#2b2b2b" stroke-width="0.32" font-weight="bold" >LMP-A</text>
<path d="M60,238.9 V412.40000000000003" stroke="#2d2d2d" stroke-width="1.45" fill="none"/>
<path d="M302.3,238.9 V412.40000000000003" stroke="#ef4b4b" stroke-width="1.45" fill="none"/>
<text x="66.60" y="256.80" font-size="18" text-anchor="start" fill="#111" stroke="#111" stroke-width="0.32" font-weight="bold" textLength="22" lengthAdjust="spacingAndGlyphs">(c)</text>
<path d="M400.2,240.2 H642.4 M400.2,411.7 H642.4" stroke="#2d2d2d" stroke-width="1.45" fill="none"/>
<path d="M400.2,239.6 V412.3" stroke="#2d2d2d" stroke-width="1.45" fill="none"/>
<path d="M642.4,239.6 V412.3" stroke="#ef4b4b" stroke-width="1.45" fill="none"/>
<path d="M400.20,411.7 v3.2 M424.42,411.7 v3.2 M448.64,411.7 v3.2 M472.86,411.7 v3.2 M497.08,411.7 v3.2 M521.30,411.7 v3.2 M545.52,411.7 v3.2 M569.74,411.7 v3.2 M593.96,411.7 v3.2 M618.18,411.7 v3.2 M642.40,411.7 v3.2 M412.31,411.7 v2 M436.53,411.7 v2 M460.75,411.7 v2 M484.97,411.7 v2 M509.19,411.7 v2 M533.41,411.7 v2 M557.63,411.7 v2 M581.85,411.7 v2 M606.07,411.7 v2 M630.29,411.7 v2 M400.2,411.70 h-3.4 M400.2,383.12 h-3.4 M400.2,354.53 h-3.4 M400.2,325.95 h-3.4 M400.2,297.37 h-3.4 M400.2,268.78 h-3.4 M400.2,240.20 h-3.4 M400.2,397.41 h-2 M400.2,368.82 h-2 M400.2,340.24 h-2 M400.2,311.66 h-2 M400.2,283.07 h-2 M400.2,254.49 h-2 " stroke="#2d2d2d" stroke-width="1.3" fill="none"/>
<path d="M642.4,411.70 h3.6 M642.4,383.12 h3.6 M642.4,354.53 h3.6 M642.4,325.95 h3.6 M642.4,297.37 h3.6 M642.4,268.78 h3.6 M642.4,240.20 h3.6 M642.4,397.41 h2.2 M642.4,368.82 h2.2 M642.4,340.24 h2.2 M642.4,311.66 h2.2 M642.4,283.07 h2.2 M642.4,254.49 h2.2 " stroke="#ef4b4b" stroke-width="1.3" fill="none"/>
<text x="400.20" y="424.20" font-size="9.4" text-anchor="middle" fill="#2b2b2b" stroke="#2b2b2b" stroke-width="0.32" font-weight="normal" >0</text>
<text x="424.42" y="424.20" font-size="9.4" text-anchor="middle" fill="#2b2b2b" stroke="#2b2b2b" stroke-width="0.32" font-weight="normal" >20</text>
<text x="448.64" y="424.20" font-size="9.4" text-anchor="middle" fill="#2b2b2b" stroke="#2b2b2b" stroke-width="0.32" font-weight="normal" >40</text>
<text x="472.86" y="424.20" font-size="9.4" text-anchor="middle" fill="#2b2b2b" stroke="#2b2b2b" stroke-width="0.32" font-weight="normal" >60</text>
<text x="497.08" y="424.20" font-size="9.4" text-anchor="middle" fill="#2b2b2b" stroke="#2b2b2b" stroke-width="0.32" font-weight="normal" >80</text>
<text x="521.30" y="424.20" font-size="9.4" text-anchor="middle" fill="#2b2b2b" stroke="#2b2b2b" stroke-width="0.32" font-weight="normal" >100</text>
<text x="545.52" y="424.20" font-size="9.4" text-anchor="middle" fill="#2b2b2b" stroke="#2b2b2b" stroke-width="0.32" font-weight="normal" >120</text>
<text x="569.74" y="424.20" font-size="9.4" text-anchor="middle" fill="#2b2b2b" stroke="#2b2b2b" stroke-width="0.32" font-weight="normal" >140</text>
<text x="593.96" y="424.20" font-size="9.4" text-anchor="middle" fill="#2b2b2b" stroke="#2b2b2b" stroke-width="0.32" font-weight="normal" >160</text>
<text x="618.18" y="424.20" font-size="9.4" text-anchor="middle" fill="#2b2b2b" stroke="#2b2b2b" stroke-width="0.32" font-weight="normal" >180</text>
<text x="642.40" y="424.20" font-size="9.4" text-anchor="middle" fill="#2b2b2b" stroke="#2b2b2b" stroke-width="0.32" font-weight="normal" >200</text>
<text x="394.70" y="415.00" font-size="9.4" text-anchor="end" fill="#2b2b2b" stroke="#2b2b2b" stroke-width="0.32" font-weight="normal" >10</text>
<text x="394.70" y="386.42" font-size="9.4" text-anchor="end" fill="#2b2b2b" stroke="#2b2b2b" stroke-width="0.32" font-weight="normal" >20</text>
<text x="394.70" y="357.83" font-size="9.4" text-anchor="end" fill="#2b2b2b" stroke="#2b2b2b" stroke-width="0.32" font-weight="normal" >30</text>
<text x="394.70" y="329.25" font-size="9.4" text-anchor="end" fill="#2b2b2b" stroke="#2b2b2b" stroke-width="0.32" font-weight="normal" >40</text>
<text x="394.70" y="300.67" font-size="9.4" text-anchor="end" fill="#2b2b2b" stroke="#2b2b2b" stroke-width="0.32" font-weight="normal" >50</text>
<text x="394.70" y="272.08" font-size="9.4" text-anchor="end" fill="#2b2b2b" stroke="#2b2b2b" stroke-width="0.32" font-weight="normal" >60</text>
<text x="394.70" y="243.50" font-size="9.4" text-anchor="end" fill="#2b2b2b" stroke="#2b2b2b" stroke-width="0.32" font-weight="normal" >70</text>
<text x="648.20" y="413.90" font-size="9.4" text-anchor="start" fill="#ef4b4b" stroke="#ef4b4b" stroke-width="0.32" font-weight="normal" >0</text>
<text x="648.20" y="385.32" font-size="9.4" text-anchor="start" fill="#ef4b4b" stroke="#ef4b4b" stroke-width="0.32" font-weight="normal" >20</text>
<text x="648.20" y="356.73" font-size="9.4" text-anchor="start" fill="#ef4b4b" stroke="#ef4b4b" stroke-width="0.32" font-weight="normal" >40</text>
<text x="648.20" y="328.15" font-size="9.4" text-anchor="start" fill="#ef4b4b" stroke="#ef4b4b" stroke-width="0.32" font-weight="normal" >60</text>
<text x="648.20" y="299.57" font-size="9.4" text-anchor="start" fill="#ef4b4b" stroke="#ef4b4b" stroke-width="0.32" font-weight="normal" >80</text>
<text x="648.20" y="270.98" font-size="9.4" text-anchor="start" fill="#ef4b4b" stroke="#ef4b4b" stroke-width="0.32" font-weight="normal" >100</text>
<text x="648.20" y="242.40" font-size="9.4" text-anchor="start" fill="#ef4b4b" stroke="#ef4b4b" stroke-width="0.32" font-weight="normal" >120</text>
<text x="520.50" y="443.00" font-size="10.8" text-anchor="middle" fill="#2b2b2b" stroke="#2b2b2b" stroke-width="0.32" font-weight="normal" >Cyling number</text>
<text transform="translate(378.6,334) rotate(-90)" font-size="10.5" text-anchor="middle" fill="#2b2b2b" stroke="#2b2b2b" stroke-width="0.32">Discharge capacity / mAh g<tspan font-size="6.2" dy="-5">-1</tspan></text>
<text transform="translate(676.2,331) rotate(-90)" font-size="10.5" text-anchor="middle" fill="#ef4b4b" stroke="#ef4b4b" stroke-width="0.32">Coulombic efficiency / %</text>
<path d="M401.41,270.00 L402.62,268.27 L403.83,266.26 L405.04,266.49 L406.25,266.27 L407.47,266.08 L408.68,268.03 L409.89,267.95 L411.10,267.52 L412.31,267.98 L413.52,267.52 L414.73,266.69 L415.94,266.24 L417.15,266.23 L418.37,267.82 L419.58,266.49 L420.79,266.77 L422.00,267.02 L423.21,266.05 L424.42,266.62 L425.63,266.68 L426.84,267.72 L428.05,266.88 L429.26,266.77 L430.47,268.31 L431.69,267.21 L432.90,268.04 L434.11,267.48 L435.32,266.07 L436.53,266.99 L437.74,267.05 L438.95,267.86 L440.16,266.83 L441.37,267.69 L442.58,267.29 L443.80,266.52 L445.01,268.07 L446.22,266.22 L447.43,267.97 L448.64,266.41 L449.85,266.00 L451.06,266.48 L452.27,267.83 L453.48,268.35 L454.69,266.01 L455.91,267.18 L457.12,267.18 L458.33,267.91 L459.54,266.44 L460.75,267.19 L461.96,266.83 L463.17,268.00 L464.38,266.63 L465.59,268.27 L466.81,266.68 L468.02,266.52 L469.23,267.68 L470.44,267.20 L471.65,266.26 L472.86,267.53 L474.07,266.19 L475.28,267.89 L476.49,267.67 L477.70,267.89 L478.91,267.51 L480.13,266.85 L481.34,266.96 L482.55,266.95 L483.76,268.14 L484.97,266.21 L486.18,268.13 L487.39,266.06 L488.60,266.49 L489.81,266.63 L491.02,268.16 L492.24,267.20 L493.45,266.91 L494.66,268.12 L495.87,266.56 L497.08,267.11 L498.29,267.28 L499.50,267.81 L500.71,267.81 L501.92,267.55 L503.13,266.84 L504.35,266.78 L505.56,266.37 L506.77,268.02 L507.98,267.59 L509.19,267.78 L510.40,266.41 L511.61,267.05 L512.82,267.86 L514.03,267.39 L515.25,266.30 L516.46,267.11 L517.67,268.12 L518.88,266.57 L520.09,266.46 L521.30,266.72 L522.51,267.69 L523.72,268.02 L524.93,266.37 L526.14,266.37 L527.36,266.59 L528.57,266.78 L529.78,267.25 L530.99,266.39 L532.20,266.79 L533.41,266.45 L534.62,268.34 L535.83,267.75 L537.04,266.24 L538.25,268.31 L539.47,266.24 L540.68,266.92 L541.89,268.36 L543.10,267.91 L544.31,267.76 L545.52,267.04 L546.73,266.47 L547.94,267.53 L549.15,266.26 L550.36,266.50 L551.58,266.93 L552.79,266.08 L554.00,266.96 L555.21,267.90 L556.42,267.66 L557.63,267.20 L558.84,267.52 L560.05,267.11 L561.26,266.34 L562.47,267.45 L563.68,266.97 L564.90,267.78 L566.11,268.18 L567.32,267.03 L568.53,267.38 L569.74,267.80 L570.95,267.01 L572.16,266.55 L573.37,267.73 L574.58,268.11 L575.79,267.86 L577.01,267.68 L578.22,268.05 L579.43,267.63 L580.64,267.54 L581.85,267.09 L583.06,266.75 L584.27,267.51 L585.48,266.23 L586.69,267.01 L587.90,267.88 L589.12,267.71 L590.33,267.51 L591.54,266.60 L592.75,267.02 L593.96,267.09 L595.17,267.49 L596.38,266.98 L597.59,267.62 L598.80,268.23 L600.01,266.44 L601.23,267.57 L602.44,267.87 L603.65,266.93 L604.86,267.18 L606.07,268.34 L607.28,266.09 L608.49,267.30 L609.70,266.39 L610.91,267.88 L612.12,268.26 L613.34,267.25 L614.55,266.24 L615.76,267.38 L616.97,267.30 L618.18,267.72 L619.39,267.23 L620.60,267.53 L621.81,267.99 L623.02,267.25 L624.24,266.98 L625.45,268.28 L626.66,266.50 L627.87,267.64 L629.08,266.94 L630.29,267.83 L631.50,266.29 L632.71,268.36 L633.92,266.85 L635.13,266.14 L636.35,266.66 L637.56,266.96 L638.77,266.03 L639.98,267.00 L641.19,267.01 L642.40,267.68" stroke="#1e1e1e" stroke-width="0.6" fill="none" stroke-linejoin="round"/>
<path d="M399.91,268.50 h3.00 v3.00 h-3.00 Z M401.12,266.77 h3.00 v3.00 h-3.00 Z M402.33,264.76 h3.00 v3.00 h-3.00 Z M403.54,264.99 h3.00 v3.00 h-3.00 Z M404.75,264.77 h3.00 v3.00 h-3.00 Z M405.97,264.58 h3.00 v3.00 h-3.00 Z M407.18,266.53 h3.00 v3.00 h-3.00 Z M408.39,266.45 h3.00 v3.00 h-3.00 Z M409.60,266.02 h3.00 v3.00 h-3.00 Z M410.81,266.48 h3.00 v3.00 h-3.00 Z M412.02,266.02 h3.00 v3.00 h-3.00 Z M413.23,265.19 h3.00 v3.00 h-3.00 Z M414.44,264.74 h3.00 v3.00 h-3.00 Z M415.65,264.73 h3.00 v3.00 h-3.00 Z M416.87,266.32 h3.00 v3.00 h-3.00 Z M418.08,264.99 h3.00 v3.00 h-3.00 Z M419.29,265.27 h3.00 v3.00 h-3.00 Z M420.50,265.52 h3.00 v3.00 h-3.00 Z M421.71,264.55 h3.00 v3.00 h-3.00 Z M422.92,265.12 h3.00 v3.00 h-3.00 Z M424.13,265.18 h3.00 v3.00 h-3.00 Z M425.34,266.22 h3.00 v3.00 h-3.00 Z M426.55,265.38 h3.00 v3.00 h-3.00 Z M427.76,265.27 h3.00 v3.00 h-3.00 Z M428.97,266.81 h3.00 v3.00 h-3.00 Z M430.19,265.71 h3.00 v3.00 h-3.00 Z M431.40,266.54 h3.00 v3.00 h-3.00 Z M432.61,265.98 h3.00 v3.00 h-3.00 Z M433.82,264.57 h3.00 v3.00 h-3.00 Z M435.03,265.49 h3.00 v3.00 h-3.00 Z M436.24,265.55 h3.00 v3.00 h-3.00 Z M437.45,266.36 h3.00 v3.00 h-3.00 Z M438.66,265.33 h3.00 v3.00 h-3.00 Z M439.87,266.19 h3.00 v3.00 h-3.00 Z M441.08,265.79 h3.00 v3.00 h-3.00 Z M442.30,265.02 h3.00 v3.00 h-3.00 Z M443.51,266.57 h3.00 v3.00 h-3.00 Z M444.72,264.72 h3.00 v3.00 h-3.00 Z M445.93,266.47 h3.00 v3.00 h-3.00 Z M447.14,264.91 h3.00 v3.00 h-3.00 Z M448.35,264.50 h3.00 v3.00 h-3.00 Z M449.56,264.98 h3.00 v3.00 h-3.00 Z M450.77,266.33 h3.00 v3.00 h-3.00 Z M451.98,266.85 h3.00 v3.00 h-3.00 Z M453.19,264.51 h3.00 v3.00 h-3.00 Z M454.41,265.68 h3.00 v3.00 h-3.00 Z M455.62,265.68 h3.00 v3.00 h-3.00 Z M456.83,266.41 h3.00 v3.00 h-3.00 Z M458.04,264.94 h3.00 v3.00 h-3.00 Z M459.25,265.69 h3.00 v3.00 h-3.00 Z M460.46,265.33 h3.00 v3.00 h-3.00 Z M461.67,266.50 h3.00 v3.00 h-3.00 Z M462.88,265.13 h3.00 v3.00 h-3.00 Z M464.09,266.77 h3.00 v3.00 h-3.00 Z M465.31,265.18 h3.00 v3.00 h-3.00 Z M466.52,265.02 h3.00 v3.00 h-3.00 Z M467.73,266.18 h3.00 v3.00 h-3.00 Z M468.94,265.70 h3.00 v3.00 h-3.00 Z M470.15,264.76 h3.00 v3.00 h-3.00 Z M471.36,266.03 h3.00 v3.00 h-3.00 Z M472.57,264.69 h3.00 v3.00 h-3.00 Z M473.78,266.39 h3.00 v3.00 h-3.00 Z M474.99,266.17 h3.00 v3.00 h-3.00 Z M476.20,266.39 h3.00 v3.00 h-3.00 Z M477.41,266.01 h3.00 v3.00 h-3.00 Z M478.63,265.35 h3.00 v3.00 h-3.00 Z M479.84,265.46 h3.00 v3.00 h-3.00 Z M481.05,265.45 h3.00 v3.00 h-3.00 Z M482.26,266.64 h3.00 v3.00 h-3.00 Z M483.47,264.71 h3.00 v3.00 h-3.00 Z M484.68,266.63 h3.00 v3.00 h-3.00 Z M485.89,264.56 h3.00 v3.00 h-3.00 Z M487.10,264.99 h3.00 v3.00 h-3.00 Z M488.31,265.13 h3.00 v3.00 h-3.00 Z M489.52,266.66 h3.00 v3.00 h-3.00 Z M490.74,265.70 h3.00 v3.00 h-3.00 Z M491.95,265.41 h3.00 v3.00 h-3.00 Z M493.16,266.62 h3.00 v3.00 h-3.00 Z M494.37,265.06 h3.00 v3.00 h-3.00 Z M495.58,265.61 h3.00 v3.00 h-3.00 Z M496.79,265.78 h3.00 v3.00 h-3.00 Z M498.00,266.31 h3.00 v3.00 h-3.00 Z M499.21,266.31 h3.00 v3.00 h-3.00 Z M500.42,266.05 h3.00 v3.00 h-3.00 Z M501.63,265.34 h3.00 v3.00 h-3.00 Z M502.85,265.28 h3.00 v3.00 h-3.00 Z M504.06,264.87 h3.00 v3.00 h-3.00 Z M505.27,266.52 h3.00 v3.00 h-3.00 Z M506.48,266.09 h3.00 v3.00 h-3.00 Z M507.69,266.28 h3.00 v3.00 h-3.00 Z M508.90,264.91 h3.00 v3.00 h-3.00 Z M510.11,265.55 h3.00 v3.00 h-3.00 Z M511.32,266.36 h3.00 v3.00 h-3.00 Z M512.53,265.89 h3.00 v3.00 h-3.00 Z M513.75,264.80 h3.00 v3.00 h-3.00 Z M514.96,265.61 h3.00 v3.00 h-3.00 Z M516.17,266.62 h3.00 v3.00 h-3.00 Z M517.38,265.07 h3.00 v3.00 h-3.00 Z M518.59,264.96 h3.00 v3.00 h-3.00 Z M519.80,265.22 h3.00 v3.00 h-3.00 Z M521.01,266.19 h3.00 v3.00 h-3.00 Z M522.22,266.52 h3.00 v3.00 h-3.00 Z M523.43,264.87 h3.00 v3.00 h-3.00 Z M524.64,264.87 h3.00 v3.00 h-3.00 Z M525.86,265.09 h3.00 v3.00 h-3.00 Z M527.07,265.28 h3.00 v3.00 h-3.00 Z M528.28,265.75 h3.00 v3.00 h-3.00 Z M529.49,264.89 h3.00 v3.00 h-3.00 Z M530.70,265.29 h3.00 v3.00 h-3.00 Z M531.91,264.95 h3.00 v3.00 h-3.00 Z M533.12,266.84 h3.00 v3.00 h-3.00 Z M534.33,266.25 h3.00 v3.00 h-3.00 Z M535.54,264.74 h3.00 v3.00 h-3.00 Z M536.75,266.81 h3.00 v3.00 h-3.00 Z M537.97,264.74 h3.00 v3.00 h-3.00 Z M539.18,265.42 h3.00 v3.00 h-3.00 Z M540.39,266.86 h3.00 v3.00 h-3.00 Z M541.60,266.41 h3.00 v3.00 h-3.00 Z M542.81,266.26 h3.00 v3.00 h-3.00 Z M544.02,265.54 h3.00 v3.00 h-3.00 Z M545.23,264.97 h3.00 v3.00 h-3.00 Z M546.44,266.03 h3.00 v3.00 h-3.00 Z M547.65,264.76 h3.00 v3.00 h-3.00 Z M548.86,265.00 h3.00 v3.00 h-3.00 Z M550.08,265.43 h3.00 v3.00 h-3.00 Z M551.29,264.58 h3.00 v3.00 h-3.00 Z M552.50,265.46 h3.00 v3.00 h-3.00 Z M553.71,266.40 h3.00 v3.00 h-3.00 Z M554.92,266.16 h3.00 v3.00 h-3.00 Z M556.13,265.70 h3.00 v3.00 h-3.00 Z M557.34,266.02 h3.00 v3.00 h-3.00 Z M558.55,265.61 h3.00 v3.00 h-3.00 Z M559.76,264.84 h3.00 v3.00 h-3.00 Z M560.97,265.95 h3.00 v3.00 h-3.00 Z M562.18,265.47 h3.00 v3.00 h-3.00 Z M563.40,266.28 h3.00 v3.00 h-3.00 Z M564.61,266.68 h3.00 v3.00 h-3.00 Z M565.82,265.53 h3.00 v3.00 h-3.00 Z M567.03,265.88 h3.00 v3.00 h-3.00 Z M568.24,266.30 h3.00 v3.00 h-3.00 Z M569.45,265.51 h3.00 v3.00 h-3.00 Z M570.66,265.05 h3.00 v3.00 h-3.00 Z M571.87,266.23 h3.00 v3.00 h-3.00 Z M573.08,266.61 h3.00 v3.00 h-3.00 Z M574.29,266.36 h3.00 v3.00 h-3.00 Z M575.51,266.18 h3.00 v3.00 h-3.00 Z M576.72,266.55 h3.00 v3.00 h-3.00 Z M577.93,266.13 h3.00 v3.00 h-3.00 Z M579.14,266.04 h3.00 v3.00 h-3.00 Z M580.35,265.59 h3.00 v3.00 h-3.00 Z M581.56,265.25 h3.00 v3.00 h-3.00 Z M582.77,266.01 h3.00 v3.00 h-3.00 Z M583.98,264.73 h3.00 v3.00 h-3.00 Z M585.19,265.51 h3.00 v3.00 h-3.00 Z M586.40,266.38 h3.00 v3.00 h-3.00 Z M587.62,266.21 h3.00 v3.00 h-3.00 Z M588.83,266.01 h3.00 v3.00 h-3.00 Z M590.04,265.10 h3.00 v3.00 h-3.00 Z M591.25,265.52 h3.00 v3.00 h-3.00 Z M592.46,265.59 h3.00 v3.00 h-3.00 Z M593.67,265.99 h3.00 v3.00 h-3.00 Z M594.88,265.48 h3.00 v3.00 h-3.00 Z M596.09,266.12 h3.00 v3.00 h-3.00 Z M597.30,266.73 h3.00 v3.00 h-3.00 Z M598.51,264.94 h3.00 v3.00 h-3.00 Z M599.73,266.07 h3.00 v3.00 h-3.00 Z M600.94,266.37 h3.00 v3.00 h-3.00 Z M602.15,265.43 h3.00 v3.00 h-3.00 Z M603.36,265.68 h3.00 v3.00 h-3.00 Z M604.57,266.84 h3.00 v3.00 h-3.00 Z M605.78,264.59 h3.00 v3.00 h-3.00 Z M606.99,265.80 h3.00 v3.00 h-3.00 Z M608.20,264.89 h3.00 v3.00 h-3.00 Z M609.41,266.38 h3.00 v3.00 h-3.00 Z M610.62,266.76 h3.00 v3.00 h-3.00 Z M611.84,265.75 h3.00 v3.00 h-3.00 Z M613.05,264.74 h3.00 v3.00 h-3.00 Z M614.26,265.88 h3.00 v3.00 h-3.00 Z M615.47,265.80 h3.00 v3.00 h-3.00 Z M616.68,266.22 h3.00 v3.00 h-3.00 Z M617.89,265.73 h3.00 v3.00 h-3.00 Z M619.10,266.03 h3.00 v3.00 h-3.00 Z M620.31,266.49 h3.00 v3.00 h-3.00 Z M621.52,265.75 h3.00 v3.00 h-3.00 Z M622.74,265.48 h3.00 v3.00 h-3.00 Z M623.95,266.78 h3.00 v3.00 h-3.00 Z M625.16,265.00 h3.00 v3.00 h-3.00 Z M626.37,266.14 h3.00 v3.00 h-3.00 Z M627.58,265.44 h3.00 v3.00 h-3.00 Z M628.79,266.33 h3.00 v3.00 h-3.00 Z M630.00,264.79 h3.00 v3.00 h-3.00 Z M631.21,266.86 h3.00 v3.00 h-3.00 Z M632.42,265.35 h3.00 v3.00 h-3.00 Z M633.63,264.64 h3.00 v3.00 h-3.00 Z M634.85,265.16 h3.00 v3.00 h-3.00 Z M636.06,265.46 h3.00 v3.00 h-3.00 Z M637.27,264.53 h3.00 v3.00 h-3.00 Z M638.48,265.50 h3.00 v3.00 h-3.00 Z M639.69,265.51 h3.00 v3.00 h-3.00 Z M640.90,266.18 h3.00 v3.00 h-3.00 Z " stroke="#1e1e1e" stroke-width="0.5" fill="#1e1e1e"/>
<path d="M401.41,333.10 L402.62,258.60 L403.83,271.00 L405.04,267.99 L406.25,267.04 L407.47,267.33 L408.68,265.10 L409.89,267.93 L411.10,266.17 L412.31,267.84 L413.52,267.70 L414.73,264.99 L415.94,267.24 L417.15,267.75 L418.37,264.64 L419.58,265.66 L420.79,267.12 L422.00,264.97 L423.21,267.63 L424.42,265.39 L425.63,267.34 L426.84,264.92 L428.05,266.21 L429.26,267.71 L430.47,265.15 L431.69,265.35 L432.90,266.22 L434.11,265.55 L435.32,264.53 L436.53,265.06 L437.74,264.98 L438.95,267.77 L440.16,266.85 L441.37,267.62 L442.58,265.01 L443.80,267.23 L445.01,264.81 L446.22,266.31 L447.43,266.69 L448.64,265.70 L449.85,267.54 L451.06,266.40 L452.27,266.49 L453.48,267.58 L454.69,264.78 L455.91,267.97 L457.12,266.67 L458.33,265.82 L459.54,267.27 L460.75,265.35 L461.96,267.97 L463.17,266.48 L464.38,265.70 L465.59,267.15 L466.81,265.99 L468.02,265.04 L469.23,267.08 L470.44,264.57 L471.65,267.35 L472.86,265.31 L474.07,266.70 L475.28,267.94 L476.49,266.51 L477.70,266.79 L478.91,265.53 L480.13,264.41 L481.34,264.52 L482.55,264.94 L483.76,266.62 L484.97,265.96 L486.18,266.25 L487.39,267.62 L488.60,264.88 L489.81,265.22 L491.02,266.75 L492.24,264.48 L493.45,264.41 L494.66,265.68 L495.87,264.78 L497.08,265.69 L498.29,265.21 L499.50,266.50 L500.71,266.52 L501.92,265.14 L503.13,266.65 L504.35,266.11 L505.56,264.89 L506.77,267.77 L507.98,265.28 L509.19,264.94 L510.40,264.74 L511.61,266.70 L512.82,267.54 L514.03,267.22 L515.25,265.85 L516.46,265.35 L517.67,264.44 L518.88,266.72 L520.09,266.42 L521.30,265.66 L522.51,266.72 L523.72,266.00 L524.93,267.77 L526.14,267.04 L527.36,265.29 L528.57,267.65 L529.78,264.56 L530.99,266.31 L532.20,265.86 L533.41,265.26 L534.62,264.61 L535.83,267.20 L537.04,264.44 L538.25,266.38 L539.47,267.79 L540.68,264.91 L541.89,265.12 L543.10,266.59 L544.31,266.23 L545.52,266.71 L546.73,267.33 L547.94,265.03 L549.15,265.51 L550.36,265.48 L551.58,264.57 L552.79,267.60 L554.00,267.22 L555.21,266.98 L556.42,264.42 L557.63,267.44 L558.84,267.08 L560.05,266.07 L561.26,267.07 L562.47,266.03 L563.68,265.21 L564.90,264.78 L566.11,265.24 L567.32,264.54 L568.53,265.61 L569.74,267.10 L570.95,266.90 L572.16,267.44 L573.37,266.96 L574.58,265.36 L575.79,266.39 L577.01,265.97 L578.22,267.24 L579.43,266.28 L580.64,265.36 L581.85,266.71 L583.06,267.87 L584.27,265.18 L585.48,267.57 L586.69,264.45 L587.90,265.34 L589.12,265.25 L590.33,267.08 L591.54,267.80 L592.75,267.09 L593.96,265.58 L595.17,267.57 L596.38,265.58 L597.59,265.26 L598.80,267.67 L600.01,266.67 L601.23,266.89 L602.44,266.79 L603.65,267.92 L604.86,266.09 L606.07,267.42 L607.28,266.91 L608.49,267.49 L609.70,265.97 L610.91,267.01 L612.12,266.45 L613.34,265.51 L614.55,265.16 L615.76,266.64 L616.97,264.68 L618.18,267.68 L619.39,264.92 L620.60,264.50 L621.81,264.78 L623.02,267.74 L624.24,265.64 L625.45,264.91 L626.66,264.50 L627.87,264.55 L629.08,266.89 L630.29,266.68 L631.50,266.91 L632.71,267.05 L633.92,264.64 L635.13,266.53 L636.35,265.71 L637.56,267.34 L638.77,267.35 L639.98,267.61 L641.19,264.64 L642.40,267.52" stroke="#f3a0a0" stroke-width="0.7" fill="none" stroke-linejoin="round"/>
<circle cx="401.41" cy="333.10" r="1.70" stroke="#ef4b4b" stroke-width="0.5" fill="#ef4b4b"/>
<circle cx="402.62" cy="258.60" r="1.70" stroke="#ef4b4b" stroke-width="0.5" fill="#ef4b4b"/>
<circle cx="403.83" cy="271.00" r="1.70" stroke="#ef4b4b" stroke-width="0.5" fill="#ef4b4b"/>
<circle cx="405.04" cy="267.99" r="1.70" stroke="#ef4b4b" stroke-width="0.5" fill="#ef4b4b"/>
<circle cx="406.25" cy="267.04" r="1.70" stroke="#ef4b4b" stroke-width="0.5" fill="#ef4b4b"/>
<circle cx="407.47" cy="267.33" r="1.70" stroke="#ef4b4b" stroke-width="0.5" fill="#ef4b4b"/>
<circle cx="408.68" cy="265.10" r="1.70" stroke="#ef4b4b" stroke-width="0.5" fill="#ef4b4b"/>
<circle cx="409.89" cy="267.93" r="1.70" stroke="#ef4b4b" stroke-width="0.5" fill="#ef4b4b"/>
<circle cx="411.10" cy="266.17" r="1.70" stroke="#ef4b4b" stroke-width="0.5" fill="#ef4b4b"/>
<circle cx="412.31" cy="267.84" r="1.70" stroke="#ef4b4b" stroke-width="0.5" fill="#ef4b4b"/>
<circle cx="413.52" cy="267.70" r="1.70" stroke="#ef4b4b" stroke-width="0.5" fill="#ef4b4b"/>
<circle cx="414.73" cy="264.99" r="1.70" stroke="#ef4b4b" stroke-width="0.5" fill="#ef4b4b"/>
<circle cx="415.94" cy="267.24" r="1.70" stroke="#ef4b4b" stroke-width="0.5" fill="#ef4b4b"/>
<circle cx="417.15" cy="267.75" r="1.70" stroke="#ef4b4b" stroke-width="0.5" fill="#ef4b4b"/>
<circle cx="418.37" cy="264.64" r="1.70" stroke="#ef4b4b" stroke-width="0.5" fill="#ef4b4b"/>
<circle cx="419.58" cy="265.66" r="1.70" stroke="#ef4b4b" stroke-width="0.5" fill="#ef4b4b"/>
<circle cx="420.79" cy="267.12" r="1.70" stroke="#ef4b4b" stroke-width="0.5" fill="#ef4b4b"/>
<circle cx="422.00" cy="264.97" r="1.70" stroke="#ef4b4b" stroke-width="0.5" fill="#ef4b4b"/>
<circle cx="423.21" cy="267.63" r="1.70" stroke="#ef4b4b" stroke-width="0.5" fill="#ef4b4b"/>
<circle cx="424.42" cy="265.39" r="1.70" stroke="#ef4b4b" stroke-width="0.5" fill="#ef4b4b"/>
<circle cx="425.63" cy="267.34" r="1.70" stroke="#ef4b4b" stroke-width="0.5" fill="#ef4b4b"/>
<circle cx="426.84" cy="264.92" r="1.70" stroke="#ef4b4b" stroke-width="0.5" fill="#ef4b4b"/>
<circle cx="428.05" cy="266.21" r="1.70" stroke="#ef4b4b" stroke-width="0.5" fill="#ef4b4b"/>
<circle cx="429.26" cy="267.71" r="1.70" stroke="#ef4b4b" stroke-width="0.5" fill="#ef4b4b"/>
<circle cx="430.47" cy="265.15" r="1.70" stroke="#ef4b4b" stroke-width="0.5" fill="#ef4b4b"/>
<circle cx="431.69" cy="265.35" r="1.70" stroke="#ef4b4b" stroke-width="0.5" fill="#ef4b4b"/>
<circle cx="432.90" cy="266.22" r="1.70" stroke="#ef4b4b" stroke-width="0.5" fill="#ef4b4b"/>
<circle cx="434.11" cy="265.55" r="1.70" stroke="#ef4b4b" stroke-width="0.5" fill="#ef4b4b"/>
<circle cx="435.32" cy="264.53" r="1.70" stroke="#ef4b4b" stroke-width="0.5" fill="#ef4b4b"/>
<circle cx="436.53" cy="265.06" r="1.70" stroke="#ef4b4b" stroke-width="0.5" fill="#ef4b4b"/>
<circle cx="437.74" cy="264.98" r="1.70" stroke="#ef4b4b" stroke-width="0.5" fill="#ef4b4b"/>
<circle cx="438.95" cy="267.77" r="1.70" stroke="#ef4b4b" stroke-width="0.5" fill="#ef4b4b"/>
<circle cx="440.16" cy="266.85" r="1.70" stroke="#ef4b4b" stroke-width="0.5" fill="#ef4b4b"/>
<circle cx="441.37" cy="267.62" r="1.70" stroke="#ef4b4b" stroke-width="0.5" fill="#ef4b4b"/>
<circle cx="442.58" cy="265.01" r="1.70" stroke="#ef4b4b" stroke-width="0.5" fill="#ef4b4b"/>
<circle cx="443.80" cy="267.23" r="1.70" stroke="#ef4b4b" stroke-width="0.5" fill="#ef4b4b"/>
<circle cx="445.01" cy="264.81" r="1.70" stroke="#ef4b4b" stroke-width="0.5" fill="#ef4b4b"/>
<circle cx="446.22" cy="266.31" r="1.70" stroke="#ef4b4b" stroke-width="0.5" fill="#ef4b4b"/>
<circle cx="447.43" cy="266.69" r="1.70" stroke="#ef4b4b" stroke-width="0.5" fill="#ef4b4b"/>
<circle cx="448.64" cy="265.70" r="1.70" stroke="#ef4b4b" stroke-width="0.5" fill="#ef4b4b"/>
<circle cx="449.85" cy="267.54" r="1.70" stroke="#ef4b4b" stroke-width="0.5" fill="#ef4b4b"/>
<circle cx="451.06" cy="266.40" r="1.70" stroke="#ef4b4b" stroke-width="0.5" fill="#ef4b4b"/>
<circle cx="452.27" cy="266.49" r="1.70" stroke="#ef4b4b" stroke-width="0.5" fill="#ef4b4b"/>
<circle cx="453.48" cy="267.58" r="1.70" stroke="#ef4b4b" stroke-width="0.5" fill="#ef4b4b"/>
<circle cx="454.69" cy="264.78" r="1.70" stroke="#ef4b4b" stroke-width="0.5" fill="#ef4b4b"/>
<circle cx="455.91" cy="267.97" r="1.70" stroke="#ef4b4b" stroke-width="0.5" fill="#ef4b4b"/>
<circle cx="457.12" cy="266.67" r="1.70" stroke="#ef4b4b" stroke-width="0.5" fill="#ef4b4b"/>
<circle cx="458.33" cy="265.82" r="1.70" stroke="#ef4b4b" stroke-width="0.5" fill="#ef4b4b"/>
<circle cx="459.54" cy="267.27" r="1.70" stroke="#ef4b4b" stroke-width="0.5" fill="#ef4b4b"/>
<circle cx="460.75" cy="265.35" r="1.70" stroke="#ef4b4b" stroke-width="0.5" fill="#ef4b4b"/>
<circle cx="461.96" cy="267.97" r="1.70" stroke="#ef4b4b" stroke-width="0.5" fill="#ef4b4b"/>
<circle cx="463.17" cy="266.48" r="1.70" stroke="#ef4b4b" stroke-width="0.5" fill="#ef4b4b"/>
<circle cx="464.38" cy="265.70" r="1.70" stroke="#ef4b4b" stroke-width="0.5" fill="#ef4b4b"/>
<circle cx="465.59" cy="267.15" r="1.70" stroke="#ef4b4b" stroke-width="0.5" fill="#ef4b4b"/>
<circle cx="466.81" cy="265.99" r="1.70" stroke="#ef4b4b" stroke-width="0.5" fill="#ef4b4b"/>
<circle cx="468.02" cy="265.04" r="1.70" stroke="#ef4b4b" stroke-width="0.5" fill="#ef4b4b"/>
<circle cx="469.23" cy="267.08" r="1.70" stroke="#ef4b4b" stroke-width="0.5" fill="#ef4b4b"/>
<circle cx="470.44" cy="264.57" r="1.70" stroke="#ef4b4b" stroke-width="0.5" fill="#ef4b4b"/>
<circle cx="471.65" cy="267.35" r="1.70" stroke="#ef4b4b" stroke-width="0.5" fill="#ef4b4b"/>
<circle cx="472.86" cy="265.31" r="1.70" stroke="#ef4b4b" stroke-width="0.5" fill="#ef4b4b"/>
<circle cx="474.07" cy="266.70" r="1.70" stroke="#ef4b4b" stroke-width="0.5" fill="#ef4b4b"/>
<circle cx="475.28" cy="267.94" r="1.70" stroke="#ef4b4b" stroke-width="0.5" fill="#ef4b4b"/>
<circle cx="476.49" cy="266.51" r="1.70" stroke="#ef4b4b" stroke-width="0.5" fill="#ef4b4b"/>
<circle cx="477.70" cy="266.79" r="1.70" stroke="#ef4b4b" stroke-width="0.5" fill="#ef4b4b"/>
<circle cx="478.91" cy="265.53" r="1.70" stroke="#ef4b4b" stroke-width="0.5" fill="#ef4b4b"/>
<circle cx="480.13" cy="264.41" r="1.70" stroke="#ef4b4b" stroke-width="0.5" fill="#ef4b4b"/>
<circle cx="481.34" cy="264.52" r="1.70" stroke="#ef4b4b" stroke-width="0.5" fill="#ef4b4b"/>
<circle cx="482.55" cy="264.94" r="1.70" stroke="#ef4b4b" stroke-width="0.5" fill="#ef4b4b"/>
<circle cx="483.76" cy="266.62" r="1.70" stroke="#ef4b4b" stroke-width="0.5" fill="#ef4b4b"/>
<circle cx="484.97" cy="265.96" r="1.70" stroke="#ef4b4b" stroke-width="0.5" fill="#ef4b4b"/>
<circle cx="486.18" cy="266.25" r="1.70" stroke="#ef4b4b" stroke-width="0.5" fill="#ef4b4b"/>
<circle cx="487.39" cy="267.62" r="1.70" stroke="#ef4b4b" stroke-width="0.5" fill="#ef4b4b"/>
<circle cx="488.60" cy="264.88" r="1.70" stroke="#ef4b4b" stroke-width="0.5" fill="#ef4b4b"/>
<circle cx="489.81" cy="265.22" r="1.70" stroke="#ef4b4b" stroke-width="0.5" fill="#ef4b4b"/>
<circle cx="491.02" cy="266.75" r="1.70" stroke="#ef4b4b" stroke-width="0.5" fill="#ef4b4b"/>
<circle cx="492.24" cy="264.48" r="1.70" stroke="#ef4b4b" stroke-width="0.5" fill="#ef4b4b"/>
<circle cx="493.45" cy="264.41" r="1.70" stroke="#ef4b4b" stroke-width="0.5" fill="#ef4b4b"/>
<circle cx="494.66" cy="265.68" r="1.70" stroke="#ef4b4b" stroke-width="0.5" fill="#ef4b4b"/>
<circle cx="495.87" cy="264.78" r="1.70" stroke="#ef4b4b" stroke-width="0.5" fill="#ef4b4b"/>
<circle cx="497.08" cy="265.69" r="1.70" stroke="#ef4b4b" stroke-width="0.5" fill="#ef4b4b"/>
<circle cx="498.29" cy="265.21" r="1.70" stroke="#ef4b4b" stroke-width="0.5" fill="#ef4b4b"/>
<circle cx="499.50" cy="266.50" r="1.70" stroke="#ef4b4b" stroke-width="0.5" fill="#ef4b4b"/>
<circle cx="500.71" cy="266.52" r="1.70" stroke="#ef4b4b" stroke-width="0.5" fill="#ef4b4b"/>
<circle cx="501.92" cy="265.14" r="1.70" stroke="#ef4b4b" stroke-width="0.5" fill="#ef4b4b"/>
<circle cx="503.13" cy="266.65" r="1.70" stroke="#ef4b4b" stroke-width="0.5" fill="#ef4b4b"/>
<circle cx="504.35" cy="266.11" r="1.70" stroke="#ef4b4b" stroke-width="0.5" fill="#ef4b4b"/>
<circle cx="505.56" cy="264.89" r="1.70" stroke="#ef4b4b" stroke-width="0.5" fill="#ef4b4b"/>
<circle cx="506.77" cy="267.77" r="1.70" stroke="#ef4b4b" stroke-width="0.5" fill="#ef4b4b"/>
<circle cx="507.98" cy="265.28" r="1.70" stroke="#ef4b4b" stroke-width="0.5" fill="#ef4b4b"/>
<circle cx="509.19" cy="264.94" r="1.70" stroke="#ef4b4b" stroke-width="0.5" fill="#ef4b4b"/>
<circle cx="510.40" cy="264.74" r="1.70" stroke="#ef4b4b" stroke-width="0.5" fill="#ef4b4b"/>
<circle cx="511.61" cy="266.70" r="1.70" stroke="#ef4b4b" stroke-width="0.5" fill="#ef4b4b"/>
<circle cx="512.82" cy="267.54" r="1.70" stroke="#ef4b4b" stroke-width="0.5" fill="#ef4b4b"/>
<circle cx="514.03" cy="267.22" r="1.70" stroke="#ef4b4b" stroke-width="0.5" fill="#ef4b4b"/>
<circle cx="515.25" cy="265.85" r="1.70" stroke="#ef4b4b" stroke-width="0.5" fill="#ef4b4b"/>
<circle cx="516.46" cy="265.35" r="1.70" stroke="#ef4b4b" stroke-width="0.5" fill="#ef4b4b"/>
<circle cx="517.67" cy="264.44" r="1.70" stroke="#ef4b4b" stroke-width="0.5" fill="#ef4b4b"/>
<circle cx="518.88" cy="266.72" r="1.70" stroke="#ef4b4b" stroke-width="0.5" fill="#ef4b4b"/>
<circle cx="520.09" cy="266.42" r="1.70" stroke="#ef4b4b" stroke-width="0.5" fill="#ef4b4b"/>
<circle cx="521.30" cy="265.66" r="1.70" stroke="#ef4b4b" stroke-width="0.5" fill="#ef4b4b"/>
<circle cx="522.51" cy="266.72" r="1.70" stroke="#ef4b4b" stroke-width="0.5" fill="#ef4b4b"/>
<circle cx="523.72" cy="266.00" r="1.70" stroke="#ef4b4b" stroke-width="0.5" fill="#ef4b4b"/>
<circle cx="524.93" cy="267.77" r="1.70" stroke="#ef4b4b" stroke-width="0.5" fill="#ef4b4b"/>
<circle cx="526.14" cy="267.04" r="1.70" stroke="#ef4b4b" stroke-width="0.5" fill="#ef4b4b"/>
<circle cx="527.36" cy="265.29" r="1.70" stroke="#ef4b4b" stroke-width="0.5" fill="#ef4b4b"/>
<circle cx="528.57" cy="267.65" r="1.70" stroke="#ef4b4b" stroke-width="0.5" fill="#ef4b4b"/>
<circle cx="529.78" cy="264.56" r="1.70" stroke="#ef4b4b" stroke-width="0.5" fill="#ef4b4b"/>
<circle cx="530.99" cy="266.31" r="1.70" stroke="#ef4b4b" stroke-width="0.5" fill="#ef4b4b"/>
<circle cx="532.20" cy="265.86" r="1.70" stroke="#ef4b4b" stroke-width="0.5" fill="#ef4b4b"/>
<circle cx="533.41" cy="265.26" r="1.70" stroke="#ef4b4b" stroke-width="0.5" fill="#ef4b4b"/>
<circle cx="534.62" cy="264.61" r="1.70" stroke="#ef4b4b" stroke-width="0.5" fill="#ef4b4b"/>
<circle cx="535.83" cy="267.20" r="1.70" stroke="#ef4b4b" stroke-width="0.5" fill="#ef4b4b"/>
<circle cx="537.04" cy="264.44" r="1.70" stroke="#ef4b4b" stroke-width="0.5" fill="#ef4b4b"/>
<circle cx="538.25" cy="266.38" r="1.70" stroke="#ef4b4b" stroke-width="0.5" fill="#ef4b4b"/>
<circle cx="539.47" cy="267.79" r="1.70" stroke="#ef4b4b" stroke-width="0.5" fill="#ef4b4b"/>
<circle cx="540.68" cy="264.91" r="1.70" stroke="#ef4b4b" stroke-width="0.5" fill="#ef4b4b"/>
<circle cx="541.89" cy="265.12" r="1.70" stroke="#ef4b4b" stroke-width="0.5" fill="#ef4b4b"/>
<circle cx="543.10" cy="266.59" r="1.70" stroke="#ef4b4b" stroke-width="0.5" fill="#ef4b4b"/>
<circle cx="544.31" cy="266.23" r="1.70" stroke="#ef4b4b" stroke-width="0.5" fill="#ef4b4b"/>
<circle cx="545.52" cy="266.71" r="1.70" stroke="#ef4b4b" stroke-width="0.5" fill="#ef4b4b"/>
<circle cx="546.73" cy="267.33" r="1.70" stroke="#ef4b4b" stroke-width="0.5" fill="#ef4b4b"/>
<circle cx="547.94" cy="265.03" r="1.70" stroke="#ef4b4b" stroke-width="0.5" fill="#ef4b4b"/>
<circle cx="549.15" cy="265.51" r="1.70" stroke="#ef4b4b" stroke-width="0.5" fill="#ef4b4b"/>
<circle cx="550.36" cy="265.48" r="1.70" stroke="#ef4b4b" stroke-width="0.5" fill="#ef4b4b"/>
<circle cx="551.58" cy="264.57" r="1.70" stroke="#ef4b4b" stroke-width="0.5" fill="#ef4b4b"/>
<circle cx="552.79" cy="267.60" r="1.70" stroke="#ef4b4b" stroke-width="0.5" fill="#ef4b4b"/>
<circle cx="554.00" cy="267.22" r="1.70" stroke="#ef4b4b" stroke-width="0.5" fill="#ef4b4b"/>
<circle cx="555.21" cy="266.98" r="1.70" stroke="#ef4b4b" stroke-width="0.5" fill="#ef4b4b"/>
<circle cx="556.42" cy="264.42" r="1.70" stroke="#ef4b4b" stroke-width="0.5" fill="#ef4b4b"/>
<circle cx="557.63" cy="267.44" r="1.70" stroke="#ef4b4b" stroke-width="0.5" fill="#ef4b4b"/>
<circle cx="558.84" cy="267.08" r="1.70" stroke="#ef4b4b" stroke-width="0.5" fill="#ef4b4b"/>
<circle cx="560.05" cy="266.07" r="1.70" stroke="#ef4b4b" stroke-width="0.5" fill="#ef4b4b"/>
<circle cx="561.26" cy="267.07" r="1.70" stroke="#ef4b4b" stroke-width="0.5" fill="#ef4b4b"/>
<circle cx="562.47" cy="266.03" r="1.70" stroke="#ef4b4b" stroke-width="0.5" fill="#ef4b4b"/>
<circle cx="563.68" cy="265.21" r="1.70" stroke="#ef4b4b" stroke-width="0.5" fill="#ef4b4b"/>
<circle cx="564.90" cy="264.78" r="1.70" stroke="#ef4b4b" stroke-width="0.5" fill="#ef4b4b"/>
<circle cx="566.11" cy="265.24" r="1.70" stroke="#ef4b4b" stroke-width="0.5" fill="#ef4b4b"/>
<circle cx="567.32" cy="264.54" r="1.70" stroke="#ef4b4b" stroke-width="0.5" fill="#ef4b4b"/>
<circle cx="568.53" cy="265.61" r="1.70" stroke="#ef4b4b" stroke-width="0.5" fill="#ef4b4b"/>
<circle cx="569.74" cy="267.10" r="1.70" stroke="#ef4b4b" stroke-width="0.5" fill="#ef4b4b"/>
<circle cx="570.95" cy="266.90" r="1.70" stroke="#ef4b4b" stroke-width="0.5" fill="#ef4b4b"/>
<circle cx="572.16" cy="267.44" r="1.70" stroke="#ef4b4b" stroke-width="0.5" fill="#ef4b4b"/>
<circle cx="573.37" cy="266.96" r="1.70" stroke="#ef4b4b" stroke-width="0.5" fill="#ef4b4b"/>
<circle cx="574.58" cy="265.36" r="1.70" stroke="#ef4b4b" stroke-width="0.5" fill="#ef4b4b"/>
<circle cx="575.79" cy="266.39" r="1.70" stroke="#ef4b4b" stroke-width="0.5" fill="#ef4b4b"/>
<circle cx="577.01" cy="265.97" r="1.70" stroke="#ef4b4b" stroke-width="0.5" fill="#ef4b4b"/>
<circle cx="578.22" cy="267.24" r="1.70" stroke="#ef4b4b" stroke-width="0.5" fill="#ef4b4b"/>
<circle cx="579.43" cy="266.28" r="1.70" stroke="#ef4b4b" stroke-width="0.5" fill="#ef4b4b"/>
<circle cx="580.64" cy="265.36" r="1.70" stroke="#ef4b4b" stroke-width="0.5" fill="#ef4b4b"/>
<circle cx="581.85" cy="266.71" r="1.70" stroke="#ef4b4b" stroke-width="0.5" fill="#ef4b4b"/>
<circle cx="583.06" cy="267.87" r="1.70" stroke="#ef4b4b" stroke-width="0.5" fill="#ef4b4b"/>
<circle cx="584.27" cy="265.18" r="1.70" stroke="#ef4b4b" stroke-width="0.5" fill="#ef4b4b"/>
<circle cx="585.48" cy="267.57" r="1.70" stroke="#ef4b4b" stroke-width="0.5" fill="#ef4b4b"/>
<circle cx="586.69" cy="264.45" r="1.70" stroke="#ef4b4b" stroke-width="0.5" fill="#ef4b4b"/>
<circle cx="587.90" cy="265.34" r="1.70" stroke="#ef4b4b" stroke-width="0.5" fill="#ef4b4b"/>
<circle cx="589.12" cy="265.25" r="1.70" stroke="#ef4b4b" stroke-width="0.5" fill="#ef4b4b"/>
<circle cx="590.33" cy="267.08" r="1.70" stroke="#ef4b4b" stroke-width="0.5" fill="#ef4b4b"/>
<circle cx="591.54" cy="267.80" r="1.70" stroke="#ef4b4b" stroke-width="0.5" fill="#ef4b4b"/>
<circle cx="592.75" cy="267.09" r="1.70" stroke="#ef4b4b" stroke-width="0.5" fill="#ef4b4b"/>
<circle cx="593.96" cy="265.58" r="1.70" stroke="#ef4b4b" stroke-width="0.5" fill="#ef4b4b"/>
<circle cx="595.17" cy="267.57" r="1.70" stroke="#ef4b4b" stroke-width="0.5" fill="#ef4b4b"/>
<circle cx="596.38" cy="265.58" r="1.70" stroke="#ef4b4b" stroke-width="0.5" fill="#ef4b4b"/>
<circle cx="597.59" cy="265.26" r="1.70" stroke="#ef4b4b" stroke-width="0.5" fill="#ef4b4b"/>
<circle cx="598.80" cy="267.67" r="1.70" stroke="#ef4b4b" stroke-width="0.5" fill="#ef4b4b"/>
<circle cx="600.01" cy="266.67" r="1.70" stroke="#ef4b4b" stroke-width="0.5" fill="#ef4b4b"/>
<circle cx="601.23" cy="266.89" r="1.70" stroke="#ef4b4b" stroke-width="0.5" fill="#ef4b4b"/>
<circle cx="602.44" cy="266.79" r="1.70" stroke="#ef4b4b" stroke-width="0.5" fill="#ef4b4b"/>
<circle cx="603.65" cy="267.92" r="1.70" stroke="#ef4b4b" stroke-width="0.5" fill="#ef4b4b"/>
<circle cx="604.86" cy="266.09" r="1.70" stroke="#ef4b4b" stroke-width="0.5" fill="#ef4b4b"/>
<circle cx="606.07" cy="267.42" r="1.70" stroke="#ef4b4b" stroke-width="0.5" fill="#ef4b4b"/>
<circle cx="607.28" cy="266.91" r="1.70" stroke="#ef4b4b" stroke-width="0.5" fill="#ef4b4b"/>
<circle cx="608.49" cy="267.49" r="1.70" stroke="#ef4b4b" stroke-width="0.5" fill="#ef4b4b"/>
<circle cx="609.70" cy="265.97" r="1.70" stroke="#ef4b4b" stroke-width="0.5" fill="#ef4b4b"/>
<circle cx="610.91" cy="267.01" r="1.70" stroke="#ef4b4b" stroke-width="0.5" fill="#ef4b4b"/>
<circle cx="612.12" cy="266.45" r="1.70" stroke="#ef4b4b" stroke-width="0.5" fill="#ef4b4b"/>
<circle cx="613.34" cy="265.51" r="1.70" stroke="#ef4b4b" stroke-width="0.5" fill="#ef4b4b"/>
<circle cx="614.55" cy="265.16" r="1.70" stroke="#ef4b4b" stroke-width="0.5" fill="#ef4b4b"/>
<circle cx="615.76" cy="266.64" r="1.70" stroke="#ef4b4b" stroke-width="0.5" fill="#ef4b4b"/>
<circle cx="616.97" cy="264.68" r="1.70" stroke="#ef4b4b" stroke-width="0.5" fill="#ef4b4b"/>
<circle cx="618.18" cy="267.68" r="1.70" stroke="#ef4b4b" stroke-width="0.5" fill="#ef4b4b"/>
<circle cx="619.39" cy="264.92" r="1.70" stroke="#ef4b4b" stroke-width="0.5" fill="#ef4b4b"/>
<circle cx="620.60" cy="264.50" r="1.70" stroke="#ef4b4b" stroke-width="0.5" fill="#ef4b4b"/>
<circle cx="621.81" cy="264.78" r="1.70" stroke="#ef4b4b" stroke-width="0.5" fill="#ef4b4b"/>
<circle cx="623.02" cy="267.74" r="1.70" stroke="#ef4b4b" stroke-width="0.5" fill="#ef4b4b"/>
<circle cx="624.24" cy="265.64" r="1.70" stroke="#ef4b4b" stroke-width="0.5" fill="#ef4b4b"/>
<circle cx="625.45" cy="264.91" r="1.70" stroke="#ef4b4b" stroke-width="0.5" fill="#ef4b4b"/>
<circle cx="626.66" cy="264.50" r="1.70" stroke="#ef4b4b" stroke-width="0.5" fill="#ef4b4b"/>
<circle cx="627.87" cy="264.55" r="1.70" stroke="#ef4b4b" stroke-width="0.5" fill="#ef4b4b"/>
<circle cx="629.08" cy="266.89" r="1.70" stroke="#ef4b4b" stroke-width="0.5" fill="#ef4b4b"/>
<circle cx="630.29" cy="266.68" r="1.70" stroke="#ef4b4b" stroke-width="0.5" fill="#ef4b4b"/>
<circle cx="631.50" cy="266.91" r="1.70" stroke="#ef4b4b" stroke-width="0.5" fill="#ef4b4b"/>
<circle cx="632.71" cy="267.05" r="1.70" stroke="#ef4b4b" stroke-width="0.5" fill="#ef4b4b"/>
<circle cx="633.92" cy="264.64" r="1.70" stroke="#ef4b4b" stroke-width="0.5" fill="#ef4b4b"/>
<circle cx="635.13" cy="266.53" r="1.70" stroke="#ef4b4b" stroke-width="0.5" fill="#ef4b4b"/>
<circle cx="636.35" cy="265.71" r="1.70" stroke="#ef4b4b" stroke-width="0.5" fill="#ef4b4b"/>
<circle cx="637.56" cy="267.34" r="1.70" stroke="#ef4b4b" stroke-width="0.5" fill="#ef4b4b"/>
<circle cx="638.77" cy="267.35" r="1.70" stroke="#ef4b4b" stroke-width="0.5" fill="#ef4b4b"/>
<circle cx="639.98" cy="267.61" r="1.70" stroke="#ef4b4b" stroke-width="0.5" fill="#ef4b4b"/>
<circle cx="641.19" cy="264.64" r="1.70" stroke="#ef4b4b" stroke-width="0.5" fill="#ef4b4b"/>
<circle cx="642.40" cy="267.52" r="1.70" stroke="#ef4b4b" stroke-width="0.5" fill="#ef4b4b"/>
<path d="M401.41,273.60 L402.62,266.00 L403.83,265.59 L405.04,266.90 L406.25,265.44 L407.47,262.42 L408.68,262.89 L409.89,264.77 L411.10,265.82 L412.31,266.40 L413.52,265.32 L414.73,265.21 L415.94,264.20 L417.15,267.10 L418.37,265.61 L419.58,266.76 L420.79,264.87 L422.00,265.28 L423.21,267.05 L424.42,264.59 L425.63,264.10 L426.84,266.87 L428.05,263.68 L429.26,265.25 L430.47,266.64 L431.69,267.11 L432.90,264.35 L434.11,265.67 L435.32,267.01 L436.53,266.07 L437.74,265.46 L438.95,264.13 L440.16,264.74 L441.37,266.07 L442.58,264.41 L443.80,266.04 L445.01,262.16 L446.22,265.68 L447.43,265.24 L448.64,263.72 L449.85,264.96 L451.06,267.07 L452.27,266.83 L453.48,264.75 L454.69,267.07 L455.91,262.78 L457.12,265.59 L458.33,265.34 L459.54,266.14 L460.75,262.53 L461.96,265.08 L463.17,266.18 L464.38,266.55 L465.59,265.62 L466.81,267.10 L468.02,266.62 L469.23,264.71 L470.44,264.94 L471.65,265.59 L472.86,264.71 L474.07,266.13 L475.28,264.47 L476.49,264.68 L477.70,262.25 L478.91,264.19 L480.13,266.87 L481.34,266.34 L482.55,266.98 L483.76,264.59 L484.97,264.19 L486.18,266.13 L487.39,265.20 L488.60,262.34 L489.81,264.90 L491.02,267.06 L492.24,267.09 L493.45,265.14 L494.66,266.63 L495.87,264.16 L497.08,265.19 L498.29,264.62 L499.50,264.67 L500.71,265.31 L501.92,264.25 L503.13,261.91 L504.35,266.94 L505.56,266.39 L506.77,265.09 L507.98,267.06 L509.19,264.84 L510.40,265.01 L511.61,264.01 L512.82,266.93 L514.03,264.82 L515.25,264.75 L516.46,267.06 L517.67,265.24 L518.88,265.38 L520.09,266.97 L521.30,266.57 L522.51,266.63 L523.72,265.94 L524.93,265.02 L526.14,264.30 L527.36,264.63 L528.57,262.59 L529.78,264.11 L530.99,265.04 L532.20,266.83 L533.41,262.65 L534.62,264.31 L535.83,266.27 L537.04,264.75 L538.25,265.98 L539.47,266.39 L540.68,266.13 L541.89,266.69 L543.10,265.81 L544.31,266.36 L545.52,264.79 L546.73,264.49 L547.94,265.85 L549.15,265.27 L550.36,265.62 L551.58,266.59 L552.79,264.97 L554.00,265.52 L555.21,266.69 L556.42,264.13 L557.63,264.38 L558.84,267.11 L560.05,266.98 L561.26,266.77 L562.47,264.83 L563.68,264.83 L564.90,265.91 L566.11,264.70 L567.32,264.45 L568.53,264.82 L569.74,266.09 L570.95,264.04 L572.16,266.17 L573.37,265.00 L574.58,266.54 L575.79,262.00 L577.01,265.26 L578.22,263.85 L579.43,264.52 L580.64,265.31 L581.85,264.98 L583.06,265.00 L584.27,265.14 L585.48,266.77 L586.69,265.16 L587.90,266.33 L589.12,264.02 L590.33,265.36 L591.54,265.30 L592.75,265.47 L593.96,264.05 L595.17,266.05 L596.38,264.28 L597.59,265.19 L598.80,264.47 L600.01,265.67 L601.23,264.35 L602.44,266.58 L603.65,264.63 L604.86,267.02 L606.07,263.34 L607.28,266.96 L608.49,266.89 L609.70,266.64 L610.91,266.51 L612.12,265.29 L613.34,266.65 L614.55,264.70 L615.76,265.66 L616.97,264.39 L618.18,266.32 L619.39,264.13 L620.60,264.22 L621.81,264.48 L623.02,265.92 L624.24,266.01 L625.45,265.34 L626.66,265.36 L627.87,265.43 L629.08,264.07 L630.29,265.57 L631.50,266.44 L632.71,265.47 L633.92,263.31 L635.13,264.41 L636.35,264.29 L637.56,263.43 L638.77,263.84 L639.98,266.35 L641.19,263.44 L642.40,265.61" stroke="#3760b8" stroke-width="0.8" fill="none" stroke-linejoin="round"/>
<path d="M401.41,271.21 L403.71,275.19 L399.11,275.19 Z M402.62,263.61 L404.92,267.59 L400.32,267.59 Z M403.83,263.20 L406.13,267.18 L401.53,267.18 Z M405.04,264.51 L407.34,268.49 L402.74,268.49 Z M406.25,263.05 L408.56,267.03 L403.95,267.03 Z M407.47,260.03 L409.77,264.01 L405.17,264.01 Z M408.68,260.50 L410.98,264.49 L406.38,264.49 Z M409.89,262.38 L412.19,266.36 L407.59,266.36 Z M411.10,263.43 L413.40,267.42 L408.80,267.42 Z M412.31,264.01 L414.61,267.99 L410.01,267.99 Z M413.52,262.93 L415.82,266.92 L411.22,266.92 Z M414.73,262.82 L417.03,266.80 L412.43,266.80 Z M415.94,261.81 L418.24,265.79 L413.64,265.79 Z M417.15,264.71 L419.45,268.69 L414.85,268.69 Z M418.37,263.22 L420.67,267.20 L416.06,267.20 Z M419.58,264.37 L421.88,268.35 L417.28,268.35 Z M420.79,262.48 L423.09,266.46 L418.49,266.46 Z M422.00,262.89 L424.30,266.87 L419.70,266.87 Z M423.21,264.66 L425.51,268.65 L420.91,268.65 Z M424.42,262.20 L426.72,266.19 L422.12,266.19 Z M425.63,261.71 L427.93,265.70 L423.33,265.70 Z M426.84,264.48 L429.14,268.46 L424.54,268.46 Z M428.05,261.29 L430.35,265.27 L425.75,265.27 Z M429.26,262.86 L431.56,266.85 L426.96,266.85 Z M430.47,264.25 L432.77,268.24 L428.17,268.24 Z M431.69,264.72 L433.99,268.70 L429.39,268.70 Z M432.90,261.96 L435.20,265.94 L430.60,265.94 Z M434.11,263.28 L436.41,267.27 L431.81,267.27 Z M435.32,264.62 L437.62,268.61 L433.02,268.61 Z M436.53,263.68 L438.83,267.66 L434.23,267.66 Z M437.74,263.07 L440.04,267.06 L435.44,267.06 Z M438.95,261.74 L441.25,265.72 L436.65,265.72 Z M440.16,262.35 L442.46,266.34 L437.86,266.34 Z M441.37,263.68 L443.67,267.66 L439.07,267.66 Z M442.58,262.02 L444.88,266.00 L440.28,266.00 Z M443.80,263.65 L446.10,267.63 L441.50,267.63 Z M445.01,259.77 L447.31,263.75 L442.71,263.75 Z M446.22,263.29 L448.52,267.27 L443.92,267.27 Z M447.43,262.85 L449.73,266.84 L445.13,266.84 Z M448.64,261.33 L450.94,265.32 L446.34,265.32 Z M449.85,262.57 L452.15,266.56 L447.55,266.56 Z M451.06,264.68 L453.36,268.66 L448.76,268.66 Z M452.27,264.44 L454.57,268.42 L449.97,268.42 Z M453.48,262.36 L455.78,266.34 L451.18,266.34 Z M454.69,264.68 L457.00,268.67 L452.39,268.67 Z M455.91,260.39 L458.21,264.38 L453.61,264.38 Z M457.12,263.20 L459.42,267.19 L454.82,267.19 Z M458.33,262.95 L460.63,266.94 L456.03,266.94 Z M459.54,263.75 L461.84,267.73 L457.24,267.73 Z M460.75,260.14 L463.05,264.12 L458.45,264.12 Z M461.96,262.69 L464.26,266.68 L459.66,266.68 Z M463.17,263.79 L465.47,267.78 L460.87,267.78 Z M464.38,264.16 L466.68,268.14 L462.08,268.14 Z M465.59,263.23 L467.89,267.21 L463.29,267.21 Z M466.81,264.71 L469.11,268.70 L464.50,268.70 Z M468.02,264.23 L470.32,268.22 L465.72,268.22 Z M469.23,262.32 L471.53,266.30 L466.93,266.30 Z M470.44,262.55 L472.74,266.54 L468.14,266.54 Z M471.65,263.20 L473.95,267.18 L469.35,267.18 Z M472.86,262.32 L475.16,266.31 L470.56,266.31 Z M474.07,263.74 L476.37,267.72 L471.77,267.72 Z M475.28,262.08 L477.58,266.06 L472.98,266.06 Z M476.49,262.29 L478.79,266.27 L474.19,266.27 Z M477.70,259.86 L480.00,263.85 L475.40,263.85 Z M478.91,261.80 L481.21,265.79 L476.61,265.79 Z M480.13,264.48 L482.43,268.47 L477.83,268.47 Z M481.34,263.95 L483.64,267.94 L479.04,267.94 Z M482.55,264.59 L484.85,268.57 L480.25,268.57 Z M483.76,262.20 L486.06,266.19 L481.46,266.19 Z M484.97,261.80 L487.27,265.78 L482.67,265.78 Z M486.18,263.74 L488.48,267.72 L483.88,267.72 Z M487.39,262.81 L489.69,266.79 L485.09,266.79 Z M488.60,259.95 L490.90,263.94 L486.30,263.94 Z M489.81,262.51 L492.11,266.49 L487.51,266.49 Z M491.02,264.67 L493.32,268.65 L488.72,268.65 Z M492.24,264.70 L494.54,268.68 L489.94,268.68 Z M493.45,262.75 L495.75,266.73 L491.15,266.73 Z M494.66,264.24 L496.96,268.22 L492.36,268.22 Z M495.87,261.77 L498.17,265.75 L493.57,265.75 Z M497.08,262.80 L499.38,266.79 L494.78,266.79 Z M498.29,262.23 L500.59,266.21 L495.99,266.21 Z M499.50,262.28 L501.80,266.26 L497.20,266.26 Z M500.71,262.92 L503.01,266.91 L498.41,266.91 Z M501.92,261.86 L504.22,265.85 L499.62,265.85 Z M503.13,259.52 L505.44,263.50 L500.83,263.50 Z M504.35,264.55 L506.65,268.54 L502.05,268.54 Z M505.56,264.00 L507.86,267.98 L503.26,267.98 Z M506.77,262.69 L509.07,266.68 L504.47,266.68 Z M507.98,264.67 L510.28,268.66 L505.68,268.66 Z M509.19,262.45 L511.49,266.43 L506.89,266.43 Z M510.40,262.62 L512.70,266.61 L508.10,266.61 Z M511.61,261.62 L513.91,265.61 L509.31,265.61 Z M512.82,264.54 L515.12,268.53 L510.52,268.53 Z M514.03,262.43 L516.33,266.41 L511.73,266.41 Z M515.25,262.36 L517.54,266.34 L512.95,266.34 Z M516.46,264.67 L518.76,268.66 L514.16,268.66 Z M517.67,262.85 L519.97,266.83 L515.37,266.83 Z M518.88,262.99 L521.18,266.97 L516.58,266.97 Z M520.09,264.58 L522.39,268.56 L517.79,268.56 Z M521.30,264.18 L523.60,268.16 L519.00,268.16 Z M522.51,264.24 L524.81,268.23 L520.21,268.23 Z M523.72,263.55 L526.02,267.54 L521.42,267.54 Z M524.93,262.63 L527.23,266.62 L522.63,266.62 Z M526.14,261.91 L528.44,265.90 L523.84,265.90 Z M527.36,262.24 L529.65,266.22 L525.06,266.22 Z M528.57,260.20 L530.87,264.18 L526.27,264.18 Z M529.78,261.72 L532.08,265.70 L527.48,265.70 Z M530.99,262.65 L533.29,266.64 L528.69,266.64 Z M532.20,264.44 L534.50,268.42 L529.90,268.42 Z M533.41,260.26 L535.71,264.24 L531.11,264.24 Z M534.62,261.92 L536.92,265.90 L532.32,265.90 Z M535.83,263.88 L538.13,267.86 L533.53,267.86 Z M537.04,262.36 L539.34,266.34 L534.74,266.34 Z M538.25,263.59 L540.55,267.58 L535.95,267.58 Z M539.47,264.00 L541.76,267.99 L537.17,267.99 Z M540.68,263.74 L542.98,267.72 L538.38,267.72 Z M541.89,264.30 L544.19,268.28 L539.59,268.28 Z M543.10,263.42 L545.40,267.41 L540.80,267.41 Z M544.31,263.97 L546.61,267.96 L542.01,267.96 Z M545.52,262.40 L547.82,266.39 L543.22,266.39 Z M546.73,262.10 L549.03,266.08 L544.43,266.08 Z M547.94,263.46 L550.24,267.44 L545.64,267.44 Z M549.15,262.88 L551.45,266.86 L546.85,266.86 Z M550.36,263.23 L552.66,267.22 L548.06,267.22 Z M551.58,264.20 L553.88,268.18 L549.28,268.18 Z M552.79,262.58 L555.09,266.56 L550.49,266.56 Z M554.00,263.13 L556.30,267.11 L551.70,267.11 Z M555.21,264.30 L557.51,268.28 L552.91,268.28 Z M556.42,261.74 L558.72,265.72 L554.12,265.72 Z M557.63,261.99 L559.93,265.97 L555.33,265.97 Z M558.84,264.72 L561.14,268.71 L556.54,268.71 Z M560.05,264.59 L562.35,268.57 L557.75,268.57 Z M561.26,264.38 L563.56,268.37 L558.96,268.37 Z M562.47,262.44 L564.77,266.43 L560.17,266.43 Z M563.68,262.44 L565.98,266.42 L561.38,266.42 Z M564.90,263.52 L567.20,267.50 L562.60,267.50 Z M566.11,262.31 L568.41,266.29 L563.81,266.29 Z M567.32,262.06 L569.62,266.05 L565.02,266.05 Z M568.53,262.43 L570.83,266.41 L566.23,266.41 Z M569.74,263.70 L572.04,267.68 L567.44,267.68 Z M570.95,261.65 L573.25,265.63 L568.65,265.63 Z M572.16,263.78 L574.46,267.76 L569.86,267.76 Z M573.37,262.61 L575.67,266.59 L571.07,266.59 Z M574.58,264.15 L576.88,268.14 L572.28,268.14 Z M575.79,259.61 L578.09,263.60 L573.50,263.60 Z M577.01,262.87 L579.31,266.86 L574.71,266.86 Z M578.22,261.46 L580.52,265.44 L575.92,265.44 Z M579.43,262.13 L581.73,266.12 L577.13,266.12 Z M580.64,262.92 L582.94,266.90 L578.34,266.90 Z M581.85,262.59 L584.15,266.58 L579.55,266.58 Z M583.06,262.61 L585.36,266.59 L580.76,266.59 Z M584.27,262.75 L586.57,266.74 L581.97,266.74 Z M585.48,264.38 L587.78,268.36 L583.18,268.36 Z M586.69,262.77 L588.99,266.76 L584.39,266.76 Z M587.90,263.94 L590.20,267.92 L585.61,267.92 Z M589.12,261.63 L591.42,265.61 L586.82,265.61 Z M590.33,262.97 L592.63,266.95 L588.03,266.95 Z M591.54,262.91 L593.84,266.89 L589.24,266.89 Z M592.75,263.08 L595.05,267.07 L590.45,267.07 Z M593.96,261.66 L596.26,265.64 L591.66,265.64 Z M595.17,263.66 L597.47,267.64 L592.87,267.64 Z M596.38,261.89 L598.68,265.88 L594.08,265.88 Z M597.59,262.80 L599.89,266.78 L595.29,266.78 Z M598.80,262.08 L601.10,266.06 L596.50,266.06 Z M600.01,263.28 L602.31,267.26 L597.72,267.26 Z M601.23,261.96 L603.53,265.94 L598.93,265.94 Z M602.44,264.19 L604.74,268.17 L600.14,268.17 Z M603.65,262.24 L605.95,266.22 L601.35,266.22 Z M604.86,264.63 L607.16,268.61 L602.56,268.61 Z M606.07,260.95 L608.37,264.94 L603.77,264.94 Z M607.28,264.57 L609.58,268.56 L604.98,268.56 Z M608.49,264.50 L610.79,268.49 L606.19,268.49 Z M609.70,264.25 L612.00,268.23 L607.40,268.23 Z M610.91,264.12 L613.21,268.11 L608.61,268.11 Z M612.12,262.90 L614.42,266.89 L609.83,266.89 Z M613.34,264.26 L615.64,268.25 L611.04,268.25 Z M614.55,262.31 L616.85,266.29 L612.25,266.29 Z M615.76,263.27 L618.06,267.25 L613.46,267.25 Z M616.97,262.00 L619.27,265.99 L614.67,265.99 Z M618.18,263.93 L620.48,267.91 L615.88,267.91 Z M619.39,261.74 L621.69,265.72 L617.09,265.72 Z M620.60,261.83 L622.90,265.82 L618.30,265.82 Z M621.81,262.09 L624.11,266.08 L619.51,266.08 Z M623.02,263.53 L625.32,267.51 L620.72,267.51 Z M624.24,263.62 L626.53,267.60 L621.94,267.60 Z M625.45,262.95 L627.75,266.94 L623.15,266.94 Z M626.66,262.97 L628.96,266.96 L624.36,266.96 Z M627.87,263.04 L630.17,267.02 L625.57,267.02 Z M629.08,261.68 L631.38,265.67 L626.78,265.67 Z M630.29,263.18 L632.59,267.16 L627.99,267.16 Z M631.50,264.05 L633.80,268.04 L629.20,268.04 Z M632.71,263.08 L635.01,267.06 L630.41,267.06 Z M633.92,260.92 L636.22,264.91 L631.62,264.91 Z M635.13,262.02 L637.43,266.00 L632.83,266.00 Z M636.35,261.90 L638.64,265.89 L634.05,265.89 Z M637.56,261.04 L639.86,265.03 L635.26,265.03 Z M638.77,261.45 L641.07,265.43 L636.47,265.43 Z M639.98,263.96 L642.28,267.94 L637.68,267.94 Z M641.19,261.05 L643.49,265.03 L638.89,265.03 Z M642.40,263.22 L644.70,267.21 L640.10,267.21 Z " stroke="#3760b8" stroke-width="0.5" fill="#3760b8" stroke-linejoin="miter"/>
<path d="M401.41,350.40 L402.62,353.65 L403.83,352.90 L405.04,352.72 L406.25,352.57 L407.47,354.60 L408.68,354.73 L409.89,354.27 L411.10,353.31 L412.31,353.27 L413.52,353.46 L414.73,353.95 L415.94,353.22 L417.15,354.03 L418.37,353.61 L419.58,355.48 L420.79,355.53 L422.00,354.42 L423.21,353.64 L424.42,355.51 L425.63,353.80 L426.84,353.93 L428.05,353.00 L429.26,353.99 L430.47,354.23 L431.69,354.31 L432.90,353.52 L434.11,354.31 L435.32,353.01 L436.53,353.69 L437.74,353.23 L438.95,354.04 L440.16,353.13 L441.37,353.22 L442.58,354.10 L443.80,354.06 L445.01,355.12 L446.22,355.12 L447.43,355.84 L448.64,355.75 L449.85,356.04 L451.06,356.57 L452.27,355.38 L453.48,355.31 L454.69,357.11 L455.91,355.03 L457.12,356.62 L458.33,356.50 L459.54,355.03 L460.75,357.18 L461.96,357.42 L463.17,356.82 L464.38,357.19 L465.59,357.48 L466.81,355.82 L468.02,356.91 L469.23,356.95 L470.44,357.89 L471.65,357.85 L472.86,357.94 L474.07,357.35 L475.28,358.20 L476.49,357.69 L477.70,357.76 L478.91,356.60 L480.13,356.12 L481.34,356.42 L482.55,357.06 L483.76,356.43 L484.97,358.37 L486.18,357.69 L487.39,357.91 L488.60,357.95 L489.81,358.13 L491.02,357.67 L492.24,356.45 L493.45,358.56 L494.66,358.47 L495.87,357.87 L497.08,357.99 L498.29,358.36 L499.50,356.86 L500.71,358.67 L501.92,357.50 L503.13,357.13 L504.35,357.72 L505.56,359.01 L506.77,357.74 L507.98,359.22 L509.19,359.93 L510.40,358.76 L511.61,358.57 L512.82,358.91 L514.03,359.53 L515.25,359.84 L516.46,359.54 L517.67,359.70 L518.88,358.32 L520.09,358.59 L521.30,358.96 L522.51,360.33 L523.72,359.29 L524.93,360.07 L526.14,358.73 L527.36,358.95 L528.57,359.59 L529.78,360.73 L530.99,360.88 L532.20,360.94 L533.41,360.03 L534.62,360.65 L535.83,360.52 L537.04,360.53 L538.25,359.63 L539.47,361.66 L540.68,359.86 L541.89,361.89 L543.10,361.79 L544.31,359.40 L545.52,360.56 L546.73,361.50 L547.94,361.90 L549.15,360.56 L550.36,360.09 L551.58,359.95 L552.79,361.87 L554.00,359.96 L555.21,360.93 L556.42,359.80 L557.63,360.80 L558.84,361.92 L560.05,359.79 L561.26,361.59 L562.47,360.78 L563.68,361.77 L564.90,361.30 L566.11,360.08 L567.32,361.82 L568.53,360.76 L569.74,359.57 L570.95,359.55 L572.16,360.85 L573.37,360.77 L574.58,360.41 L575.79,360.02 L577.01,360.58 L578.22,360.54 L579.43,361.93 L580.64,359.78 L581.85,361.76 L583.06,362.02 L584.27,360.18 L585.48,362.30 L586.69,361.78 L587.90,362.30 L589.12,360.74 L590.33,360.98 L591.54,361.06 L592.75,362.67 L593.96,361.63 L595.17,361.07 L596.38,361.27 L597.59,360.91 L598.80,360.24 L600.01,360.26 L601.23,362.05 L602.44,360.50 L603.65,362.06 L604.86,360.16 L606.07,360.08 L607.28,360.59 L608.49,359.64 L609.70,359.99 L610.91,361.39 L612.12,361.08 L613.34,360.77 L614.55,360.18 L615.76,360.97 L616.97,361.18 L618.18,360.30 L619.39,360.88 L620.60,359.27 L621.81,361.18 L623.02,360.59 L624.24,361.51 L625.45,361.37 L626.66,360.57 L627.87,360.10 L629.08,362.55 L630.29,360.64 L631.50,361.70 L632.71,361.53 L633.92,361.57 L635.13,362.88 L636.35,363.67 L637.56,361.97 L638.77,363.16 L639.98,362.40 L641.19,363.23 L642.40,362.83" stroke="#333" stroke-width="0.6" fill="none" stroke-linejoin="round"/>
<path d="M399.11,348.10 h4.60 v4.60 h-4.60 Z M400.32,351.35 h4.60 v4.60 h-4.60 Z M401.53,350.60 h4.60 v4.60 h-4.60 Z M402.74,350.42 h4.60 v4.60 h-4.60 Z M403.95,350.27 h4.60 v4.60 h-4.60 Z M405.17,352.30 h4.60 v4.60 h-4.60 Z M406.38,352.43 h4.60 v4.60 h-4.60 Z M407.59,351.97 h4.60 v4.60 h-4.60 Z M408.80,351.01 h4.60 v4.60 h-4.60 Z M410.01,350.97 h4.60 v4.60 h-4.60 Z M411.22,351.16 h4.60 v4.60 h-4.60 Z M412.43,351.65 h4.60 v4.60 h-4.60 Z M413.64,350.92 h4.60 v4.60 h-4.60 Z M414.85,351.73 h4.60 v4.60 h-4.60 Z M416.06,351.31 h4.60 v4.60 h-4.60 Z M417.28,353.18 h4.60 v4.60 h-4.60 Z M418.49,353.23 h4.60 v4.60 h-4.60 Z M419.70,352.12 h4.60 v4.60 h-4.60 Z M420.91,351.34 h4.60 v4.60 h-4.60 Z M422.12,353.21 h4.60 v4.60 h-4.60 Z M423.33,351.50 h4.60 v4.60 h-4.60 Z M424.54,351.63 h4.60 v4.60 h-4.60 Z M425.75,350.70 h4.60 v4.60 h-4.60 Z M426.96,351.69 h4.60 v4.60 h-4.60 Z M428.17,351.93 h4.60 v4.60 h-4.60 Z M429.39,352.01 h4.60 v4.60 h-4.60 Z M430.60,351.22 h4.60 v4.60 h-4.60 Z M431.81,352.01 h4.60 v4.60 h-4.60 Z M433.02,350.71 h4.60 v4.60 h-4.60 Z M434.23,351.39 h4.60 v4.60 h-4.60 Z M435.44,350.93 h4.60 v4.60 h-4.60 Z M436.65,351.74 h4.60 v4.60 h-4.60 Z M437.86,350.83 h4.60 v4.60 h-4.60 Z M439.07,350.92 h4.60 v4.60 h-4.60 Z M440.28,351.80 h4.60 v4.60 h-4.60 Z M441.50,351.76 h4.60 v4.60 h-4.60 Z M442.71,352.82 h4.60 v4.60 h-4.60 Z M443.92,352.82 h4.60 v4.60 h-4.60 Z M445.13,353.54 h4.60 v4.60 h-4.60 Z M446.34,353.45 h4.60 v4.60 h-4.60 Z M447.55,353.74 h4.60 v4.60 h-4.60 Z M448.76,354.27 h4.60 v4.60 h-4.60 Z M449.97,353.08 h4.60 v4.60 h-4.60 Z M451.18,353.01 h4.60 v4.60 h-4.60 Z M452.39,354.81 h4.60 v4.60 h-4.60 Z M453.61,352.73 h4.60 v4.60 h-4.60 Z M454.82,354.32 h4.60 v4.60 h-4.60 Z M456.03,354.20 h4.60 v4.60 h-4.60 Z M457.24,352.73 h4.60 v4.60 h-4.60 Z M458.45,354.88 h4.60 v4.60 h-4.60 Z M459.66,355.12 h4.60 v4.60 h-4.60 Z M460.87,354.52 h4.60 v4.60 h-4.60 Z M462.08,354.89 h4.60 v4.60 h-4.60 Z M463.29,355.18 h4.60 v4.60 h-4.60 Z M464.50,353.52 h4.60 v4.60 h-4.60 Z M465.72,354.61 h4.60 v4.60 h-4.60 Z M466.93,354.65 h4.60 v4.60 h-4.60 Z M468.14,355.59 h4.60 v4.60 h-4.60 Z M469.35,355.55 h4.60 v4.60 h-4.60 Z M470.56,355.64 h4.60 v4.60 h-4.60 Z M471.77,355.05 h4.60 v4.60 h-4.60 Z M472.98,355.90 h4.60 v4.60 h-4.60 Z M474.19,355.39 h4.60 v4.60 h-4.60 Z M475.40,355.46 h4.60 v4.60 h-4.60 Z M476.61,354.30 h4.60 v4.60 h-4.60 Z M477.83,353.82 h4.60 v4.60 h-4.60 Z M479.04,354.12 h4.60 v4.60 h-4.60 Z M480.25,354.76 h4.60 v4.60 h-4.60 Z M481.46,354.13 h4.60 v4.60 h-4.60 Z M482.67,356.07 h4.60 v4.60 h-4.60 Z M483.88,355.39 h4.60 v4.60 h-4.60 Z M485.09,355.61 h4.60 v4.60 h-4.60 Z M486.30,355.65 h4.60 v4.60 h-4.60 Z M487.51,355.83 h4.60 v4.60 h-4.60 Z M488.72,355.37 h4.60 v4.60 h-4.60 Z M489.94,354.15 h4.60 v4.60 h-4.60 Z M491.15,356.26 h4.60 v4.60 h-4.60 Z M492.36,356.17 h4.60 v4.60 h-4.60 Z M493.57,355.57 h4.60 v4.60 h-4.60 Z M494.78,355.69 h4.60 v4.60 h-4.60 Z M495.99,356.06 h4.60 v4.60 h-4.60 Z M497.20,354.56 h4.60 v4.60 h-4.60 Z M498.41,356.37 h4.60 v4.60 h-4.60 Z M499.62,355.20 h4.60 v4.60 h-4.60 Z M500.83,354.83 h4.60 v4.60 h-4.60 Z M502.05,355.42 h4.60 v4.60 h-4.60 Z M503.26,356.71 h4.60 v4.60 h-4.60 Z M504.47,355.44 h4.60 v4.60 h-4.60 Z M505.68,356.92 h4.60 v4.60 h-4.60 Z M506.89,357.63 h4.60 v4.60 h-4.60 Z M508.10,356.46 h4.60 v4.60 h-4.60 Z M509.31,356.27 h4.60 v4.60 h-4.60 Z M510.52,356.61 h4.60 v4.60 h-4.60 Z M511.73,357.23 h4.60 v4.60 h-4.60 Z M512.95,357.54 h4.60 v4.60 h-4.60 Z M514.16,357.24 h4.60 v4.60 h-4.60 Z M515.37,357.40 h4.60 v4.60 h-4.60 Z M516.58,356.02 h4.60 v4.60 h-4.60 Z M517.79,356.29 h4.60 v4.60 h-4.60 Z M519.00,356.66 h4.60 v4.60 h-4.60 Z M520.21,358.03 h4.60 v4.60 h-4.60 Z M521.42,356.99 h4.60 v4.60 h-4.60 Z M522.63,357.77 h4.60 v4.60 h-4.60 Z M523.84,356.43 h4.60 v4.60 h-4.60 Z M525.06,356.65 h4.60 v4.60 h-4.60 Z M526.27,357.29 h4.60 v4.60 h-4.60 Z M527.48,358.43 h4.60 v4.60 h-4.60 Z M528.69,358.58 h4.60 v4.60 h-4.60 Z M529.90,358.64 h4.60 v4.60 h-4.60 Z M531.11,357.73 h4.60 v4.60 h-4.60 Z M532.32,358.35 h4.60 v4.60 h-4.60 Z M533.53,358.22 h4.60 v4.60 h-4.60 Z M534.74,358.23 h4.60 v4.60 h-4.60 Z M535.95,357.33 h4.60 v4.60 h-4.60 Z M537.17,359.36 h4.60 v4.60 h-4.60 Z M538.38,357.56 h4.60 v4.60 h-4.60 Z M539.59,359.59 h4.60 v4.60 h-4.60 Z M540.80,359.49 h4.60 v4.60 h-4.60 Z M542.01,357.10 h4.60 v4.60 h-4.60 Z M543.22,358.26 h4.60 v4.60 h-4.60 Z M544.43,359.20 h4.60 v4.60 h-4.60 Z M545.64,359.60 h4.60 v4.60 h-4.60 Z M546.85,358.26 h4.60 v4.60 h-4.60 Z M548.06,357.79 h4.60 v4.60 h-4.60 Z M549.28,357.65 h4.60 v4.60 h-4.60 Z M550.49,359.57 h4.60 v4.60 h-4.60 Z M551.70,357.66 h4.60 v4.60 h-4.60 Z M552.91,358.63 h4.60 v4.60 h-4.60 Z M554.12,357.50 h4.60 v4.60 h-4.60 Z M555.33,358.50 h4.60 v4.60 h-4.60 Z M556.54,359.62 h4.60 v4.60 h-4.60 Z M557.75,357.49 h4.60 v4.60 h-4.60 Z M558.96,359.29 h4.60 v4.60 h-4.60 Z M560.17,358.48 h4.60 v4.60 h-4.60 Z M561.38,359.47 h4.60 v4.60 h-4.60 Z M562.60,359.00 h4.60 v4.60 h-4.60 Z M563.81,357.78 h4.60 v4.60 h-4.60 Z M565.02,359.52 h4.60 v4.60 h-4.60 Z M566.23,358.46 h4.60 v4.60 h-4.60 Z M567.44,357.27 h4.60 v4.60 h-4.60 Z M568.65,357.25 h4.60 v4.60 h-4.60 Z M569.86,358.55 h4.60 v4.60 h-4.60 Z M571.07,358.47 h4.60 v4.60 h-4.60 Z M572.28,358.11 h4.60 v4.60 h-4.60 Z M573.50,357.72 h4.60 v4.60 h-4.60 Z M574.71,358.28 h4.60 v4.60 h-4.60 Z M575.92,358.24 h4.60 v4.60 h-4.60 Z M577.13,359.63 h4.60 v4.60 h-4.60 Z M578.34,357.48 h4.60 v4.60 h-4.60 Z M579.55,359.46 h4.60 v4.60 h-4.60 Z M580.76,359.72 h4.60 v4.60 h-4.60 Z M581.97,357.88 h4.60 v4.60 h-4.60 Z M583.18,360.00 h4.60 v4.60 h-4.60 Z M584.39,359.48 h4.60 v4.60 h-4.60 Z M585.61,360.00 h4.60 v4.60 h-4.60 Z M586.82,358.44 h4.60 v4.60 h-4.60 Z M588.03,358.68 h4.60 v4.60 h-4.60 Z M589.24,358.76 h4.60 v4.60 h-4.60 Z M590.45,360.37 h4.60 v4.60 h-4.60 Z M591.66,359.33 h4.60 v4.60 h-4.60 Z M592.87,358.77 h4.60 v4.60 h-4.60 Z M594.08,358.97 h4.60 v4.60 h-4.60 Z M595.29,358.61 h4.60 v4.60 h-4.60 Z M596.50,357.94 h4.60 v4.60 h-4.60 Z M597.72,357.96 h4.60 v4.60 h-4.60 Z M598.93,359.75 h4.60 v4.60 h-4.60 Z M600.14,358.20 h4.60 v4.60 h-4.60 Z M601.35,359.76 h4.60 v4.60 h-4.60 Z M602.56,357.86 h4.60 v4.60 h-4.60 Z M603.77,357.78 h4.60 v4.60 h-4.60 Z M604.98,358.29 h4.60 v4.60 h-4.60 Z M606.19,357.34 h4.60 v4.60 h-4.60 Z M607.40,357.69 h4.60 v4.60 h-4.60 Z M608.61,359.09 h4.60 v4.60 h-4.60 Z M609.83,358.78 h4.60 v4.60 h-4.60 Z M611.04,358.47 h4.60 v4.60 h-4.60 Z M612.25,357.88 h4.60 v4.60 h-4.60 Z M613.46,358.67 h4.60 v4.60 h-4.60 Z M614.67,358.88 h4.60 v4.60 h-4.60 Z M615.88,358.00 h4.60 v4.60 h-4.60 Z M617.09,358.58 h4.60 v4.60 h-4.60 Z M618.30,356.97 h4.60 v4.60 h-4.60 Z M619.51,358.88 h4.60 v4.60 h-4.60 Z M620.72,358.29 h4.60 v4.60 h-4.60 Z M621.94,359.21 h4.60 v4.60 h-4.60 Z M623.15,359.07 h4.60 v4.60 h-4.60 Z M624.36,358.27 h4.60 v4.60 h-4.60 Z M625.57,357.80 h4.60 v4.60 h-4.60 Z M626.78,360.25 h4.60 v4.60 h-4.60 Z M627.99,358.34 h4.60 v4.60 h-4.60 Z M629.20,359.40 h4.60 v4.60 h-4.60 Z M630.41,359.23 h4.60 v4.60 h-4.60 Z M631.62,359.27 h4.60 v4.60 h-4.60 Z M632.83,360.58 h4.60 v4.60 h-4.60 Z M634.05,361.37 h4.60 v4.60 h-4.60 Z M635.26,359.67 h4.60 v4.60 h-4.60 Z M636.47,360.86 h4.60 v4.60 h-4.60 Z M637.68,360.10 h4.60 v4.60 h-4.60 Z M638.89,360.93 h4.60 v4.60 h-4.60 Z M640.10,360.53 h4.60 v4.60 h-4.60 Z " stroke="#333" stroke-width="0.7" fill="#fff"/>
<path d="M401.41,355.00 L402.62,293.00 L403.83,294.03 L405.04,295.81 L406.25,300.55 L407.47,303.78 L408.68,303.03 L409.89,303.99 L411.10,302.75 L412.31,303.58 L413.52,302.59 L414.73,302.53 L415.94,303.21 L417.15,304.07 L418.37,302.33 L419.58,302.67 L420.79,303.74 L422.00,304.61 L423.21,303.82 L424.42,303.49 L425.63,304.98 L426.84,302.85 L428.05,304.90 L429.26,303.63 L430.47,303.27 L431.69,303.01 L432.90,303.28 L434.11,304.31 L435.32,302.59 L436.53,303.36 L437.74,303.30 L438.95,302.47 L440.16,302.70 L441.37,301.72 L442.58,302.19 L443.80,303.03 L445.01,304.65 L446.22,304.52 L447.43,304.73 L448.64,305.86 L449.85,306.03 L451.06,306.21 L452.27,307.96 L453.48,308.29 L454.69,307.76 L455.91,309.11 L457.12,309.55 L458.33,310.95 L459.54,310.89 L460.75,309.03 L461.96,309.89 L463.17,307.02 L464.38,306.94 L465.59,306.95 L466.81,304.69 L468.02,305.81 L469.23,305.81 L470.44,307.99 L471.65,308.17 L472.86,307.67 L474.07,308.35 L475.28,306.95 L476.49,307.82 L477.70,307.54 L478.91,307.46 L480.13,307.11 L481.34,307.99 L482.55,308.19 L483.76,307.02 L484.97,307.43 L486.18,305.94 L487.39,307.43 L488.60,307.25 L489.81,308.34 L491.02,308.18 L492.24,307.15 L493.45,307.65 L494.66,308.58 L495.87,307.28 L497.08,308.59 L498.29,308.14 L499.50,308.28 L500.71,308.39 L501.92,310.35 L503.13,309.07 L504.35,309.61 L505.56,310.21 L506.77,311.79 L507.98,310.35 L509.19,311.69 L510.40,312.39 L511.61,313.65 L512.82,313.95 L514.03,314.52 L515.25,313.57 L516.46,314.35 L517.67,314.34 L518.88,315.33 L520.09,315.24 L521.30,313.04 L522.51,312.83 L523.72,312.70 L524.93,312.44 L526.14,312.77 L527.36,312.94 L528.57,312.76 L529.78,312.75 L530.99,314.35 L532.20,314.84 L533.41,315.91 L534.62,317.19 L535.83,316.20 L537.04,315.43 L538.25,315.31 L539.47,315.10 L540.68,313.24 L541.89,315.26 L543.10,315.46 L544.31,316.18 L545.52,316.49 L546.73,316.01 L547.94,316.52 L549.15,316.30 L550.36,317.63 L551.58,315.28 L552.79,314.32 L554.00,313.69 L555.21,312.61 L556.42,312.06 L557.63,311.05 L558.84,311.45 L560.05,312.33 L561.26,312.73 L562.47,313.88 L563.68,313.59 L564.90,316.15 L566.11,316.05 L567.32,315.19 L568.53,314.53 L569.74,313.85 L570.95,313.73 L572.16,313.62 L573.37,315.83 L574.58,316.65 L575.79,315.85 L577.01,316.36 L578.22,315.88 L579.43,316.39 L580.64,317.43 L581.85,317.72 L583.06,318.51 L584.27,316.30 L585.48,315.36 L586.69,316.99 L587.90,315.37 L589.12,313.84 L590.33,314.19 L591.54,312.35 L592.75,313.47 L593.96,314.93 L595.17,315.03 L596.38,315.00 L597.59,314.33 L598.80,314.96 L600.01,314.86 L601.23,316.69 L602.44,316.47 L603.65,316.71 L604.86,315.28 L606.07,314.68 L607.28,315.74 L608.49,315.80 L609.70,315.14 L610.91,314.67 L612.12,315.05 L613.34,315.68 L614.55,315.27 L615.76,316.79 L616.97,317.21 L618.18,317.25 L619.39,317.70 L620.60,317.60 L621.81,316.85 L623.02,317.19 L624.24,317.13 L625.45,315.21 L626.66,315.68 L627.87,315.11 L629.08,315.13 L630.29,314.02 L631.50,313.97 L632.71,314.29 L633.92,314.52 L635.13,314.84 L636.35,316.14 L637.56,317.11 L638.77,317.26 L639.98,316.70 L641.19,317.37 L642.40,317.72" stroke="#ef4b4b" stroke-width="0.6" fill="none" stroke-linejoin="round"/>
<circle cx="401.41" cy="355.00" r="2.30" stroke="#ef4b4b" stroke-width="0.6" fill="#fff"/>
<circle cx="402.62" cy="293.00" r="2.30" stroke="#ef4b4b" stroke-width="0.6" fill="#fff"/>
<circle cx="403.83" cy="294.03" r="2.30" stroke="#ef4b4b" stroke-width="0.6" fill="#fff"/>
<circle cx="405.04" cy="295.81" r="2.30" stroke="#ef4b4b" stroke-width="0.6" fill="#fff"/>
<circle cx="406.25" cy="300.55" r="2.30" stroke="#ef4b4b" stroke-width="0.6" fill="#fff"/>
<circle cx="407.47" cy="303.78" r="2.30" stroke="#ef4b4b" stroke-width="0.6" fill="#fff"/>
<circle cx="408.68" cy="303.03" r="2.30" stroke="#ef4b4b" stroke-width="0.6" fill="#fff"/>
<circle cx="409.89" cy="303.99" r="2.30" stroke="#ef4b4b" stroke-width="0.6" fill="#fff"/>
<circle cx="411.10" cy="302.75" r="2.30" stroke="#ef4b4b" stroke-width="0.6" fill="#fff"/>
<circle cx="412.31" cy="303.58" r="2.30" stroke="#ef4b4b" stroke-width="0.6" fill="#fff"/>
<circle cx="413.52" cy="302.59" r="2.30" stroke="#ef4b4b" stroke-width="0.6" fill="#fff"/>
<circle cx="414.73" cy="302.53" r="2.30" stroke="#ef4b4b" stroke-width="0.6" fill="#fff"/>
<circle cx="415.94" cy="303.21" r="2.30" stroke="#ef4b4b" stroke-width="0.6" fill="#fff"/>
<circle cx="417.15" cy="304.07" r="2.30" stroke="#ef4b4b" stroke-width="0.6" fill="#fff"/>
<circle cx="418.37" cy="302.33" r="2.30" stroke="#ef4b4b" stroke-width="0.6" fill="#fff"/>
<circle cx="419.58" cy="302.67" r="2.30" stroke="#ef4b4b" stroke-width="0.6" fill="#fff"/>
<circle cx="420.79" cy="303.74" r="2.30" stroke="#ef4b4b" stroke-width="0.6" fill="#fff"/>
<circle cx="422.00" cy="304.61" r="2.30" stroke="#ef4b4b" stroke-width="0.6" fill="#fff"/>
<circle cx="423.21" cy="303.82" r="2.30" stroke="#ef4b4b" stroke-width="0.6" fill="#fff"/>
<circle cx="424.42" cy="303.49" r="2.30" stroke="#ef4b4b" stroke-width="0.6" fill="#fff"/>
<circle cx="425.63" cy="304.98" r="2.30" stroke="#ef4b4b" stroke-width="0.6" fill="#fff"/>
<circle cx="426.84" cy="302.85" r="2.30" stroke="#ef4b4b" stroke-width="0.6" fill="#fff"/>
<circle cx="428.05" cy="304.90" r="2.30" stroke="#ef4b4b" stroke-width="0.6" fill="#fff"/>
<circle cx="429.26" cy="303.63" r="2.30" stroke="#ef4b4b" stroke-width="0.6" fill="#fff"/>
<circle cx="430.47" cy="303.27" r="2.30" stroke="#ef4b4b" stroke-width="0.6" fill="#fff"/>
<circle cx="431.69" cy="303.01" r="2.30" stroke="#ef4b4b" stroke-width="0.6" fill="#fff"/>
<circle cx="432.90" cy="303.28" r="2.30" stroke="#ef4b4b" stroke-width="0.6" fill="#fff"/>
<circle cx="434.11" cy="304.31" r="2.30" stroke="#ef4b4b" stroke-width="0.6" fill="#fff"/>
<circle cx="435.32" cy="302.59" r="2.30" stroke="#ef4b4b" stroke-width="0.6" fill="#fff"/>
<circle cx="436.53" cy="303.36" r="2.30" stroke="#ef4b4b" stroke-width="0.6" fill="#fff"/>
<circle cx="437.74" cy="303.30" r="2.30" stroke="#ef4b4b" stroke-width="0.6" fill="#fff"/>
<circle cx="438.95" cy="302.47" r="2.30" stroke="#ef4b4b" stroke-width="0.6" fill="#fff"/>
<circle cx="440.16" cy="302.70" r="2.30" stroke="#ef4b4b" stroke-width="0.6" fill="#fff"/>
<circle cx="441.37" cy="301.72" r="2.30" stroke="#ef4b4b" stroke-width="0.6" fill="#fff"/>
<circle cx="442.58" cy="302.19" r="2.30" stroke="#ef4b4b" stroke-width="0.6" fill="#fff"/>
<circle cx="443.80" cy="303.03" r="2.30" stroke="#ef4b4b" stroke-width="0.6" fill="#fff"/>
<circle cx="445.01" cy="304.65" r="2.30" stroke="#ef4b4b" stroke-width="0.6" fill="#fff"/>
<circle cx="446.22" cy="304.52" r="2.30" stroke="#ef4b4b" stroke-width="0.6" fill="#fff"/>
<circle cx="447.43" cy="304.73" r="2.30" stroke="#ef4b4b" stroke-width="0.6" fill="#fff"/>
<circle cx="448.64" cy="305.86" r="2.30" stroke="#ef4b4b" stroke-width="0.6" fill="#fff"/>
<circle cx="449.85" cy="306.03" r="2.30" stroke="#ef4b4b" stroke-width="0.6" fill="#fff"/>
<circle cx="451.06" cy="306.21" r="2.30" stroke="#ef4b4b" stroke-width="0.6" fill="#fff"/>
<circle cx="452.27" cy="307.96" r="2.30" stroke="#ef4b4b" stroke-width="0.6" fill="#fff"/>
<circle cx="453.48" cy="308.29" r="2.30" stroke="#ef4b4b" stroke-width="0.6" fill="#fff"/>
<circle cx="454.69" cy="307.76" r="2.30" stroke="#ef4b4b" stroke-width="0.6" fill="#fff"/>
<circle cx="455.91" cy="309.11" r="2.30" stroke="#ef4b4b" stroke-width="0.6" fill="#fff"/>
<circle cx="457.12" cy="309.55" r="2.30" stroke="#ef4b4b" stroke-width="0.6" fill="#fff"/>
<circle cx="458.33" cy="310.95" r="2.30" stroke="#ef4b4b" stroke-width="0.6" fill="#fff"/>
<circle cx="459.54" cy="310.89" r="2.30" stroke="#ef4b4b" stroke-width="0.6" fill="#fff"/>
<circle cx="460.75" cy="309.03" r="2.30" stroke="#ef4b4b" stroke-width="0.6" fill="#fff"/>
<circle cx="461.96" cy="309.89" r="2.30" stroke="#ef4b4b" stroke-width="0.6" fill="#fff"/>
<circle cx="463.17" cy="307.02" r="2.30" stroke="#ef4b4b" stroke-width="0.6" fill="#fff"/>
<circle cx="464.38" cy="306.94" r="2.30" stroke="#ef4b4b" stroke-width="0.6" fill="#fff"/>
<circle cx="465.59" cy="306.95" r="2.30" stroke="#ef4b4b" stroke-width="0.6" fill="#fff"/>
<circle cx="466.81" cy="304.69" r="2.30" stroke="#ef4b4b" stroke-width="0.6" fill="#fff"/>
<circle cx="468.02" cy="305.81" r="2.30" stroke="#ef4b4b" stroke-width="0.6" fill="#fff"/>
<circle cx="469.23" cy="305.81" r="2.30" stroke="#ef4b4b" stroke-width="0.6" fill="#fff"/>
<circle cx="470.44" cy="307.99" r="2.30" stroke="#ef4b4b" stroke-width="0.6" fill="#fff"/>
<circle cx="471.65" cy="308.17" r="2.30" stroke="#ef4b4b" stroke-width="0.6" fill="#fff"/>
<circle cx="472.86" cy="307.67" r="2.30" stroke="#ef4b4b" stroke-width="0.6" fill="#fff"/>
<circle cx="474.07" cy="308.35" r="2.30" stroke="#ef4b4b" stroke-width="0.6" fill="#fff"/>
<circle cx="475.28" cy="306.95" r="2.30" stroke="#ef4b4b" stroke-width="0.6" fill="#fff"/>
<circle cx="476.49" cy="307.82" r="2.30" stroke="#ef4b4b" stroke-width="0.6" fill="#fff"/>
<circle cx="477.70" cy="307.54" r="2.30" stroke="#ef4b4b" stroke-width="0.6" fill="#fff"/>
<circle cx="478.91" cy="307.46" r="2.30" stroke="#ef4b4b" stroke-width="0.6" fill="#fff"/>
<circle cx="480.13" cy="307.11" r="2.30" stroke="#ef4b4b" stroke-width="0.6" fill="#fff"/>
<circle cx="481.34" cy="307.99" r="2.30" stroke="#ef4b4b" stroke-width="0.6" fill="#fff"/>
<circle cx="482.55" cy="308.19" r="2.30" stroke="#ef4b4b" stroke-width="0.6" fill="#fff"/>
<circle cx="483.76" cy="307.02" r="2.30" stroke="#ef4b4b" stroke-width="0.6" fill="#fff"/>
<circle cx="484.97" cy="307.43" r="2.30" stroke="#ef4b4b" stroke-width="0.6" fill="#fff"/>
<circle cx="486.18" cy="305.94" r="2.30" stroke="#ef4b4b" stroke-width="0.6" fill="#fff"/>
<circle cx="487.39" cy="307.43" r="2.30" stroke="#ef4b4b" stroke-width="0.6" fill="#fff"/>
<circle cx="488.60" cy="307.25" r="2.30" stroke="#ef4b4b" stroke-width="0.6" fill="#fff"/>
<circle cx="489.81" cy="308.34" r="2.30" stroke="#ef4b4b" stroke-width="0.6" fill="#fff"/>
<circle cx="491.02" cy="308.18" r="2.30" stroke="#ef4b4b" stroke-width="0.6" fill="#fff"/>
<circle cx="492.24" cy="307.15" r="2.30" stroke="#ef4b4b" stroke-width="0.6" fill="#fff"/>
<circle cx="493.45" cy="307.65" r="2.30" stroke="#ef4b4b" stroke-width="0.6" fill="#fff"/>
<circle cx="494.66" cy="308.58" r="2.30" stroke="#ef4b4b" stroke-width="0.6" fill="#fff"/>
<circle cx="495.87" cy="307.28" r="2.30" stroke="#ef4b4b" stroke-width="0.6" fill="#fff"/>
<circle cx="497.08" cy="308.59" r="2.30" stroke="#ef4b4b" stroke-width="0.6" fill="#fff"/>
<circle cx="498.29" cy="308.14" r="2.30" stroke="#ef4b4b" stroke-width="0.6" fill="#fff"/>
<circle cx="499.50" cy="308.28" r="2.30" stroke="#ef4b4b" stroke-width="0.6" fill="#fff"/>
<circle cx="500.71" cy="308.39" r="2.30" stroke="#ef4b4b" stroke-width="0.6" fill="#fff"/>
<circle cx="501.92" cy="310.35" r="2.30" stroke="#ef4b4b" stroke-width="0.6" fill="#fff"/>
<circle cx="503.13" cy="309.07" r="2.30" stroke="#ef4b4b" stroke-width="0.6" fill="#fff"/>
<circle cx="504.35" cy="309.61" r="2.30" stroke="#ef4b4b" stroke-width="0.6" fill="#fff"/>
<circle cx="505.56" cy="310.21" r="2.30" stroke="#ef4b4b" stroke-width="0.6" fill="#fff"/>
<circle cx="506.77" cy="311.79" r="2.30" stroke="#ef4b4b" stroke-width="0.6" fill="#fff"/>
<circle cx="507.98" cy="310.35" r="2.30" stroke="#ef4b4b" stroke-width="0.6" fill="#fff"/>
<circle cx="509.19" cy="311.69" r="2.30" stroke="#ef4b4b" stroke-width="0.6" fill="#fff"/>
<circle cx="510.40" cy="312.39" r="2.30" stroke="#ef4b4b" stroke-width="0.6" fill="#fff"/>
<circle cx="511.61" cy="313.65" r="2.30" stroke="#ef4b4b" stroke-width="0.6" fill="#fff"/>
<circle cx="512.82" cy="313.95" r="2.30" stroke="#ef4b4b" stroke-width="0.6" fill="#fff"/>
<circle cx="514.03" cy="314.52" r="2.30" stroke="#ef4b4b" stroke-width="0.6" fill="#fff"/>
<circle cx="515.25" cy="313.57" r="2.30" stroke="#ef4b4b" stroke-width="0.6" fill="#fff"/>
<circle cx="516.46" cy="314.35" r="2.30" stroke="#ef4b4b" stroke-width="0.6" fill="#fff"/>
<circle cx="517.67" cy="314.34" r="2.30" stroke="#ef4b4b" stroke-width="0.6" fill="#fff"/>
<circle cx="518.88" cy="315.33" r="2.30" stroke="#ef4b4b" stroke-width="0.6" fill="#fff"/>
<circle cx="520.09" cy="315.24" r="2.30" stroke="#ef4b4b" stroke-width="0.6" fill="#fff"/>
<circle cx="521.30" cy="313.04" r="2.30" stroke="#ef4b4b" stroke-width="0.6" fill="#fff"/>
<circle cx="522.51" cy="312.83" r="2.30" stroke="#ef4b4b" stroke-width="0.6" fill="#fff"/>
<circle cx="523.72" cy="312.70" r="2.30" stroke="#ef4b4b" stroke-width="0.6" fill="#fff"/>
<circle cx="524.93" cy="312.44" r="2.30" stroke="#ef4b4b" stroke-width="0.6" fill="#fff"/>
<circle cx="526.14" cy="312.77" r="2.30" stroke="#ef4b4b" stroke-width="0.6" fill="#fff"/>
<circle cx="527.36" cy="312.94" r="2.30" stroke="#ef4b4b" stroke-width="0.6" fill="#fff"/>
<circle cx="528.57" cy="312.76" r="2.30" stroke="#ef4b4b" stroke-width="0.6" fill="#fff"/>
<circle cx="529.78" cy="312.75" r="2.30" stroke="#ef4b4b" stroke-width="0.6" fill="#fff"/>
<circle cx="530.99" cy="314.35" r="2.30" stroke="#ef4b4b" stroke-width="0.6" fill="#fff"/>
<circle cx="532.20" cy="314.84" r="2.30" stroke="#ef4b4b" stroke-width="0.6" fill="#fff"/>
<circle cx="533.41" cy="315.91" r="2.30" stroke="#ef4b4b" stroke-width="0.6" fill="#fff"/>
<circle cx="534.62" cy="317.19" r="2.30" stroke="#ef4b4b" stroke-width="0.6" fill="#fff"/>
<circle cx="535.83" cy="316.20" r="2.30" stroke="#ef4b4b" stroke-width="0.6" fill="#fff"/>
<circle cx="537.04" cy="315.43" r="2.30" stroke="#ef4b4b" stroke-width="0.6" fill="#fff"/>
<circle cx="538.25" cy="315.31" r="2.30" stroke="#ef4b4b" stroke-width="0.6" fill="#fff"/>
<circle cx="539.47" cy="315.10" r="2.30" stroke="#ef4b4b" stroke-width="0.6" fill="#fff"/>
<circle cx="540.68" cy="313.24" r="2.30" stroke="#ef4b4b" stroke-width="0.6" fill="#fff"/>
<circle cx="541.89" cy="315.26" r="2.30" stroke="#ef4b4b" stroke-width="0.6" fill="#fff"/>
<circle cx="543.10" cy="315.46" r="2.30" stroke="#ef4b4b" stroke-width="0.6" fill="#fff"/>
<circle cx="544.31" cy="316.18" r="2.30" stroke="#ef4b4b" stroke-width="0.6" fill="#fff"/>
<circle cx="545.52" cy="316.49" r="2.30" stroke="#ef4b4b" stroke-width="0.6" fill="#fff"/>
<circle cx="546.73" cy="316.01" r="2.30" stroke="#ef4b4b" stroke-width="0.6" fill="#fff"/>
<circle cx="547.94" cy="316.52" r="2.30" stroke="#ef4b4b" stroke-width="0.6" fill="#fff"/>
<circle cx="549.15" cy="316.30" r="2.30" stroke="#ef4b4b" stroke-width="0.6" fill="#fff"/>
<circle cx="550.36" cy="317.63" r="2.30" stroke="#ef4b4b" stroke-width="0.6" fill="#fff"/>
<circle cx="551.58" cy="315.28" r="2.30" stroke="#ef4b4b" stroke-width="0.6" fill="#fff"/>
<circle cx="552.79" cy="314.32" r="2.30" stroke="#ef4b4b" stroke-width="0.6" fill="#fff"/>
<circle cx="554.00" cy="313.69" r="2.30" stroke="#ef4b4b" stroke-width="0.6" fill="#fff"/>
<circle cx="555.21" cy="312.61" r="2.30" stroke="#ef4b4b" stroke-width="0.6" fill="#fff"/>
<circle cx="556.42" cy="312.06" r="2.30" stroke="#ef4b4b" stroke-width="0.6" fill="#fff"/>
<circle cx="557.63" cy="311.05" r="2.30" stroke="#ef4b4b" stroke-width="0.6" fill="#fff"/>
<circle cx="558.84" cy="311.45" r="2.30" stroke="#ef4b4b" stroke-width="0.6" fill="#fff"/>
<circle cx="560.05" cy="312.33" r="2.30" stroke="#ef4b4b" stroke-width="0.6" fill="#fff"/>
<circle cx="561.26" cy="312.73" r="2.30" stroke="#ef4b4b" stroke-width="0.6" fill="#fff"/>
<circle cx="562.47" cy="313.88" r="2.30" stroke="#ef4b4b" stroke-width="0.6" fill="#fff"/>
<circle cx="563.68" cy="313.59" r="2.30" stroke="#ef4b4b" stroke-width="0.6" fill="#fff"/>
<circle cx="564.90" cy="316.15" r="2.30" stroke="#ef4b4b" stroke-width="0.6" fill="#fff"/>
<circle cx="566.11" cy="316.05" r="2.30" stroke="#ef4b4b" stroke-width="0.6" fill="#fff"/>
<circle cx="567.32" cy="315.19" r="2.30" stroke="#ef4b4b" stroke-width="0.6" fill="#fff"/>
<circle cx="568.53" cy="314.53" r="2.30" stroke="#ef4b4b" stroke-width="0.6" fill="#fff"/>
<circle cx="569.74" cy="313.85" r="2.30" stroke="#ef4b4b" stroke-width="0.6" fill="#fff"/>
<circle cx="570.95" cy="313.73" r="2.30" stroke="#ef4b4b" stroke-width="0.6" fill="#fff"/>
<circle cx="572.16" cy="313.62" r="2.30" stroke="#ef4b4b" stroke-width="0.6" fill="#fff"/>
<circle cx="573.37" cy="315.83" r="2.30" stroke="#ef4b4b" stroke-width="0.6" fill="#fff"/>
<circle cx="574.58" cy="316.65" r="2.30" stroke="#ef4b4b" stroke-width="0.6" fill="#fff"/>
<circle cx="575.79" cy="315.85" r="2.30" stroke="#ef4b4b" stroke-width="0.6" fill="#fff"/>
<circle cx="577.01" cy="316.36" r="2.30" stroke="#ef4b4b" stroke-width="0.6" fill="#fff"/>
<circle cx="578.22" cy="315.88" r="2.30" stroke="#ef4b4b" stroke-width="0.6" fill="#fff"/>
<circle cx="579.43" cy="316.39" r="2.30" stroke="#ef4b4b" stroke-width="0.6" fill="#fff"/>
<circle cx="580.64" cy="317.43" r="2.30" stroke="#ef4b4b" stroke-width="0.6" fill="#fff"/>
<circle cx="581.85" cy="317.72" r="2.30" stroke="#ef4b4b" stroke-width="0.6" fill="#fff"/>
<circle cx="583.06" cy="318.51" r="2.30" stroke="#ef4b4b" stroke-width="0.6" fill="#fff"/>
<circle cx="584.27" cy="316.30" r="2.30" stroke="#ef4b4b" stroke-width="0.6" fill="#fff"/>
<circle cx="585.48" cy="315.36" r="2.30" stroke="#ef4b4b" stroke-width="0.6" fill="#fff"/>
<circle cx="586.69" cy="316.99" r="2.30" stroke="#ef4b4b" stroke-width="0.6" fill="#fff"/>
<circle cx="587.90" cy="315.37" r="2.30" stroke="#ef4b4b" stroke-width="0.6" fill="#fff"/>
<circle cx="589.12" cy="313.84" r="2.30" stroke="#ef4b4b" stroke-width="0.6" fill="#fff"/>
<circle cx="590.33" cy="314.19" r="2.30" stroke="#ef4b4b" stroke-width="0.6" fill="#fff"/>
<circle cx="591.54" cy="312.35" r="2.30" stroke="#ef4b4b" stroke-width="0.6" fill="#fff"/>
<circle cx="592.75" cy="313.47" r="2.30" stroke="#ef4b4b" stroke-width="0.6" fill="#fff"/>
<circle cx="593.96" cy="314.93" r="2.30" stroke="#ef4b4b" stroke-width="0.6" fill="#fff"/>
<circle cx="595.17" cy="315.03" r="2.30" stroke="#ef4b4b" stroke-width="0.6" fill="#fff"/>
<circle cx="596.38" cy="315.00" r="2.30" stroke="#ef4b4b" stroke-width="0.6" fill="#fff"/>
<circle cx="597.59" cy="314.33" r="2.30" stroke="#ef4b4b" stroke-width="0.6" fill="#fff"/>
<circle cx="598.80" cy="314.96" r="2.30" stroke="#ef4b4b" stroke-width="0.6" fill="#fff"/>
<circle cx="600.01" cy="314.86" r="2.30" stroke="#ef4b4b" stroke-width="0.6" fill="#fff"/>
<circle cx="601.23" cy="316.69" r="2.30" stroke="#ef4b4b" stroke-width="0.6" fill="#fff"/>
<circle cx="602.44" cy="316.47" r="2.30" stroke="#ef4b4b" stroke-width="0.6" fill="#fff"/>
<circle cx="603.65" cy="316.71" r="2.30" stroke="#ef4b4b" stroke-width="0.6" fill="#fff"/>
<circle cx="604.86" cy="315.28" r="2.30" stroke="#ef4b4b" stroke-width="0.6" fill="#fff"/>
<circle cx="606.07" cy="314.68" r="2.30" stroke="#ef4b4b" stroke-width="0.6" fill="#fff"/>
<circle cx="607.28" cy="315.74" r="2.30" stroke="#ef4b4b" stroke-width="0.6" fill="#fff"/>
<circle cx="608.49" cy="315.80" r="2.30" stroke="#ef4b4b" stroke-width="0.6" fill="#fff"/>
<circle cx="609.70" cy="315.14" r="2.30" stroke="#ef4b4b" stroke-width="0.6" fill="#fff"/>
<circle cx="610.91" cy="314.67" r="2.30" stroke="#ef4b4b" stroke-width="0.6" fill="#fff"/>
<circle cx="612.12" cy="315.05" r="2.30" stroke="#ef4b4b" stroke-width="0.6" fill="#fff"/>
<circle cx="613.34" cy="315.68" r="2.30" stroke="#ef4b4b" stroke-width="0.6" fill="#fff"/>
<circle cx="614.55" cy="315.27" r="2.30" stroke="#ef4b4b" stroke-width="0.6" fill="#fff"/>
<circle cx="615.76" cy="316.79" r="2.30" stroke="#ef4b4b" stroke-width="0.6" fill="#fff"/>
<circle cx="616.97" cy="317.21" r="2.30" stroke="#ef4b4b" stroke-width="0.6" fill="#fff"/>
<circle cx="618.18" cy="317.25" r="2.30" stroke="#ef4b4b" stroke-width="0.6" fill="#fff"/>
<circle cx="619.39" cy="317.70" r="2.30" stroke="#ef4b4b" stroke-width="0.6" fill="#fff"/>
<circle cx="620.60" cy="317.60" r="2.30" stroke="#ef4b4b" stroke-width="0.6" fill="#fff"/>
<circle cx="621.81" cy="316.85" r="2.30" stroke="#ef4b4b" stroke-width="0.6" fill="#fff"/>
<circle cx="623.02" cy="317.19" r="2.30" stroke="#ef4b4b" stroke-width="0.6" fill="#fff"/>
<circle cx="624.24" cy="317.13" r="2.30" stroke="#ef4b4b" stroke-width="0.6" fill="#fff"/>
<circle cx="625.45" cy="315.21" r="2.30" stroke="#ef4b4b" stroke-width="0.6" fill="#fff"/>
<circle cx="626.66" cy="315.68" r="2.30" stroke="#ef4b4b" stroke-width="0.6" fill="#fff"/>
<circle cx="627.87" cy="315.11" r="2.30" stroke="#ef4b4b" stroke-width="0.6" fill="#fff"/>
<circle cx="629.08" cy="315.13" r="2.30" stroke="#ef4b4b" stroke-width="0.6" fill="#fff"/>
<circle cx="630.29" cy="314.02" r="2.30" stroke="#ef4b4b" stroke-width="0.6" fill="#fff"/>
<circle cx="631.50" cy="313.97" r="2.30" stroke="#ef4b4b" stroke-width="0.6" fill="#fff"/>
<circle cx="632.71" cy="314.29" r="2.30" stroke="#ef4b4b" stroke-width="0.6" fill="#fff"/>
<circle cx="633.92" cy="314.52" r="2.30" stroke="#ef4b4b" stroke-width="0.6" fill="#fff"/>
<circle cx="635.13" cy="314.84" r="2.30" stroke="#ef4b4b" stroke-width="0.6" fill="#fff"/>
<circle cx="636.35" cy="316.14" r="2.30" stroke="#ef4b4b" stroke-width="0.6" fill="#fff"/>
<circle cx="637.56" cy="317.11" r="2.30" stroke="#ef4b4b" stroke-width="0.6" fill="#fff"/>
<circle cx="638.77" cy="317.26" r="2.30" stroke="#ef4b4b" stroke-width="0.6" fill="#fff"/>
<circle cx="639.98" cy="316.70" r="2.30" stroke="#ef4b4b" stroke-width="0.6" fill="#fff"/>
<circle cx="641.19" cy="317.37" r="2.30" stroke="#ef4b4b" stroke-width="0.6" fill="#fff"/>
<circle cx="642.40" cy="317.72" r="2.30" stroke="#ef4b4b" stroke-width="0.6" fill="#fff"/>
<path d="M401.41,320.96 L402.62,317.37 L403.83,316.96 L405.04,315.66 L406.25,315.22 L407.47,314.21 L408.68,313.19 L409.89,314.37 L411.10,312.97 L412.31,313.80 L413.52,313.92 L414.73,312.24 L415.94,311.96 L417.15,312.98 L418.37,312.26 L419.58,310.98 L420.79,310.93 L422.00,311.04 L423.21,312.91 L424.42,312.73 L425.63,311.20 L426.84,312.88 L428.05,313.31 L429.26,312.59 L430.47,311.90 L431.69,312.66 L432.90,312.43 L434.11,312.93 L435.32,316.00 L436.53,316.00 L437.74,316.48 L438.95,318.22 L440.16,317.80 L441.37,318.69 L442.58,317.67 L443.80,315.28 L445.01,314.47 L446.22,313.66 L447.43,312.63 L448.64,312.55 L449.85,312.30 L451.06,313.30 L452.27,313.22 L453.48,315.70 L454.69,314.98 L455.91,315.84 L457.12,316.75 L458.33,317.90 L459.54,316.48 L460.75,317.41 L461.96,316.15 L463.17,315.96 L464.38,315.68 L465.59,314.21 L466.81,314.96 L468.02,314.88 L469.23,315.52 L470.44,318.05 L471.65,316.35 L472.86,316.87 L474.07,317.28 L475.28,317.93 L476.49,318.72 L477.70,320.53 L478.91,321.97 L480.13,323.86 L481.34,323.58 L482.55,324.16 L483.76,322.80 L484.97,322.25 L486.18,322.82 L487.39,321.95 L488.60,323.04 L489.81,324.47 L491.02,325.80 L492.24,325.63 L493.45,326.99 L494.66,327.24 L495.87,326.66 L497.08,326.50 L498.29,325.33 L499.50,324.92 L500.71,324.98 L501.92,326.82 L503.13,326.98 L504.35,328.14 L505.56,329.03 L506.77,328.12 L507.98,328.16 L509.19,327.87 L510.40,326.41 L511.61,323.90 L512.82,324.82 L514.03,326.55 L515.25,326.62 L516.46,327.98 L517.67,328.54 L518.88,330.50 L520.09,329.86 L521.30,329.22 L522.51,326.52 L523.72,326.95 L524.93,326.71 L526.14,326.08 L527.36,328.47 L528.57,329.29 L529.78,328.11 L530.99,328.98 L532.20,326.42 L533.41,325.40 L534.62,325.37 L535.83,324.00 L537.04,323.30 L538.25,324.86 L539.47,325.98 L540.68,326.47 L541.89,326.30 L543.10,325.68 L544.31,325.74 L545.52,323.14 L546.73,323.51 L547.94,323.80 L549.15,324.00 L550.36,325.96 L551.58,327.87 L552.79,328.82 L554.00,327.33 L555.21,328.96 L556.42,327.91 L557.63,327.77 L558.84,325.11 L560.05,324.97 L561.26,325.08 L562.47,327.52 L563.68,326.96 L564.90,327.28 L566.11,328.64 L567.32,330.48 L568.53,330.23 L569.74,328.53 L570.95,327.92 L572.16,329.42 L573.37,328.23 L574.58,328.19 L575.79,326.38 L577.01,325.91 L578.22,326.91 L579.43,325.77 L580.64,324.41 L581.85,325.98 L583.06,324.74 L584.27,324.63 L585.48,322.39 L586.69,324.21 L587.90,322.39 L589.12,324.37 L590.33,323.46 L591.54,323.25 L592.75,323.84 L593.96,324.81 L595.17,323.29 L596.38,323.12 L597.59,324.41 L598.80,324.06 L600.01,324.09 L601.23,324.56 L602.44,324.63 L603.65,325.34 L604.86,325.94 L606.07,326.27 L607.28,327.72 L608.49,326.95 L609.70,327.82 L610.91,327.40 L612.12,328.17 L613.34,327.74 L614.55,328.66 L615.76,328.45 L616.97,330.53 L618.18,330.46 L619.39,329.95 L620.60,330.99 L621.81,332.66 L623.02,331.39 L624.24,333.82 L625.45,333.61 L626.66,334.47 L627.87,336.01 L629.08,335.66 L630.29,336.65 L631.50,337.88 L632.71,339.38 L633.92,338.65 L635.13,340.62 L636.35,341.12 L637.56,341.75 L638.77,341.99 L639.98,342.53 L641.19,341.83 L642.40,342.01" stroke="#3760b8" stroke-width="0.6" fill="none" stroke-linejoin="round"/>
<path d="M401.41,318.36 L403.91,322.69 L398.91,322.69 Z M402.62,314.77 L405.12,319.10 L400.12,319.10 Z M403.83,314.36 L406.33,318.69 L401.33,318.69 Z M405.04,313.07 L407.54,317.40 L402.54,317.40 Z M406.25,312.62 L408.75,316.95 L403.75,316.95 Z M407.47,311.61 L409.97,315.94 L404.97,315.94 Z M408.68,310.60 L411.18,314.93 L406.18,314.93 Z M409.89,311.77 L412.39,316.10 L407.39,316.10 Z M411.10,310.38 L413.60,314.71 L408.60,314.71 Z M412.31,311.21 L414.81,315.54 L409.81,315.54 Z M413.52,311.32 L416.02,315.65 L411.02,315.65 Z M414.73,309.65 L417.23,313.98 L412.23,313.98 Z M415.94,309.37 L418.44,313.70 L413.44,313.70 Z M417.15,310.38 L419.65,314.71 L414.65,314.71 Z M418.37,309.66 L420.87,313.99 L415.87,313.99 Z M419.58,308.38 L422.08,312.71 L417.08,312.71 Z M420.79,308.33 L423.29,312.66 L418.29,312.66 Z M422.00,308.45 L424.50,312.78 L419.50,312.78 Z M423.21,310.31 L425.71,314.64 L420.71,314.64 Z M424.42,310.13 L426.92,314.46 L421.92,314.46 Z M425.63,308.60 L428.13,312.93 L423.13,312.93 Z M426.84,310.28 L429.34,314.61 L424.34,314.61 Z M428.05,310.71 L430.55,315.04 L425.55,315.04 Z M429.26,309.99 L431.76,314.32 L426.76,314.32 Z M430.47,309.31 L432.97,313.64 L427.97,313.64 Z M431.69,310.07 L434.19,314.40 L429.19,314.40 Z M432.90,309.84 L435.40,314.17 L430.40,314.17 Z M434.11,310.33 L436.61,314.66 L431.61,314.66 Z M435.32,313.40 L437.82,317.73 L432.82,317.73 Z M436.53,313.40 L439.03,317.73 L434.03,317.73 Z M437.74,313.88 L440.24,318.21 L435.24,318.21 Z M438.95,315.63 L441.45,319.96 L436.45,319.96 Z M440.16,315.20 L442.66,319.53 L437.66,319.53 Z M441.37,316.09 L443.87,320.42 L438.87,320.42 Z M442.58,315.07 L445.08,319.40 L440.08,319.40 Z M443.80,312.69 L446.30,317.02 L441.30,317.02 Z M445.01,311.88 L447.51,316.21 L442.51,316.21 Z M446.22,311.07 L448.72,315.40 L443.72,315.40 Z M447.43,310.03 L449.93,314.36 L444.93,314.36 Z M448.64,309.95 L451.14,314.28 L446.14,314.28 Z M449.85,309.71 L452.35,314.04 L447.35,314.04 Z M451.06,310.70 L453.56,315.03 L448.56,315.03 Z M452.27,310.62 L454.77,314.95 L449.77,314.95 Z M453.48,313.10 L455.98,317.43 L450.98,317.43 Z M454.69,312.38 L457.19,316.71 L452.19,316.71 Z M455.91,313.24 L458.41,317.57 L453.41,317.57 Z M457.12,314.16 L459.62,318.49 L454.62,318.49 Z M458.33,315.30 L460.83,319.63 L455.83,319.63 Z M459.54,313.88 L462.04,318.21 L457.04,318.21 Z M460.75,314.81 L463.25,319.14 L458.25,319.14 Z M461.96,313.55 L464.46,317.88 L459.46,317.88 Z M463.17,313.37 L465.67,317.70 L460.67,317.70 Z M464.38,313.09 L466.88,317.42 L461.88,317.42 Z M465.59,311.61 L468.09,315.94 L463.09,315.94 Z M466.81,312.36 L469.31,316.69 L464.31,316.69 Z M468.02,312.28 L470.52,316.61 L465.52,316.61 Z M469.23,312.92 L471.73,317.25 L466.73,317.25 Z M470.44,315.45 L472.94,319.78 L467.94,319.78 Z M471.65,313.75 L474.15,318.08 L469.15,318.08 Z M472.86,314.27 L475.36,318.60 L470.36,318.60 Z M474.07,314.68 L476.57,319.01 L471.57,319.01 Z M475.28,315.33 L477.78,319.66 L472.78,319.66 Z M476.49,316.12 L478.99,320.45 L473.99,320.45 Z M477.70,317.93 L480.20,322.26 L475.20,322.26 Z M478.91,319.37 L481.41,323.70 L476.41,323.70 Z M480.13,321.27 L482.63,325.60 L477.63,325.60 Z M481.34,320.99 L483.84,325.32 L478.84,325.32 Z M482.55,321.56 L485.05,325.89 L480.05,325.89 Z M483.76,320.20 L486.26,324.53 L481.26,324.53 Z M484.97,319.65 L487.47,323.98 L482.47,323.98 Z M486.18,320.22 L488.68,324.55 L483.68,324.55 Z M487.39,319.35 L489.89,323.68 L484.89,323.68 Z M488.60,320.44 L491.10,324.77 L486.10,324.77 Z M489.81,321.87 L492.31,326.20 L487.31,326.20 Z M491.02,323.20 L493.52,327.53 L488.52,327.53 Z M492.24,323.03 L494.74,327.36 L489.74,327.36 Z M493.45,324.40 L495.95,328.73 L490.95,328.73 Z M494.66,324.64 L497.16,328.97 L492.16,328.97 Z M495.87,324.06 L498.37,328.39 L493.37,328.39 Z M497.08,323.90 L499.58,328.23 L494.58,328.23 Z M498.29,322.73 L500.79,327.06 L495.79,327.06 Z M499.50,322.33 L502.00,326.66 L497.00,326.66 Z M500.71,322.38 L503.21,326.71 L498.21,326.71 Z M501.92,324.23 L504.42,328.56 L499.42,328.56 Z M503.13,324.38 L505.63,328.71 L500.63,328.71 Z M504.35,325.54 L506.85,329.87 L501.85,329.87 Z M505.56,326.43 L508.06,330.76 L503.06,330.76 Z M506.77,325.52 L509.27,329.85 L504.27,329.85 Z M507.98,325.57 L510.48,329.90 L505.48,329.90 Z M509.19,325.28 L511.69,329.61 L506.69,329.61 Z M510.40,323.82 L512.90,328.15 L507.90,328.15 Z M511.61,321.30 L514.11,325.63 L509.11,325.63 Z M512.82,322.22 L515.32,326.55 L510.32,326.55 Z M514.03,323.95 L516.53,328.28 L511.53,328.28 Z M515.25,324.02 L517.75,328.35 L512.75,328.35 Z M516.46,325.38 L518.96,329.71 L513.96,329.71 Z M517.67,325.94 L520.17,330.27 L515.17,330.27 Z M518.88,327.90 L521.38,332.23 L516.38,332.23 Z M520.09,327.26 L522.59,331.59 L517.59,331.59 Z M521.30,326.62 L523.80,330.95 L518.80,330.95 Z M522.51,323.92 L525.01,328.25 L520.01,328.25 Z M523.72,324.36 L526.22,328.69 L521.22,328.69 Z M524.93,324.11 L527.43,328.44 L522.43,328.44 Z M526.14,323.48 L528.64,327.81 L523.64,327.81 Z M527.36,325.88 L529.86,330.21 L524.86,330.21 Z M528.57,326.69 L531.07,331.02 L526.07,331.02 Z M529.78,325.52 L532.28,329.85 L527.28,329.85 Z M530.99,326.38 L533.49,330.71 L528.49,330.71 Z M532.20,323.82 L534.70,328.15 L529.70,328.15 Z M533.41,322.80 L535.91,327.13 L530.91,327.13 Z M534.62,322.78 L537.12,327.11 L532.12,327.11 Z M535.83,321.40 L538.33,325.73 L533.33,325.73 Z M537.04,320.70 L539.54,325.03 L534.54,325.03 Z M538.25,322.26 L540.75,326.59 L535.75,326.59 Z M539.47,323.38 L541.97,327.71 L536.97,327.71 Z M540.68,323.87 L543.18,328.20 L538.18,328.20 Z M541.89,323.70 L544.39,328.03 L539.39,328.03 Z M543.10,323.09 L545.60,327.42 L540.60,327.42 Z M544.31,323.14 L546.81,327.47 L541.81,327.47 Z M545.52,320.54 L548.02,324.87 L543.02,324.87 Z M546.73,320.91 L549.23,325.24 L544.23,325.24 Z M547.94,321.20 L550.44,325.53 L545.44,325.53 Z M549.15,321.40 L551.65,325.73 L546.65,325.73 Z M550.36,323.36 L552.86,327.69 L547.86,327.69 Z M551.58,325.27 L554.08,329.60 L549.08,329.60 Z M552.79,326.22 L555.29,330.55 L550.29,330.55 Z M554.00,324.73 L556.50,329.06 L551.50,329.06 Z M555.21,326.36 L557.71,330.69 L552.71,330.69 Z M556.42,325.31 L558.92,329.64 L553.92,329.64 Z M557.63,325.17 L560.13,329.50 L555.13,329.50 Z M558.84,322.51 L561.34,326.84 L556.34,326.84 Z M560.05,322.37 L562.55,326.70 L557.55,326.70 Z M561.26,322.49 L563.76,326.82 L558.76,326.82 Z M562.47,324.92 L564.97,329.25 L559.97,329.25 Z M563.68,324.36 L566.18,328.69 L561.18,328.69 Z M564.90,324.68 L567.40,329.01 L562.40,329.01 Z M566.11,326.05 L568.61,330.38 L563.61,330.38 Z M567.32,327.88 L569.82,332.21 L564.82,332.21 Z M568.53,327.63 L571.03,331.96 L566.03,331.96 Z M569.74,325.93 L572.24,330.26 L567.24,330.26 Z M570.95,325.32 L573.45,329.65 L568.45,329.65 Z M572.16,326.82 L574.66,331.15 L569.66,331.15 Z M573.37,325.63 L575.87,329.96 L570.87,329.96 Z M574.58,325.59 L577.08,329.92 L572.08,329.92 Z M575.79,323.78 L578.29,328.11 L573.29,328.11 Z M577.01,323.31 L579.51,327.64 L574.51,327.64 Z M578.22,324.31 L580.72,328.64 L575.72,328.64 Z M579.43,323.17 L581.93,327.50 L576.93,327.50 Z M580.64,321.81 L583.14,326.14 L578.14,326.14 Z M581.85,323.38 L584.35,327.71 L579.35,327.71 Z M583.06,322.14 L585.56,326.47 L580.56,326.47 Z M584.27,322.03 L586.77,326.36 L581.77,326.36 Z M585.48,319.79 L587.98,324.12 L582.98,324.12 Z M586.69,321.61 L589.19,325.94 L584.19,325.94 Z M587.90,319.79 L590.40,324.12 L585.40,324.12 Z M589.12,321.77 L591.62,326.10 L586.62,326.10 Z M590.33,320.86 L592.83,325.19 L587.83,325.19 Z M591.54,320.66 L594.04,324.99 L589.04,324.99 Z M592.75,321.24 L595.25,325.57 L590.25,325.57 Z M593.96,322.21 L596.46,326.54 L591.46,326.54 Z M595.17,320.70 L597.67,325.03 L592.67,325.03 Z M596.38,320.52 L598.88,324.85 L593.88,324.85 Z M597.59,321.81 L600.09,326.14 L595.09,326.14 Z M598.80,321.46 L601.30,325.79 L596.30,325.79 Z M600.01,321.49 L602.51,325.82 L597.51,325.82 Z M601.23,321.96 L603.73,326.29 L598.73,326.29 Z M602.44,322.03 L604.94,326.36 L599.94,326.36 Z M603.65,322.74 L606.15,327.07 L601.15,327.07 Z M604.86,323.34 L607.36,327.67 L602.36,327.67 Z M606.07,323.67 L608.57,328.00 L603.57,328.00 Z M607.28,325.12 L609.78,329.45 L604.78,329.45 Z M608.49,324.36 L610.99,328.69 L605.99,328.69 Z M609.70,325.22 L612.20,329.55 L607.20,329.55 Z M610.91,324.81 L613.41,329.14 L608.41,329.14 Z M612.12,325.57 L614.62,329.90 L609.62,329.90 Z M613.34,325.14 L615.84,329.47 L610.84,329.47 Z M614.55,326.06 L617.05,330.39 L612.05,330.39 Z M615.76,325.85 L618.26,330.18 L613.26,330.18 Z M616.97,327.94 L619.47,332.27 L614.47,332.27 Z M618.18,327.86 L620.68,332.19 L615.68,332.19 Z M619.39,327.35 L621.89,331.68 L616.89,331.68 Z M620.60,328.39 L623.10,332.72 L618.10,332.72 Z M621.81,330.07 L624.31,334.40 L619.31,334.40 Z M623.02,328.79 L625.52,333.12 L620.52,333.12 Z M624.24,331.22 L626.74,335.55 L621.74,335.55 Z M625.45,331.01 L627.95,335.34 L622.95,335.34 Z M626.66,331.88 L629.16,336.21 L624.16,336.21 Z M627.87,333.41 L630.37,337.74 L625.37,337.74 Z M629.08,333.06 L631.58,337.39 L626.58,337.39 Z M630.29,334.05 L632.79,338.38 L627.79,338.38 Z M631.50,335.28 L634.00,339.61 L629.00,339.61 Z M632.71,336.78 L635.21,341.11 L630.21,341.11 Z M633.92,336.05 L636.42,340.38 L631.42,340.38 Z M635.13,338.02 L637.63,342.35 L632.63,342.35 Z M636.35,338.52 L638.85,342.85 L633.85,342.85 Z M637.56,339.15 L640.06,343.48 L635.06,343.48 Z M638.77,339.39 L641.27,343.72 L636.27,343.72 Z M639.98,339.94 L642.48,344.27 L637.48,344.27 Z M641.19,339.23 L643.69,343.56 L638.69,343.56 Z M642.40,339.41 L644.90,343.74 L639.90,343.74 Z " stroke="#3760b8" stroke-width="0.6" fill="#fff" stroke-linejoin="miter"/>
<path d="M447.80,295.20 L447.80,285.20 L402.80,285.20" stroke="#333" stroke-width="1.5" fill="none" stroke-linejoin="round"/>
<path d="M402.80,285.20 L409.80,282.70 L409.80,287.70 Z" fill="#333" stroke="#333" stroke-width="0.8" stroke-linejoin="round"/>
<path d="M594.30,274.00 L594.30,284.00 L639.50,284.00" stroke="#ef4b4b" stroke-width="1.4" fill="none" stroke-linejoin="round"/>
<path d="M639.50,284.00 L632.50,286.50 L632.50,281.50 Z" fill="#ef4b4b" stroke="#ef4b4b" stroke-width="0.8" stroke-linejoin="round"/>
<path d="M400.2,386.8 H578 V411.7" stroke="#2d2d2d" stroke-width="1.2" fill="none"/>
<path d="M403.4,394.6 h21.5" stroke="#3760b8" stroke-width="1.0"/>
<path d="M403.4,403.0 h7.5 M417.4,403.0 h7.5" stroke="#b8c4e8" stroke-width="1.2"/>
<path d="M414.40,392.21 L416.70,396.19 L412.10,396.19 Z " stroke="#3760b8" stroke-width="1.0" fill="#fff" stroke-linejoin="miter"/>
<path d="M414.40,401.23 L416.10,404.18 L412.70,404.18 Z " stroke="#3760b8" stroke-width="0.6" fill="#3760b8" stroke-linejoin="miter"/>
<text x="427.00" y="402.90" font-size="9" text-anchor="start" fill="#2b2b2b" stroke="#2b2b2b" stroke-width="0.32" font-weight="bold" >LMP-S</text>
<path d="M462.3,394.6 h21.5" stroke="#ef4b4b" stroke-width="1.0"/>
<path d="M462.3,403.0 h7.5 M476.3,403.0 h7.5" stroke="#f6c0c0" stroke-width="1.2"/>
<circle cx="473.30" cy="394.60" r="2.30" stroke="#ef4b4b" stroke-width="1.0" fill="#fff"/>
<circle cx="473.30" cy="403.00" r="1.70" stroke="#ef4b4b" stroke-width="0.6" fill="#ef4b4b"/>
<text x="486.40" y="402.90" font-size="9" text-anchor="start" fill="#2b2b2b" stroke="#2b2b2b" stroke-width="0.32" font-weight="bold" >LMP-C</text>
<path d="M521.4,394.6 h21.5" stroke="#1e1e1e" stroke-width="1.0"/>
<path d="M521.4,403.0 h7.5 M535.4,403.0 h7.5" stroke="#c8c8c8" stroke-width="1.2"/>
<path d="M530.10,392.30 h4.60 v4.60 h-4.60 Z " stroke="#1e1e1e" stroke-width="1.0" fill="#fff"/>
<path d="M530.70,401.30 h3.40 v3.40 h-3.40 Z " stroke="#1e1e1e" stroke-width="0.6" fill="#1e1e1e"/>
<text x="545.50" y="402.90" font-size="9" text-anchor="start" fill="#2b2b2b" stroke="#2b2b2b" stroke-width="0.32" font-weight="bold" >LMP-A</text>
<path d="M400.2,239.6 V412.3" stroke="#2d2d2d" stroke-width="1.45" fill="none"/>
<path d="M642.4,239.6 V412.3" stroke="#ef4b4b" stroke-width="1.45" fill="none"/>
<text x="406.40" y="256.80" font-size="18" text-anchor="start" fill="#111" stroke="#111" stroke-width="0.32" font-weight="bold" textLength="23" lengthAdjust="spacingAndGlyphs">(d)</text>
</g></svg></body></html>
